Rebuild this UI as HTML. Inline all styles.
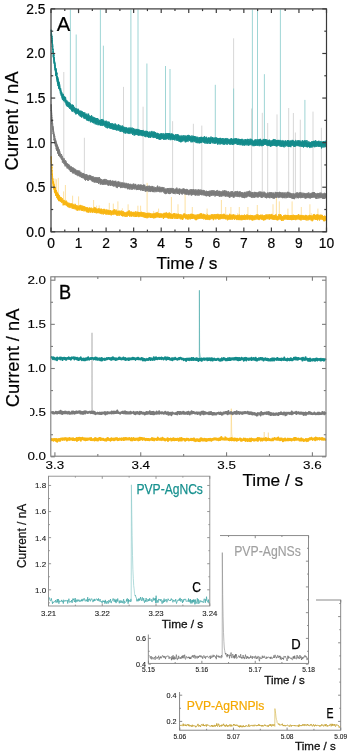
<!DOCTYPE html>
<html><head><meta charset="utf-8"><style>
html,body{margin:0;padding:0;background:#fff;width:350px;height:755px;overflow:hidden}
svg{display:block;font-family:"Liberation Sans",sans-serif;will-change:transform}
</style></head><body><svg width="350" height="755" viewBox="0 0 350 755"><g><line x1="63.80" y1="72.00" x2="63.80" y2="161.00" stroke="#d2d2d2" stroke-width="0.9"/><line x1="84.40" y1="137.80" x2="84.40" y2="176.20" stroke="#d2d2d2" stroke-width="0.9"/><line x1="123.50" y1="86.90" x2="123.50" y2="185.39" stroke="#d2d2d2" stroke-width="0.9"/><line x1="143.10" y1="106.70" x2="143.10" y2="188.06" stroke="#d2d2d2" stroke-width="0.9"/><line x1="172.60" y1="121.20" x2="172.60" y2="190.88" stroke="#d2d2d2" stroke-width="0.9"/><line x1="193.40" y1="123.80" x2="193.40" y2="192.25" stroke="#d2d2d2" stroke-width="0.9"/><line x1="201.80" y1="125.60" x2="201.80" y2="192.71" stroke="#d2d2d2" stroke-width="0.9"/><line x1="233.60" y1="38.30" x2="233.60" y2="193.99" stroke="#d2d2d2" stroke-width="0.9"/><line x1="251.60" y1="108.50" x2="251.60" y2="194.50" stroke="#d2d2d2" stroke-width="0.9"/><line x1="262.30" y1="112.80" x2="262.30" y2="194.74" stroke="#d2d2d2" stroke-width="0.9"/><line x1="267.70" y1="123.00" x2="267.70" y2="194.85" stroke="#d2d2d2" stroke-width="0.9"/><line x1="277.00" y1="114.40" x2="277.00" y2="195.02" stroke="#d2d2d2" stroke-width="0.9"/><line x1="288.70" y1="108.00" x2="288.70" y2="195.21" stroke="#d2d2d2" stroke-width="0.9"/><line x1="293.40" y1="113.00" x2="293.40" y2="195.27" stroke="#d2d2d2" stroke-width="0.9"/><line x1="295.40" y1="132.50" x2="295.40" y2="195.30" stroke="#d2d2d2" stroke-width="0.9"/><line x1="300.30" y1="119.70" x2="300.30" y2="195.36" stroke="#d2d2d2" stroke-width="0.9"/><line x1="313.00" y1="111.60" x2="313.00" y2="195.51" stroke="#d2d2d2" stroke-width="0.9"/><line x1="321.40" y1="127.80" x2="321.40" y2="195.59" stroke="#d2d2d2" stroke-width="0.9"/><line x1="70.40" y1="9.50" x2="70.40" y2="106.55" stroke="#93d0d0" stroke-width="0.9"/><line x1="76.20" y1="34.50" x2="76.20" y2="111.10" stroke="#93d0d0" stroke-width="0.9"/><line x1="100.40" y1="9.50" x2="100.40" y2="122.47" stroke="#93d0d0" stroke-width="0.9"/><line x1="103.40" y1="45.70" x2="103.40" y2="123.51" stroke="#93d0d0" stroke-width="0.9"/><line x1="130.90" y1="9.50" x2="130.90" y2="130.92" stroke="#93d0d0" stroke-width="0.9"/><line x1="138.00" y1="9.50" x2="138.00" y2="132.34" stroke="#93d0d0" stroke-width="0.9"/><line x1="146.90" y1="63.50" x2="146.90" y2="133.89" stroke="#93d0d0" stroke-width="0.9"/><line x1="165.50" y1="66.00" x2="165.50" y2="136.50" stroke="#93d0d0" stroke-width="0.9"/><line x1="170.00" y1="69.00" x2="170.00" y2="137.03" stroke="#93d0d0" stroke-width="0.9"/><line x1="215.30" y1="84.80" x2="215.30" y2="140.74" stroke="#93d0d0" stroke-width="0.9"/><line x1="233.60" y1="88.50" x2="233.60" y2="141.68" stroke="#93d0d0" stroke-width="0.9"/><line x1="252.40" y1="9.50" x2="252.40" y2="142.45" stroke="#93d0d0" stroke-width="0.9"/><line x1="257.50" y1="9.50" x2="257.50" y2="142.63" stroke="#93d0d0" stroke-width="0.9"/><line x1="264.40" y1="74.20" x2="264.40" y2="142.85" stroke="#93d0d0" stroke-width="0.9"/><line x1="280.40" y1="9.50" x2="280.40" y2="143.31" stroke="#93d0d0" stroke-width="0.9"/><line x1="304.90" y1="99.90" x2="304.90" y2="143.87" stroke="#93d0d0" stroke-width="0.9"/><line x1="55.00" y1="178.60" x2="55.00" y2="190.37" stroke="#fcd98a" stroke-width="0.8"/><line x1="56.40" y1="179.30" x2="56.40" y2="193.68" stroke="#fcd98a" stroke-width="0.8"/><line x1="58.30" y1="177.90" x2="58.30" y2="196.89" stroke="#fcd98a" stroke-width="0.8"/><line x1="63.60" y1="191.40" x2="63.60" y2="202.22" stroke="#fcd98a" stroke-width="0.8"/><line x1="65.40" y1="185.00" x2="65.40" y2="203.35" stroke="#fcd98a" stroke-width="0.8"/><line x1="72.60" y1="195.70" x2="72.60" y2="206.27" stroke="#fcd98a" stroke-width="0.8"/><line x1="78.60" y1="196.40" x2="78.60" y2="207.78" stroke="#fcd98a" stroke-width="0.8"/><line x1="93.60" y1="200.00" x2="93.60" y2="210.36" stroke="#fcd98a" stroke-width="0.8"/><line x1="109.30" y1="202.90" x2="109.30" y2="212.26" stroke="#fcd98a" stroke-width="0.8"/><line x1="113.30" y1="203.60" x2="113.30" y2="212.66" stroke="#fcd98a" stroke-width="0.8"/><line x1="117.90" y1="201.40" x2="117.90" y2="213.08" stroke="#fcd98a" stroke-width="0.8"/><line x1="128.10" y1="204.30" x2="128.10" y2="213.90" stroke="#fcd98a" stroke-width="0.8"/><line x1="137.90" y1="205.70" x2="137.90" y2="214.54" stroke="#fcd98a" stroke-width="0.8"/><line x1="140.60" y1="205.70" x2="140.60" y2="214.70" stroke="#fcd98a" stroke-width="0.8"/><line x1="147.10" y1="182.90" x2="147.10" y2="215.05" stroke="#fcd98a" stroke-width="0.8"/><line x1="158.60" y1="208.60" x2="158.60" y2="215.57" stroke="#fcd98a" stroke-width="0.8"/><line x1="171.40" y1="197.00" x2="171.40" y2="216.03" stroke="#fcd98a" stroke-width="0.8"/><line x1="178.00" y1="204.30" x2="178.00" y2="216.23" stroke="#fcd98a" stroke-width="0.8"/><line x1="185.10" y1="194.30" x2="185.10" y2="216.42" stroke="#fcd98a" stroke-width="0.8"/><line x1="192.30" y1="207.00" x2="192.30" y2="216.58" stroke="#fcd98a" stroke-width="0.8"/><line x1="207.10" y1="208.60" x2="207.10" y2="216.86" stroke="#fcd98a" stroke-width="0.8"/><line x1="221.40" y1="200.00" x2="221.40" y2="217.06" stroke="#fcd98a" stroke-width="0.8"/><line x1="225.70" y1="207.00" x2="225.70" y2="217.11" stroke="#fcd98a" stroke-width="0.8"/><line x1="230.90" y1="207.00" x2="230.90" y2="217.17" stroke="#fcd98a" stroke-width="0.8"/><line x1="239.30" y1="207.00" x2="239.30" y2="217.25" stroke="#fcd98a" stroke-width="0.8"/><line x1="247.90" y1="207.00" x2="247.90" y2="217.32" stroke="#fcd98a" stroke-width="0.8"/><line x1="257.30" y1="205.00" x2="257.30" y2="217.38" stroke="#fcd98a" stroke-width="0.8"/><line x1="273.00" y1="204.30" x2="273.00" y2="217.47" stroke="#fcd98a" stroke-width="0.8"/><line x1="276.40" y1="197.00" x2="276.40" y2="217.48" stroke="#fcd98a" stroke-width="0.8"/><line x1="279.30" y1="201.40" x2="279.30" y2="217.49" stroke="#fcd98a" stroke-width="0.8"/><line x1="287.90" y1="208.60" x2="287.90" y2="217.53" stroke="#fcd98a" stroke-width="0.8"/><line x1="292.10" y1="201.40" x2="292.10" y2="217.54" stroke="#fcd98a" stroke-width="0.8"/><line x1="301.30" y1="207.00" x2="301.30" y2="217.57" stroke="#fcd98a" stroke-width="0.8"/><line x1="309.90" y1="204.30" x2="309.90" y2="217.59" stroke="#fcd98a" stroke-width="0.8"/><line x1="317.90" y1="208.60" x2="317.90" y2="217.61" stroke="#fcd98a" stroke-width="0.8"/><line x1="94.07" y1="206.43" x2="94.07" y2="210.43" stroke="#fcd98a" stroke-width="0.7"/><line x1="219.40" y1="214.92" x2="219.40" y2="217.04" stroke="#fcd98a" stroke-width="0.7"/><line x1="99.20" y1="205.40" x2="99.20" y2="211.11" stroke="#fcd98a" stroke-width="0.7"/><line x1="78.66" y1="205.28" x2="78.66" y2="207.80" stroke="#fcd98a" stroke-width="0.7"/><line x1="311.31" y1="213.10" x2="311.31" y2="217.59" stroke="#fcd98a" stroke-width="0.7"/><line x1="157.78" y1="211.49" x2="157.78" y2="215.54" stroke="#fcd98a" stroke-width="0.7"/><line x1="235.65" y1="214.11" x2="235.65" y2="217.21" stroke="#fcd98a" stroke-width="0.7"/><line x1="96.56" y1="205.62" x2="96.56" y2="210.77" stroke="#fcd98a" stroke-width="0.7"/><line x1="237.65" y1="213.18" x2="237.65" y2="217.23" stroke="#fcd98a" stroke-width="0.7"/><line x1="276.44" y1="213.28" x2="276.44" y2="217.48" stroke="#fcd98a" stroke-width="0.7"/><line x1="319.94" y1="214.79" x2="319.94" y2="217.61" stroke="#fcd98a" stroke-width="0.7"/><line x1="206.74" y1="212.92" x2="206.74" y2="216.85" stroke="#fcd98a" stroke-width="0.7"/><line x1="153.62" y1="210.99" x2="153.62" y2="215.36" stroke="#fcd98a" stroke-width="0.7"/><line x1="122.35" y1="208.25" x2="122.35" y2="213.46" stroke="#fcd98a" stroke-width="0.7"/><polygon fill="#f8b612" stroke="#f8b612" stroke-width="0.9" stroke-linejoin="round" points="51.2,156.3 51.2,156.3 51.3,156.7 51.3,157.6 51.3,157.4 51.4,159.0 51.4,159.0 51.4,159.6 51.4,160.3 51.5,160.4 51.5,160.8 51.5,162.2 51.5,162.9 51.6,163.8 51.6,164.2 51.6,164.1 51.7,165.0 51.7,165.8 51.7,166.1 51.7,166.3 51.8,165.9 51.8,167.4 51.8,166.9 51.8,168.0 51.9,167.4 51.9,168.8 51.9,168.7 51.9,169.9 52.0,170.7 52.0,170.8 52.0,170.1 52.1,170.6 52.1,171.1 52.1,172.4 52.1,172.4 52.2,172.7 52.2,173.1 52.2,173.6 52.2,173.7 52.3,174.6 52.3,174.0 52.3,174.4 52.4,173.7 52.4,173.9 52.4,174.6 52.4,174.4 52.5,175.2 52.5,176.1 52.5,176.0 52.5,175.9 52.6,176.2 52.6,176.7 52.6,176.7 52.6,177.6 52.7,177.7 52.7,178.1 52.7,178.5 52.8,178.2 52.8,178.2 52.8,179.3 52.8,178.8 52.9,179.3 52.9,179.0 52.9,178.8 52.9,179.0 53.0,179.1 53.0,179.6 53.0,179.4 53.0,179.9 53.1,180.8 53.1,180.6 53.1,181.4 53.2,181.1 53.2,181.5 53.2,181.2 53.2,181.9 53.3,183.1 53.3,182.5 53.3,182.7 53.3,182.3 53.4,182.5 53.4,181.7 53.4,182.0 53.5,183.0 53.5,183.2 53.5,182.6 53.5,182.9 53.6,183.1 53.6,183.0 53.6,182.6 53.6,182.7 53.7,183.4 53.7,182.8 53.7,183.3 53.7,183.7 53.8,183.6 53.8,184.5 53.8,184.2 53.9,184.7 53.9,184.4 53.9,184.5 53.9,185.1 54.0,185.1 54.0,184.7 54.0,185.1 54.0,185.0 54.1,184.8 54.1,185.5 54.1,184.8 54.2,185.5 54.2,185.7 54.2,185.6 54.2,185.2 54.3,186.4 54.3,186.4 54.3,186.6 54.3,187.1 54.4,187.1 54.4,186.8 54.4,187.4 54.4,186.5 54.5,187.6 54.5,187.1 54.5,187.5 54.6,187.8 54.6,187.2 54.6,186.9 54.6,187.6 54.7,187.2 54.7,187.2 54.7,187.3 54.7,188.3 54.8,188.0 54.8,188.0 54.8,187.4 54.9,188.3 54.9,187.5 54.9,188.5 54.9,187.9 55.0,189.3 55.0,187.5 55.0,189.0 55.0,188.7 55.1,187.6 55.1,188.4 55.1,189.1 55.1,189.2 55.2,187.9 55.2,188.3 55.2,188.0 55.3,188.4 55.3,188.5 55.3,189.7 55.3,189.1 55.4,188.8 55.4,189.1 55.4,189.4 55.4,189.6 55.5,189.1 55.5,190.2 55.5,189.0 55.6,189.5 55.6,190.1 55.6,190.8 55.6,190.2 55.7,190.4 55.7,191.1 55.7,190.8 55.7,191.1 55.8,191.1 55.8,190.9 55.8,191.0 55.8,191.0 55.9,190.6 55.9,191.5 55.9,190.0 56.0,190.5 56.0,191.7 56.0,191.2 56.0,190.9 56.1,191.3 56.1,191.5 56.1,190.9 56.1,191.4 56.2,190.8 56.2,190.6 56.2,190.6 56.3,191.0 56.3,190.2 56.3,190.8 56.3,191.3 56.4,190.9 56.4,190.7 56.4,191.6 56.4,191.5 56.5,191.7 56.5,192.0 56.5,191.7 56.5,193.5 56.6,191.5 56.6,191.6 56.6,191.1 56.7,191.6 56.7,192.7 56.7,192.2 56.7,192.6 56.8,192.2 56.8,193.3 56.8,192.7 56.8,192.3 56.9,193.5 56.9,193.0 56.9,193.6 57.0,193.7 57.0,193.8 57.0,193.5 57.0,193.2 57.1,193.0 57.1,194.1 57.1,193.6 57.1,193.8 57.2,193.5 57.2,192.8 57.2,192.9 57.2,194.0 57.3,193.2 57.3,193.4 57.3,192.7 57.4,193.2 57.4,193.3 57.4,193.1 57.4,193.3 57.5,193.0 57.5,193.2 57.5,193.6 57.5,193.7 57.6,193.5 57.6,194.5 57.6,193.9 57.7,194.0 57.7,193.9 57.7,194.9 57.7,193.8 57.8,193.5 57.8,193.9 57.8,194.7 57.8,193.9 57.9,195.1 57.9,194.4 57.9,193.8 57.9,194.3 58.0,195.2 58.0,194.0 58.0,194.0 58.1,194.7 58.1,194.9 58.1,194.8 58.1,194.1 58.2,194.5 58.2,194.4 58.2,195.0 58.2,195.8 58.3,194.9 58.3,195.4 58.3,194.7 58.4,195.4 58.4,194.6 58.4,194.6 58.4,195.2 58.5,194.8 58.5,195.8 58.5,194.7 58.5,195.1 58.6,195.4 58.6,195.3 58.6,195.4 58.6,196.1 58.7,197.1 58.7,195.3 58.7,196.0 58.8,195.6 58.8,195.4 58.8,196.2 58.8,195.5 58.9,195.7 58.9,196.4 58.9,194.9 58.9,196.0 59.0,196.0 59.0,195.6 59.0,196.5 59.0,196.6 59.1,196.0 59.1,196.6 59.1,195.8 59.2,196.9 59.2,196.7 59.2,196.3 59.2,196.9 59.3,196.6 59.5,197.3 59.8,196.4 60.0,197.2 60.2,197.3 60.5,198.1 60.7,197.1 61.0,198.3 61.2,197.3 61.5,198.4 61.7,198.5 61.9,199.0 62.2,198.5 62.4,198.2 62.7,198.7 62.9,200.6 63.1,200.4 63.4,200.2 63.6,201.0 63.9,200.1 64.1,200.3 64.4,200.2 64.6,201.8 64.8,202.3 65.1,201.1 65.3,201.5 65.6,201.8 65.8,202.2 66.1,200.5 66.3,202.0 66.5,202.3 66.8,201.5 67.0,202.3 67.3,202.5 67.5,202.8 67.8,202.5 68.0,202.9 68.2,202.8 68.5,203.4 68.7,203.3 69.0,203.3 69.2,202.8 69.5,204.2 69.7,203.9 69.9,203.9 70.2,203.4 70.4,203.6 70.7,204.3 70.9,204.0 71.2,203.4 71.4,203.6 71.6,203.8 71.9,203.8 72.1,203.5 72.4,204.5 72.6,204.3 72.9,204.3 73.1,203.9 73.3,204.4 73.6,204.6 73.8,205.3 74.1,204.8 74.3,205.6 74.6,205.0 74.8,204.8 75.0,203.8 75.3,204.5 75.5,204.4 75.8,205.0 76.0,205.4 76.3,206.1 76.5,205.6 76.7,205.2 77.0,206.9 77.2,206.0 77.5,205.8 77.7,205.9 78.0,205.5 78.2,206.3 78.4,206.1 78.7,206.4 78.9,206.2 79.2,205.9 79.4,206.0 79.7,205.4 79.9,205.4 80.1,205.4 80.4,204.9 80.6,205.9 80.9,205.7 81.1,206.6 81.4,206.2 81.6,205.5 81.8,206.5 82.1,207.0 82.3,205.7 82.6,206.5 82.8,206.7 83.1,205.9 83.3,206.3 83.5,206.4 83.8,206.0 84.0,206.6 84.3,206.7 84.5,206.2 84.8,206.8 85.0,207.4 85.2,206.9 85.5,207.1 85.7,207.5 86.0,207.1 86.2,207.6 86.5,207.7 86.7,207.3 86.9,208.1 87.2,208.1 87.4,208.0 87.7,207.3 87.9,207.9 88.2,208.2 88.4,208.0 88.6,208.6 88.9,208.6 89.1,207.8 89.4,207.8 89.6,207.6 89.9,208.3 90.1,208.0 90.3,207.9 90.6,208.3 90.8,207.9 91.1,208.2 91.3,208.4 91.6,207.7 91.8,208.3 92.0,208.8 92.3,208.5 92.5,208.5 92.8,209.7 93.0,208.8 93.3,208.6 93.5,208.9 93.7,208.8 94.0,208.3 94.2,207.3 94.5,208.1 94.7,208.2 95.0,209.3 95.2,207.3 95.4,209.1 95.7,208.2 95.9,208.7 96.2,208.5 96.4,208.8 96.7,209.3 96.9,208.7 97.1,209.4 97.4,208.9 97.6,208.9 97.9,209.0 98.1,208.8 98.4,209.0 98.6,209.4 98.8,208.3 99.1,208.2 99.3,209.0 99.6,209.8 99.8,209.5 100.1,209.8 100.3,209.8 100.5,209.1 100.8,209.6 101.0,208.5 101.3,209.4 101.5,210.0 101.8,209.0 102.0,208.9 102.2,209.1 102.5,209.8 102.7,210.0 103.0,210.7 103.2,210.4 103.5,209.2 103.7,208.9 103.9,209.8 104.2,210.3 104.4,208.9 104.7,209.4 104.9,209.6 105.2,210.1 105.4,209.9 105.6,210.2 105.9,210.2 106.1,209.6 106.4,210.0 106.6,210.7 106.9,209.5 107.1,209.7 107.3,210.4 107.6,210.9 107.8,210.1 108.1,210.5 108.3,209.8 108.6,210.5 108.8,210.0 109.0,210.7 109.3,210.7 109.5,210.6 109.8,210.9 110.0,211.1 110.3,210.4 110.5,211.1 110.7,210.3 111.0,211.5 111.2,212.2 111.5,211.1 111.7,211.0 111.9,210.9 112.2,211.3 112.4,210.7 112.7,211.1 112.9,210.6 113.2,210.4 113.4,210.6 113.6,210.5 113.9,209.6 114.1,211.2 114.4,210.3 114.6,209.3 114.9,210.6 115.1,210.4 115.3,210.7 115.6,211.0 115.8,210.5 116.1,209.6 116.3,211.0 116.6,211.2 116.8,211.6 117.0,210.8 117.3,211.2 117.5,211.4 117.8,210.9 118.0,210.9 118.3,211.3 118.5,210.8 118.7,212.1 119.0,210.9 119.2,211.3 119.5,211.1 119.7,210.8 120.0,211.2 120.2,211.3 120.4,211.5 120.7,211.2 120.9,210.8 121.2,211.4 121.4,210.6 121.7,211.2 121.9,211.7 122.1,211.9 122.4,211.2 122.6,211.4 122.9,212.8 123.1,211.4 123.4,211.2 123.6,211.5 123.8,212.0 124.1,212.8 124.3,212.2 124.6,212.5 124.8,212.4 125.1,212.5 125.3,212.8 125.5,212.5 125.8,212.8 126.0,212.4 126.3,212.2 126.5,212.5 126.8,211.9 127.0,212.3 127.2,211.7 127.5,211.9 127.7,211.7 128.0,212.1 128.2,211.7 128.5,211.5 128.7,212.4 128.9,210.5 129.2,211.4 129.4,210.6 129.7,211.8 129.9,212.1 130.2,212.3 130.4,212.3 130.6,211.6 130.9,213.0 131.1,212.3 131.4,212.1 131.6,211.6 131.9,212.4 132.1,212.0 132.3,212.1 132.6,212.6 132.8,212.5 133.1,212.2 133.3,213.2 133.6,212.1 133.8,211.8 134.0,212.3 134.3,212.3 134.5,212.6 134.8,212.4 135.0,212.5 135.3,212.2 135.5,211.5 135.7,212.1 136.0,211.7 136.2,212.3 136.5,212.7 136.7,212.5 137.0,213.4 137.2,211.6 137.4,211.9 137.7,212.2 137.9,213.0 138.2,212.6 138.4,211.9 138.7,213.1 138.9,212.2 139.1,212.5 139.4,213.2 139.6,212.3 139.9,212.2 140.1,212.7 140.4,212.4 140.6,212.5 140.8,212.0 141.1,212.4 141.3,211.9 141.6,211.8 141.8,213.3 142.1,212.7 142.3,213.1 142.5,212.4 142.8,213.1 143.0,212.9 143.3,212.4 143.5,213.2 143.8,212.7 144.0,213.0 144.2,212.5 144.5,213.8 144.7,213.5 145.0,213.2 145.2,212.7 145.5,213.1 145.7,213.9 145.9,213.3 146.2,213.9 146.4,213.7 146.7,213.1 146.9,214.5 147.2,212.9 147.4,213.8 147.6,213.6 147.9,212.8 148.1,213.6 148.4,213.8 148.6,213.3 148.9,212.8 149.1,213.3 149.3,213.3 149.6,213.1 149.8,213.8 150.1,213.3 150.3,213.6 150.6,213.9 150.8,213.1 151.0,213.3 151.3,213.9 151.5,213.8 151.8,214.3 152.0,214.1 152.3,213.9 152.5,214.0 152.7,213.7 153.0,213.9 153.2,213.6 153.5,214.2 153.7,213.6 154.0,213.8 154.2,214.0 154.4,213.8 154.7,213.9 154.9,212.9 155.2,213.9 155.4,213.4 155.7,213.8 155.9,213.6 156.1,212.5 156.4,214.6 156.6,213.5 156.9,213.3 157.1,212.2 157.4,213.4 157.6,213.4 157.8,213.2 158.1,213.4 158.3,213.8 158.6,213.2 158.8,213.0 159.1,214.1 159.3,213.7 159.5,213.6 159.8,214.7 160.0,213.7 160.3,213.4 160.5,213.8 160.7,213.5 161.0,213.8 161.2,213.8 161.5,213.5 161.7,213.7 162.0,213.9 162.2,213.8 162.4,213.9 162.7,214.3 162.9,213.8 163.2,214.2 163.4,213.7 163.7,213.6 163.9,214.2 164.1,212.8 164.4,214.0 164.6,215.4 164.9,213.0 165.1,214.2 165.4,212.7 165.6,213.4 165.8,213.9 166.1,214.0 166.3,212.8 166.6,212.4 166.8,212.5 167.1,213.5 167.3,213.0 167.5,213.5 167.8,213.9 168.0,214.0 168.3,214.0 168.5,213.7 168.8,213.1 169.0,214.7 169.2,212.4 169.5,214.3 169.7,213.8 170.0,213.7 170.2,213.4 170.5,213.4 170.7,214.0 170.9,214.2 171.2,213.8 171.4,214.7 171.7,214.2 171.9,214.9 172.2,214.1 172.4,213.9 172.6,214.3 172.9,214.6 173.1,213.5 173.4,213.7 173.6,214.4 173.9,213.4 174.1,213.3 174.3,214.0 174.6,213.4 174.8,213.1 175.1,213.5 175.3,214.2 175.6,214.3 175.8,214.5 176.0,214.4 176.3,213.6 176.5,214.7 176.8,214.9 177.0,214.1 177.3,214.7 177.5,214.2 177.7,214.8 178.0,214.8 178.2,213.6 178.5,214.9 178.7,214.0 179.0,214.4 179.2,214.2 179.4,214.6 179.7,215.0 179.9,214.8 180.2,215.5 180.4,215.3 180.7,215.1 180.9,214.0 181.1,215.2 181.4,215.3 181.6,215.1 181.9,215.1 182.1,215.5 182.4,215.5 182.6,215.9 182.8,215.3 183.1,214.3 183.3,214.7 183.6,213.7 183.8,214.3 184.1,214.1 184.3,213.6 184.5,213.9 184.8,213.8 185.0,213.6 185.3,214.5 185.5,215.7 185.8,214.8 186.0,215.1 186.2,214.8 186.5,214.6 186.7,216.0 187.0,214.6 187.2,215.2 187.5,214.9 187.7,215.2 187.9,214.8 188.2,215.2 188.4,214.3 188.7,214.8 188.9,215.5 189.2,214.4 189.4,214.7 189.6,215.6 189.9,215.3 190.1,215.4 190.4,213.9 190.6,214.6 190.9,214.1 191.1,213.9 191.3,214.6 191.6,214.9 191.8,213.8 192.1,214.0 192.3,214.1 192.6,214.7 192.8,214.0 193.0,215.6 193.3,214.7 193.5,214.4 193.8,214.6 194.0,216.1 194.3,215.8 194.5,214.8 194.7,215.3 195.0,215.6 195.2,214.7 195.5,215.5 195.7,216.4 196.0,215.4 196.2,215.4 196.4,214.7 196.7,215.1 196.9,215.5 197.2,214.7 197.4,214.4 197.7,214.6 197.9,215.5 198.1,214.7 198.4,214.5 198.6,214.7 198.9,215.0 199.1,214.7 199.4,213.9 199.6,214.7 199.8,214.2 200.1,214.7 200.3,213.5 200.6,214.8 200.8,213.9 201.1,213.3 201.3,214.5 201.5,213.7 201.8,214.1 202.0,213.8 202.3,214.7 202.5,215.0 202.8,215.0 203.0,214.7 203.2,213.8 203.5,214.0 203.7,214.8 204.0,214.4 204.2,215.1 204.5,215.0 204.7,214.4 204.9,214.5 205.2,214.5 205.4,214.8 205.7,215.2 205.9,215.5 206.2,215.9 206.4,214.9 206.6,215.0 206.9,216.0 207.1,215.6 207.4,215.4 207.6,214.3 207.8,214.8 208.1,215.3 208.3,215.2 208.6,216.5 208.8,215.5 209.1,215.8 209.3,215.2 209.5,215.1 209.8,215.3 210.0,215.1 210.3,215.3 210.5,215.4 210.8,215.3 211.0,215.4 211.2,214.3 211.5,214.6 211.7,214.8 212.0,215.5 212.2,214.6 212.5,215.0 212.7,214.4 212.9,215.2 213.2,215.0 213.4,214.7 213.7,214.8 213.9,215.3 214.2,215.4 214.4,214.4 214.6,215.1 214.9,214.4 215.1,215.5 215.4,215.3 215.6,214.6 215.9,214.3 216.1,215.4 216.3,214.5 216.6,214.4 216.8,214.0 217.1,214.4 217.3,214.9 217.6,214.6 217.8,213.8 218.0,214.8 218.3,214.6 218.5,214.3 218.8,215.5 219.0,215.0 219.3,215.5 219.5,214.7 219.7,215.1 220.0,214.4 220.2,215.5 220.5,214.6 220.7,215.4 221.0,214.2 221.2,214.9 221.4,214.9 221.7,215.0 221.9,215.6 222.2,214.6 222.4,215.5 222.7,215.3 222.9,214.2 223.1,214.1 223.4,214.1 223.6,214.7 223.9,215.1 224.1,213.8 224.4,215.1 224.6,215.0 224.8,214.7 225.1,215.6 225.3,214.9 225.6,216.0 225.8,215.8 226.1,215.4 226.3,216.0 226.5,215.6 226.8,215.2 227.0,214.6 227.3,215.4 227.5,216.0 227.8,215.5 228.0,216.1 228.2,215.4 228.5,215.3 228.7,215.5 229.0,214.9 229.2,215.1 229.5,214.7 229.7,213.8 229.9,214.1 230.2,215.4 230.4,215.0 230.7,215.2 230.9,214.6 231.2,214.8 231.4,215.7 231.6,215.3 231.9,214.8 232.1,215.8 232.4,215.0 232.6,215.0 232.9,215.6 233.1,214.3 233.3,215.3 233.6,214.7 233.8,214.7 234.1,214.6 234.3,215.4 234.6,215.1 234.8,215.2 235.0,215.2 235.3,215.8 235.5,216.0 235.8,215.6 236.0,215.8 236.3,215.3 236.5,215.5 236.7,216.0 237.0,215.9 237.2,216.3 237.5,214.9 237.7,217.0 238.0,215.3 238.2,215.7 238.4,215.9 238.7,214.9 238.9,215.0 239.2,214.7 239.4,215.1 239.7,214.9 239.9,215.8 240.1,215.9 240.4,215.5 240.6,216.1 240.9,216.3 241.1,215.5 241.4,215.3 241.6,215.1 241.8,215.1 242.1,215.9 242.3,215.6 242.6,215.2 242.8,215.2 243.1,215.6 243.3,215.2 243.5,215.5 243.8,215.4 244.0,216.2 244.3,215.9 244.5,214.6 244.8,215.0 245.0,215.4 245.2,215.0 245.5,215.5 245.7,215.2 246.0,215.5 246.2,215.2 246.5,215.2 246.7,215.2 246.9,214.4 247.2,214.7 247.4,214.8 247.7,216.0 247.9,215.4 248.2,215.6 248.4,215.5 248.6,215.2 248.9,215.2 249.1,215.9 249.4,215.3 249.6,216.2 249.9,215.6 250.1,215.5 250.3,215.2 250.6,215.1 250.8,215.2 251.1,215.9 251.3,216.3 251.6,215.1 251.8,216.0 252.0,216.3 252.3,215.6 252.5,215.5 252.8,216.1 253.0,215.3 253.3,216.6 253.5,216.2 253.7,216.1 254.0,215.9 254.2,215.8 254.5,216.5 254.7,215.5 255.0,215.9 255.2,215.3 255.4,215.4 255.7,215.1 255.9,214.9 256.2,214.5 256.4,214.6 256.6,215.2 256.9,215.4 257.1,215.2 257.4,214.9 257.6,215.2 257.9,214.2 258.1,215.7 258.3,215.4 258.6,215.6 258.8,215.8 259.1,215.1 259.3,215.8 259.6,215.1 259.8,215.3 260.0,215.0 260.3,215.0 260.5,215.7 260.8,214.7 261.0,214.8 261.3,215.0 261.5,215.4 261.7,216.4 262.0,215.2 262.2,214.6 262.5,215.4 262.7,215.2 263.0,215.8 263.2,216.3 263.4,215.9 263.7,216.1 263.9,215.3 264.2,216.0 264.4,215.3 264.7,216.1 264.9,216.1 265.1,215.2 265.4,215.3 265.6,215.2 265.9,215.3 266.1,214.3 266.4,215.0 266.6,216.2 266.8,215.2 267.1,215.3 267.3,215.1 267.6,214.5 267.8,215.4 268.1,215.0 268.3,215.0 268.5,215.1 268.8,215.5 269.0,214.2 269.3,215.4 269.5,214.8 269.8,215.1 270.0,214.5 270.2,214.5 270.5,215.5 270.7,214.9 271.0,214.9 271.2,214.5 271.5,214.7 271.7,214.8 271.9,213.9 272.2,214.7 272.4,215.2 272.7,215.8 272.9,216.0 273.2,215.1 273.4,216.5 273.6,215.8 273.9,215.8 274.1,215.4 274.4,215.2 274.6,216.0 274.9,215.2 275.1,215.2 275.3,215.8 275.6,215.8 275.8,214.3 276.1,215.2 276.3,215.6 276.6,216.3 276.8,216.7 277.0,215.8 277.3,216.2 277.5,216.3 277.8,216.3 278.0,216.0 278.3,216.5 278.5,215.4 278.7,214.3 279.0,215.0 279.2,215.7 279.5,216.0 279.7,214.6 280.0,214.8 280.2,215.8 280.4,214.0 280.7,215.8 280.9,216.3 281.2,214.8 281.4,216.4 281.7,216.0 281.9,216.8 282.1,216.4 282.4,216.1 282.6,216.4 282.9,216.8 283.1,216.5 283.4,216.2 283.6,215.3 283.8,216.1 284.1,215.9 284.3,216.3 284.6,215.2 284.8,215.2 285.1,214.8 285.3,215.5 285.5,215.1 285.8,215.0 286.0,216.2 286.3,216.2 286.5,215.2 286.8,215.1 287.0,216.1 287.2,215.0 287.5,216.7 287.7,215.3 288.0,216.0 288.2,214.9 288.5,215.3 288.7,215.9 288.9,215.8 289.2,215.3 289.4,216.7 289.7,216.0 289.9,215.6 290.2,215.5 290.4,215.5 290.6,216.1 290.9,215.2 291.1,215.8 291.4,215.1 291.6,216.2 291.9,215.4 292.1,215.7 292.3,215.6 292.6,215.2 292.8,215.6 293.1,215.6 293.3,214.7 293.6,215.4 293.8,216.9 294.0,215.2 294.3,215.7 294.5,215.2 294.8,215.8 295.0,215.3 295.3,216.0 295.5,216.0 295.7,215.5 296.0,216.5 296.2,215.8 296.5,215.2 296.7,215.5 297.0,215.0 297.2,215.8 297.4,215.4 297.7,215.3 297.9,215.7 298.2,214.7 298.4,215.7 298.7,214.2 298.9,216.0 299.1,215.6 299.4,215.4 299.6,215.2 299.9,215.8 300.1,215.4 300.4,215.3 300.6,215.6 300.8,215.1 301.1,215.3 301.3,215.4 301.6,215.6 301.8,215.1 302.1,215.1 302.3,215.2 302.5,215.6 302.8,216.1 303.0,215.4 303.3,215.6 303.5,215.4 303.8,215.8 304.0,216.4 304.2,215.8 304.5,216.0 304.7,216.3 305.0,215.2 305.2,215.1 305.4,215.0 305.7,215.3 305.9,215.9 306.2,215.4 306.4,216.5 306.7,215.3 306.9,215.4 307.1,216.2 307.4,215.9 307.6,215.8 307.9,216.3 308.1,216.5 308.4,215.8 308.6,216.3 308.8,215.4 309.1,215.7 309.3,215.0 309.6,215.1 309.8,215.2 310.1,216.2 310.3,215.3 310.5,215.9 310.8,215.6 311.0,215.9 311.3,216.0 311.5,215.7 311.8,216.8 312.0,215.7 312.2,216.6 312.5,217.5 312.7,215.6 313.0,215.7 313.2,214.8 313.5,215.3 313.7,214.3 313.9,215.4 314.2,214.9 314.4,214.2 314.7,214.4 314.9,214.6 315.2,215.3 315.4,216.0 315.6,215.3 315.9,215.1 316.1,215.4 316.4,215.9 316.6,214.6 316.9,215.9 317.1,215.8 317.3,214.3 317.6,216.1 317.8,214.9 318.1,215.5 318.3,216.2 318.6,214.8 318.8,214.7 319.0,215.1 319.3,215.0 319.5,215.6 319.8,215.5 320.0,215.3 320.3,215.0 320.5,215.2 320.7,214.7 321.0,215.3 321.2,215.1 321.5,214.9 321.7,216.3 322.0,214.9 322.2,215.9 322.4,215.3 322.7,215.9 322.9,216.1 323.2,216.4 323.4,217.0 323.7,216.0 323.9,217.7 324.1,216.8 324.4,215.9 324.6,215.6 324.9,217.3 325.1,217.4 325.4,216.6 325.6,216.5 325.8,216.7 326.1,215.9 326.1,219.8 325.8,219.8 325.6,219.3 325.4,220.6 325.1,220.6 324.9,220.5 324.6,219.3 324.4,220.3 324.1,221.4 323.9,219.9 323.7,220.8 323.4,220.5 323.2,219.9 322.9,219.6 322.7,218.7 322.4,219.0 322.2,220.0 322.0,219.8 321.7,219.4 321.5,219.1 321.2,218.8 321.0,218.9 320.7,219.2 320.5,219.1 320.3,218.5 320.0,219.8 319.8,219.5 319.5,220.5 319.3,219.0 319.0,218.8 318.8,219.2 318.6,219.2 318.3,219.1 318.1,219.3 317.8,219.0 317.6,220.5 317.3,219.2 317.1,219.8 316.9,219.4 316.6,218.3 316.4,219.6 316.1,219.0 315.9,219.9 315.6,219.3 315.4,219.8 315.2,219.2 314.9,219.3 314.7,218.8 314.4,219.2 314.2,219.3 313.9,219.4 313.7,218.2 313.5,219.3 313.2,219.4 313.0,220.4 312.7,219.9 312.5,219.7 312.2,221.3 312.0,220.5 311.8,220.4 311.5,219.9 311.3,219.9 311.0,220.4 310.8,219.8 310.5,219.2 310.3,219.5 310.1,219.6 309.8,219.6 309.6,219.8 309.3,219.4 309.1,219.4 308.8,220.2 308.6,220.1 308.4,219.6 308.1,219.8 307.9,220.2 307.6,220.3 307.4,219.6 307.1,219.1 306.9,219.4 306.7,219.1 306.4,219.5 306.2,220.5 305.9,219.7 305.7,219.3 305.4,220.0 305.2,219.3 305.0,219.9 304.7,219.5 304.5,219.5 304.2,219.4 304.0,219.2 303.8,219.5 303.5,219.2 303.3,219.9 303.0,219.6 302.8,218.6 302.5,219.5 302.3,218.8 302.1,218.3 301.8,219.2 301.6,219.4 301.3,218.7 301.1,220.4 300.8,219.3 300.6,219.0 300.4,220.2 300.1,219.3 299.9,219.6 299.6,219.7 299.4,219.4 299.1,219.2 298.9,218.7 298.7,219.5 298.4,218.6 298.2,219.0 297.9,218.5 297.7,219.2 297.4,219.0 297.2,219.4 297.0,219.3 296.7,219.6 296.5,219.1 296.2,219.6 296.0,219.8 295.7,220.0 295.5,219.8 295.3,219.7 295.0,219.8 294.8,218.6 294.5,219.1 294.3,219.6 294.0,218.5 293.8,219.9 293.6,218.3 293.3,219.6 293.1,220.0 292.8,218.7 292.6,219.9 292.3,219.7 292.1,219.0 291.9,218.9 291.6,220.2 291.4,219.1 291.1,219.4 290.9,219.1 290.6,219.2 290.4,219.8 290.2,219.0 289.9,219.7 289.7,220.0 289.4,218.7 289.2,218.4 288.9,219.0 288.7,219.4 288.5,219.9 288.2,219.2 288.0,218.9 287.7,219.6 287.5,219.9 287.2,218.4 287.0,219.3 286.8,219.0 286.5,218.8 286.3,219.2 286.0,219.6 285.8,218.6 285.5,219.2 285.3,218.8 285.1,219.0 284.8,219.4 284.6,219.1 284.3,219.5 284.1,219.4 283.8,219.5 283.6,219.9 283.4,220.4 283.1,219.6 282.9,220.6 282.6,219.5 282.4,219.7 282.1,220.0 281.9,220.8 281.7,219.6 281.4,220.7 281.2,220.1 280.9,219.7 280.7,219.2 280.4,219.4 280.2,219.3 280.0,219.4 279.7,218.2 279.5,219.3 279.2,219.3 279.0,219.3 278.7,219.3 278.5,219.4 278.3,219.0 278.0,220.2 277.8,219.8 277.5,220.3 277.3,219.4 277.0,220.2 276.8,220.1 276.6,218.1 276.3,219.9 276.1,218.9 275.8,218.6 275.6,219.4 275.3,219.5 275.1,219.0 274.9,218.8 274.6,219.5 274.4,218.9 274.1,219.7 273.9,219.2 273.6,219.8 273.4,219.5 273.2,218.9 272.9,219.5 272.7,219.4 272.4,219.3 272.2,219.1 271.9,219.1 271.7,218.4 271.5,219.2 271.2,218.3 271.0,218.5 270.7,218.4 270.5,219.1 270.2,218.3 270.0,219.1 269.8,218.4 269.5,219.5 269.3,218.8 269.0,219.4 268.8,219.3 268.5,218.4 268.3,218.2 268.1,218.5 267.8,218.7 267.6,218.9 267.3,219.0 267.1,219.1 266.8,218.8 266.6,218.8 266.4,218.2 266.1,219.3 265.9,218.9 265.6,219.3 265.4,218.7 265.1,220.1 264.9,219.3 264.7,219.9 264.4,219.9 264.2,219.5 263.9,220.4 263.7,220.1 263.4,220.3 263.2,220.1 263.0,219.4 262.7,219.6 262.5,219.6 262.2,218.8 262.0,219.5 261.7,218.7 261.5,219.4 261.3,218.9 261.0,219.2 260.8,218.9 260.5,218.3 260.3,218.9 260.0,219.1 259.8,219.3 259.6,219.8 259.3,220.1 259.1,218.7 258.8,219.0 258.6,219.8 258.3,219.0 258.1,219.0 257.9,219.3 257.6,219.1 257.4,219.0 257.1,219.1 256.9,219.4 256.6,218.8 256.4,218.8 256.2,219.1 255.9,219.5 255.7,218.5 255.4,218.7 255.2,219.6 255.0,219.3 254.7,220.0 254.5,220.1 254.2,219.7 254.0,218.9 253.7,219.4 253.5,220.0 253.3,220.2 253.0,220.0 252.8,219.9 252.5,219.0 252.3,220.6 252.0,219.8 251.8,220.1 251.6,219.3 251.3,219.5 251.1,220.0 250.8,219.2 250.6,219.2 250.3,218.9 250.1,219.4 249.9,219.6 249.6,219.3 249.4,219.8 249.1,219.7 248.9,219.6 248.6,219.3 248.4,219.1 248.2,218.7 247.9,218.8 247.7,219.6 247.4,218.9 247.2,218.9 246.9,219.6 246.7,218.2 246.5,218.7 246.2,219.3 246.0,219.4 245.7,219.6 245.5,219.2 245.2,219.3 245.0,219.8 244.8,219.4 244.5,219.9 244.3,219.4 244.0,219.0 243.8,219.9 243.5,219.3 243.3,219.2 243.1,219.2 242.8,219.6 242.6,219.9 242.3,220.1 242.1,219.0 241.8,219.4 241.6,219.4 241.4,220.1 241.1,220.2 240.9,219.1 240.6,219.2 240.4,218.9 240.1,220.1 239.9,219.3 239.7,220.1 239.4,219.8 239.2,219.5 238.9,219.7 238.7,218.9 238.4,220.0 238.2,220.0 238.0,219.6 237.7,219.3 237.5,219.3 237.2,219.8 237.0,220.1 236.7,219.0 236.5,219.5 236.3,219.5 236.0,219.0 235.8,218.8 235.5,217.8 235.3,218.9 235.0,219.0 234.8,218.7 234.6,220.0 234.3,219.4 234.1,218.6 233.8,218.9 233.6,218.1 233.3,218.5 233.1,218.1 232.9,219.1 232.6,219.5 232.4,218.9 232.1,219.1 231.9,219.5 231.6,219.2 231.4,218.7 231.2,218.6 230.9,219.7 230.7,219.3 230.4,219.2 230.2,219.1 229.9,219.1 229.7,219.0 229.5,219.3 229.2,219.6 229.0,218.7 228.7,219.2 228.5,218.9 228.2,219.8 228.0,219.9 227.8,219.8 227.5,220.3 227.3,219.4 227.0,218.7 226.8,218.5 226.5,219.3 226.3,219.1 226.1,218.9 225.8,219.3 225.6,219.2 225.3,218.9 225.1,218.9 224.8,218.6 224.6,218.2 224.4,218.8 224.1,218.6 223.9,219.0 223.6,219.0 223.4,218.3 223.1,217.9 222.9,218.2 222.7,218.5 222.4,218.8 222.2,218.9 221.9,219.0 221.7,218.7 221.4,217.8 221.2,218.7 221.0,218.8 220.7,218.7 220.5,219.0 220.2,219.2 220.0,219.2 219.7,217.9 219.5,218.6 219.3,219.4 219.0,218.1 218.8,219.6 218.5,219.4 218.3,218.6 218.0,218.4 217.8,218.0 217.6,218.2 217.3,219.0 217.1,218.8 216.8,218.7 216.6,218.4 216.3,217.9 216.1,218.0 215.9,219.5 215.6,219.0 215.4,218.5 215.1,218.7 214.9,218.6 214.6,218.8 214.4,219.0 214.2,219.0 213.9,218.9 213.7,219.2 213.4,220.2 213.2,218.7 212.9,219.2 212.7,218.2 212.5,218.4 212.2,218.4 212.0,218.8 211.7,218.5 211.5,218.2 211.2,219.1 211.0,219.2 210.8,218.9 210.5,218.7 210.3,218.8 210.0,219.8 209.8,219.2 209.5,219.2 209.3,220.1 209.1,219.6 208.8,218.4 208.6,219.3 208.3,219.5 208.1,218.6 207.8,219.6 207.6,219.6 207.4,218.8 207.1,219.2 206.9,219.5 206.6,219.5 206.4,219.3 206.2,219.3 205.9,219.1 205.7,219.6 205.4,219.6 205.2,219.0 204.9,218.9 204.7,219.1 204.5,218.3 204.2,218.7 204.0,218.9 203.7,219.3 203.5,218.6 203.2,218.3 203.0,218.2 202.8,218.9 202.5,218.5 202.3,218.8 202.0,217.0 201.8,218.2 201.5,218.5 201.3,218.3 201.1,218.5 200.8,216.8 200.6,218.3 200.3,218.5 200.1,218.3 199.8,217.7 199.6,218.7 199.4,218.2 199.1,218.1 198.9,218.9 198.6,218.8 198.4,218.5 198.1,217.9 197.9,219.1 197.7,218.9 197.4,218.8 197.2,218.5 196.9,219.5 196.7,220.0 196.4,219.0 196.2,220.2 196.0,219.3 195.7,220.1 195.5,219.7 195.2,219.2 195.0,218.5 194.7,219.3 194.5,219.1 194.3,218.1 194.0,218.1 193.8,218.6 193.5,218.5 193.3,218.3 193.0,217.9 192.8,217.9 192.6,219.0 192.3,217.9 192.1,218.2 191.8,218.9 191.6,218.1 191.3,218.8 191.1,218.3 190.9,218.6 190.6,218.8 190.4,218.4 190.1,219.4 189.9,219.2 189.6,218.7 189.4,218.5 189.2,218.4 188.9,218.8 188.7,218.6 188.4,219.2 188.2,219.5 187.9,218.8 187.7,219.4 187.5,218.2 187.2,219.0 187.0,219.0 186.7,218.5 186.5,218.0 186.2,218.6 186.0,219.3 185.8,218.7 185.5,218.4 185.3,218.3 185.0,218.3 184.8,217.3 184.5,217.8 184.3,217.8 184.1,217.3 183.8,218.1 183.6,218.0 183.3,218.7 183.1,219.2 182.8,219.0 182.6,220.0 182.4,219.3 182.1,219.3 181.9,218.4 181.6,218.9 181.4,219.2 181.1,219.1 180.9,219.1 180.7,218.5 180.4,219.2 180.2,218.7 179.9,218.7 179.7,218.4 179.4,218.3 179.2,217.7 179.0,217.4 178.7,217.9 178.5,217.8 178.2,218.1 178.0,219.0 177.7,218.5 177.5,217.1 177.3,218.9 177.0,218.1 176.8,217.6 176.5,218.6 176.3,217.8 176.0,218.3 175.8,218.4 175.6,217.7 175.3,217.6 175.1,218.4 174.8,218.9 174.6,217.6 174.3,217.8 174.1,217.4 173.9,217.5 173.6,217.4 173.4,217.6 173.1,217.4 172.9,218.9 172.6,218.2 172.4,218.9 172.2,218.0 171.9,218.1 171.7,218.6 171.4,218.2 171.2,218.1 170.9,218.6 170.7,218.5 170.5,217.9 170.2,217.9 170.0,217.8 169.7,218.4 169.5,217.2 169.2,217.6 169.0,218.2 168.8,217.7 168.5,218.2 168.3,218.5 168.0,217.4 167.8,218.2 167.5,217.0 167.3,217.3 167.1,217.7 166.8,216.9 166.6,216.9 166.3,216.0 166.1,217.7 165.8,216.5 165.6,216.4 165.4,217.3 165.1,217.3 164.9,217.2 164.6,217.9 164.4,218.0 164.1,217.6 163.9,217.2 163.7,217.5 163.4,219.0 163.2,218.2 162.9,217.8 162.7,217.6 162.4,216.8 162.2,216.6 162.0,217.5 161.7,217.4 161.5,217.4 161.2,217.3 161.0,217.4 160.7,217.3 160.5,217.2 160.3,216.5 160.0,217.7 159.8,216.9 159.5,217.9 159.3,217.5 159.1,217.3 158.8,217.1 158.6,216.5 158.3,217.5 158.1,217.3 157.8,217.1 157.6,217.1 157.4,217.3 157.1,217.0 156.9,217.2 156.6,217.1 156.4,216.7 156.1,217.5 155.9,217.3 155.7,217.9 155.4,217.1 155.2,217.8 154.9,218.2 154.7,217.8 154.4,217.1 154.2,217.9 154.0,217.8 153.7,218.1 153.5,218.3 153.2,217.9 153.0,217.3 152.7,217.4 152.5,218.0 152.3,217.6 152.0,217.6 151.8,217.0 151.5,217.2 151.3,217.1 151.0,218.0 150.8,216.8 150.6,217.9 150.3,217.1 150.1,217.1 149.8,217.1 149.6,217.4 149.3,215.9 149.1,216.6 148.9,216.8 148.6,217.5 148.4,217.5 148.1,217.5 147.9,217.7 147.6,218.2 147.4,217.4 147.2,217.6 146.9,217.3 146.7,217.5 146.4,218.2 146.2,217.7 145.9,217.4 145.7,216.7 145.5,217.7 145.2,217.3 145.0,217.9 144.7,217.4 144.5,216.8 144.2,216.9 144.0,216.8 143.8,217.4 143.5,216.0 143.3,216.5 143.0,216.7 142.8,216.4 142.5,216.9 142.3,216.8 142.1,216.8 141.8,216.2 141.6,216.1 141.3,216.5 141.1,216.9 140.8,215.9 140.6,215.9 140.4,216.1 140.1,216.2 139.9,216.0 139.6,216.6 139.4,215.4 139.1,216.6 138.9,217.1 138.7,216.7 138.4,216.9 138.2,216.0 137.9,215.4 137.7,215.9 137.4,216.3 137.2,215.6 137.0,216.5 136.7,216.2 136.5,216.9 136.2,216.5 136.0,217.0 135.7,215.7 135.5,216.9 135.3,216.5 135.0,216.0 134.8,216.6 134.5,216.6 134.3,215.8 134.0,215.5 133.8,215.7 133.6,216.3 133.3,216.4 133.1,216.5 132.8,215.6 132.6,216.0 132.3,215.9 132.1,216.2 131.9,216.0 131.6,216.4 131.4,215.9 131.1,216.5 130.9,216.3 130.6,215.3 130.4,216.1 130.2,215.7 129.9,215.8 129.7,216.7 129.4,215.4 129.2,215.4 128.9,216.0 128.7,215.5 128.5,215.0 128.2,215.1 128.0,214.6 127.7,215.7 127.5,216.5 127.2,215.6 127.0,216.2 126.8,216.3 126.5,216.5 126.3,215.7 126.0,216.1 125.8,217.0 125.5,216.0 125.3,215.5 125.1,215.1 124.8,216.1 124.6,216.5 124.3,215.9 124.1,215.6 123.8,215.9 123.6,215.4 123.4,216.2 123.1,215.7 122.9,216.3 122.6,215.4 122.4,216.2 122.1,216.0 121.9,214.9 121.7,216.0 121.4,215.0 121.2,215.2 120.9,214.9 120.7,214.9 120.4,215.2 120.2,214.6 120.0,214.7 119.7,214.8 119.5,215.5 119.2,215.4 119.0,215.1 118.7,215.6 118.5,214.4 118.3,214.6 118.0,214.5 117.8,214.8 117.5,215.0 117.3,215.7 117.0,214.2 116.8,215.5 116.6,214.8 116.3,215.0 116.1,214.2 115.8,214.4 115.6,214.2 115.3,214.2 115.1,214.3 114.9,213.9 114.6,213.8 114.4,214.4 114.1,213.5 113.9,214.2 113.6,214.6 113.4,214.7 113.2,214.5 112.9,213.8 112.7,213.7 112.4,213.9 112.2,215.0 111.9,214.5 111.7,214.7 111.5,214.7 111.2,215.4 111.0,214.1 110.7,213.6 110.5,214.1 110.3,214.7 110.0,214.9 109.8,213.9 109.5,214.4 109.3,214.1 109.0,214.1 108.8,214.0 108.6,214.6 108.3,214.2 108.1,214.4 107.8,213.8 107.6,213.9 107.3,214.2 107.1,214.6 106.9,214.0 106.6,214.0 106.4,214.3 106.1,213.8 105.9,213.2 105.6,214.4 105.4,213.7 105.2,213.6 104.9,214.0 104.7,213.9 104.4,213.5 104.2,213.7 103.9,213.3 103.7,213.9 103.5,213.7 103.2,214.6 103.0,213.7 102.7,213.4 102.5,213.7 102.2,212.2 102.0,213.3 101.8,213.6 101.5,214.2 101.3,213.4 101.0,213.0 100.8,213.6 100.5,213.4 100.3,212.4 100.1,213.5 99.8,212.7 99.6,213.1 99.3,212.9 99.1,212.9 98.8,212.8 98.6,212.9 98.4,212.8 98.1,212.9 97.9,212.8 97.6,213.0 97.4,211.6 97.1,213.1 96.9,212.5 96.7,212.8 96.4,213.3 96.2,212.9 95.9,212.3 95.7,212.3 95.4,212.8 95.2,212.8 95.0,212.0 94.7,212.4 94.5,212.9 94.2,211.0 94.0,211.5 93.7,212.1 93.5,212.3 93.3,211.8 93.0,212.3 92.8,212.6 92.5,212.7 92.3,211.7 92.0,212.5 91.8,212.2 91.6,211.4 91.3,211.3 91.1,211.6 90.8,212.0 90.6,212.3 90.3,212.6 90.1,212.7 89.9,211.4 89.6,211.3 89.4,211.4 89.1,211.9 88.9,212.4 88.6,211.6 88.4,212.4 88.2,211.6 87.9,212.6 87.7,211.0 87.4,212.0 87.2,211.7 86.9,212.0 86.7,212.1 86.5,212.2 86.2,211.4 86.0,211.4 85.7,210.9 85.5,210.8 85.2,210.6 85.0,210.9 84.8,210.9 84.5,210.3 84.3,210.1 84.0,211.4 83.8,210.8 83.5,209.8 83.3,209.2 83.1,210.2 82.8,210.4 82.6,211.0 82.3,209.4 82.1,210.6 81.8,210.3 81.6,210.4 81.4,210.0 81.1,210.6 80.9,209.9 80.6,209.6 80.4,208.7 80.1,209.3 79.9,209.7 79.7,209.3 79.4,210.4 79.2,208.9 78.9,209.4 78.7,209.5 78.4,209.7 78.2,209.2 78.0,210.5 77.7,209.4 77.5,210.1 77.2,210.7 77.0,209.1 76.7,209.4 76.5,209.7 76.3,210.2 76.0,209.6 75.8,208.7 75.5,209.2 75.3,208.7 75.0,208.9 74.8,209.2 74.6,208.3 74.3,208.6 74.1,208.5 73.8,208.8 73.6,208.7 73.3,208.8 73.1,209.0 72.9,208.5 72.6,207.8 72.4,208.4 72.1,208.2 71.9,208.4 71.6,207.6 71.4,207.4 71.2,206.7 70.9,206.6 70.7,207.5 70.4,207.1 70.2,207.7 69.9,207.5 69.7,207.6 69.5,207.6 69.2,207.4 69.0,207.3 68.7,207.3 68.5,206.6 68.2,207.2 68.0,206.3 67.8,206.9 67.5,205.9 67.3,206.2 67.0,206.1 66.8,205.7 66.5,205.6 66.3,205.4 66.1,205.4 65.8,205.1 65.6,204.8 65.3,204.5 65.1,205.2 64.8,204.9 64.6,205.1 64.4,203.6 64.1,204.4 63.9,204.7 63.6,204.2 63.4,204.2 63.1,205.4 62.9,203.5 62.7,203.3 62.4,202.5 62.2,202.3 61.9,203.1 61.7,202.8 61.5,202.4 61.2,201.7 61.0,202.1 60.7,201.8 60.5,201.1 60.2,201.5 60.0,201.2 59.8,201.1 59.5,200.2 59.3,200.8 59.2,201.0 59.2,200.5 59.2,200.9 59.2,201.0 59.1,200.6 59.1,200.4 59.1,200.4 59.0,201.2 59.0,200.7 59.0,199.8 59.0,200.1 58.9,200.0 58.9,199.9 58.9,199.4 58.9,198.9 58.8,200.4 58.8,200.5 58.8,200.6 58.8,200.2 58.7,200.2 58.7,200.4 58.7,199.3 58.6,199.4 58.6,200.2 58.6,199.1 58.6,200.1 58.5,198.8 58.5,198.4 58.5,199.0 58.5,198.3 58.4,199.0 58.4,199.2 58.4,198.3 58.4,198.2 58.3,199.1 58.3,198.9 58.3,198.6 58.2,199.3 58.2,198.4 58.2,198.7 58.2,197.8 58.1,198.0 58.1,198.3 58.1,198.0 58.1,198.4 58.0,198.4 58.0,199.4 58.0,198.7 57.9,198.5 57.9,198.2 57.9,197.9 57.9,198.4 57.8,198.8 57.8,199.2 57.8,198.2 57.8,198.0 57.7,198.5 57.7,198.3 57.7,198.1 57.7,197.8 57.6,197.2 57.6,197.5 57.6,197.7 57.5,197.5 57.5,197.3 57.5,197.4 57.5,196.6 57.4,197.1 57.4,197.0 57.4,198.1 57.4,197.5 57.3,197.9 57.3,198.0 57.3,197.2 57.2,197.0 57.2,197.0 57.2,197.6 57.2,197.6 57.1,197.7 57.1,197.3 57.1,197.2 57.1,197.6 57.0,197.4 57.0,197.2 57.0,197.3 57.0,198.1 56.9,197.4 56.9,196.8 56.9,196.4 56.8,196.5 56.8,196.8 56.8,196.4 56.8,196.0 56.7,195.9 56.7,196.4 56.7,196.0 56.7,195.5 56.6,196.0 56.6,195.0 56.6,196.2 56.5,196.1 56.5,195.9 56.5,195.3 56.5,195.6 56.4,195.6 56.4,195.0 56.4,194.6 56.4,195.3 56.3,194.7 56.3,194.4 56.3,194.2 56.3,194.1 56.2,194.4 56.2,194.3 56.2,194.0 56.1,194.5 56.1,195.2 56.1,195.0 56.1,194.9 56.0,194.9 56.0,196.0 56.0,195.0 56.0,194.7 55.9,194.9 55.9,194.6 55.9,195.1 55.8,194.0 55.8,194.4 55.8,195.2 55.8,195.2 55.7,195.6 55.7,194.6 55.7,194.4 55.7,194.4 55.6,193.7 55.6,193.8 55.6,194.0 55.6,193.1 55.5,194.0 55.5,194.1 55.5,193.4 55.4,193.4 55.4,192.9 55.4,193.5 55.4,192.2 55.3,192.4 55.3,193.2 55.3,193.6 55.3,193.2 55.2,192.6 55.2,193.0 55.2,192.7 55.1,192.7 55.1,192.5 55.1,192.0 55.1,192.8 55.0,192.3 55.0,192.6 55.0,192.1 55.0,192.7 54.9,192.1 54.9,192.2 54.9,192.2 54.9,192.5 54.8,191.9 54.8,191.7 54.8,191.9 54.7,191.7 54.7,190.8 54.7,191.7 54.7,191.1 54.6,190.9 54.6,190.4 54.6,191.6 54.6,191.4 54.5,190.5 54.5,192.1 54.5,190.5 54.4,190.6 54.4,190.5 54.4,191.9 54.4,191.4 54.3,191.4 54.3,191.1 54.3,190.4 54.3,189.9 54.2,189.5 54.2,189.7 54.2,189.9 54.2,189.1 54.1,188.6 54.1,188.8 54.1,188.7 54.0,188.2 54.0,189.2 54.0,188.9 54.0,188.3 53.9,189.4 53.9,188.5 53.9,188.9 53.9,188.1 53.8,188.7 53.8,188.3 53.8,187.7 53.7,187.5 53.7,187.4 53.7,187.2 53.7,188.2 53.6,186.6 53.6,186.8 53.6,187.2 53.6,187.2 53.5,187.0 53.5,186.6 53.5,186.6 53.5,187.5 53.4,185.7 53.4,185.8 53.4,185.4 53.3,186.1 53.3,186.4 53.3,186.4 53.3,185.9 53.2,185.7 53.2,186.1 53.2,185.6 53.2,185.9 53.1,184.3 53.1,184.1 53.1,184.8 53.0,183.8 53.0,182.9 53.0,183.6 53.0,183.5 52.9,183.2 52.9,183.0 52.9,183.1 52.9,182.6 52.8,183.6 52.8,181.5 52.8,182.3 52.8,182.0 52.7,182.4 52.7,181.9 52.7,181.7 52.6,182.1 52.6,181.3 52.6,180.9 52.6,180.9 52.5,179.4 52.5,180.8 52.5,180.1 52.5,179.0 52.4,179.7 52.4,178.7 52.4,177.9 52.4,179.0 52.3,178.6 52.3,178.2 52.3,177.3 52.2,177.4 52.2,176.8 52.2,176.8 52.2,177.2 52.1,175.7 52.1,175.8 52.1,175.4 52.1,174.5 52.0,174.9 52.0,174.0 52.0,173.9 51.9,173.4 51.9,172.7 51.9,172.0 51.9,171.7 51.8,172.1 51.8,171.2 51.8,170.8 51.8,170.2 51.7,170.5 51.7,170.3 51.7,168.4 51.7,167.3 51.6,168.6 51.6,167.0 51.6,167.1 51.5,167.2 51.5,166.0 51.5,165.4 51.5,164.9 51.4,164.7 51.4,163.1 51.4,162.0 51.4,162.5 51.3,161.0 51.3,161.2 51.3,161.0 51.2,160.1 51.2,159.4"/><polygon fill="#7a7a7a" stroke="#7a7a7a" stroke-width="0.9" stroke-linejoin="round" points="51.2,104.6 51.2,104.3 51.3,106.1 51.3,106.3 51.3,106.5 51.4,107.1 51.4,108.1 51.4,108.7 51.4,108.7 51.5,109.0 51.5,109.8 51.5,110.3 51.5,111.6 51.6,110.7 51.6,111.8 51.6,111.6 51.7,112.3 51.7,114.2 51.7,113.6 51.7,114.2 51.8,114.6 51.8,115.5 51.8,115.2 51.8,115.1 51.9,116.4 51.9,117.2 51.9,117.3 51.9,117.5 52.0,117.4 52.0,117.4 52.0,118.0 52.1,117.7 52.1,118.5 52.1,118.6 52.1,119.0 52.2,119.7 52.2,119.5 52.2,120.6 52.2,120.7 52.3,120.9 52.3,120.9 52.3,121.9 52.4,121.5 52.4,122.6 52.4,121.9 52.4,122.2 52.5,122.6 52.5,122.3 52.5,123.4 52.5,123.2 52.6,123.7 52.6,124.3 52.6,123.3 52.6,124.4 52.7,124.9 52.7,125.2 52.7,125.1 52.8,124.9 52.8,125.7 52.8,126.1 52.8,126.7 52.9,127.0 52.9,126.1 52.9,127.1 52.9,127.0 53.0,126.8 53.0,127.8 53.0,128.4 53.0,127.0 53.1,128.7 53.1,128.0 53.1,129.3 53.2,128.9 53.2,129.1 53.2,129.7 53.2,129.1 53.3,130.5 53.3,128.9 53.3,129.3 53.3,129.3 53.4,130.3 53.4,130.2 53.4,130.7 53.5,131.0 53.5,131.2 53.5,131.2 53.5,131.2 53.6,131.0 53.6,130.7 53.6,130.7 53.6,131.6 53.7,131.2 53.7,131.3 53.7,131.4 53.7,131.8 53.8,132.4 53.8,132.6 53.8,132.5 53.9,133.7 53.9,132.7 53.9,133.6 53.9,134.6 54.0,134.4 54.0,135.0 54.0,134.9 54.0,135.3 54.1,134.9 54.1,134.9 54.1,135.2 54.2,135.6 54.2,134.3 54.2,134.8 54.2,134.3 54.3,134.9 54.3,134.7 54.3,135.2 54.3,135.7 54.4,136.2 54.4,136.4 54.4,135.5 54.4,135.9 54.5,136.6 54.5,136.3 54.5,136.4 54.6,135.7 54.6,136.9 54.6,136.5 54.6,136.2 54.7,136.1 54.7,136.5 54.7,137.4 54.7,137.0 54.8,136.7 54.8,137.4 54.8,138.2 54.9,138.6 54.9,138.7 54.9,138.1 54.9,138.5 55.0,138.5 55.0,138.6 55.0,138.7 55.0,138.3 55.1,138.5 55.1,138.8 55.1,139.5 55.1,139.1 55.2,139.3 55.2,140.2 55.2,140.7 55.3,140.0 55.3,140.4 55.3,141.2 55.3,140.5 55.4,141.0 55.4,139.9 55.4,140.7 55.4,140.9 55.5,141.4 55.5,141.1 55.5,139.8 55.6,139.7 55.6,139.7 55.6,140.7 55.6,140.7 55.7,141.1 55.7,141.0 55.7,140.7 55.7,140.7 55.8,140.5 55.8,141.5 55.8,140.9 55.8,142.0 55.9,142.2 55.9,142.6 55.9,141.7 56.0,142.4 56.0,141.7 56.0,142.9 56.0,142.6 56.1,142.7 56.1,142.5 56.1,142.8 56.1,142.6 56.2,143.1 56.2,144.1 56.2,143.3 56.3,144.2 56.3,144.5 56.3,143.6 56.3,143.3 56.4,144.4 56.4,143.4 56.4,144.0 56.4,144.2 56.5,144.1 56.5,143.8 56.5,143.4 56.5,144.4 56.6,143.8 56.6,144.6 56.6,143.4 56.7,143.7 56.7,143.9 56.7,144.2 56.7,144.4 56.8,144.4 56.8,145.6 56.8,144.5 56.8,145.1 56.9,145.2 56.9,144.9 56.9,145.7 57.0,144.7 57.0,146.2 57.0,145.1 57.0,145.7 57.1,145.9 57.1,145.5 57.1,145.5 57.1,146.0 57.2,146.7 57.2,146.2 57.2,145.7 57.2,145.4 57.3,145.1 57.3,146.0 57.3,145.9 57.4,146.2 57.4,146.4 57.4,146.8 57.4,146.0 57.5,146.0 57.5,146.1 57.5,146.6 57.5,146.7 57.6,146.8 57.6,146.3 57.6,147.3 57.7,147.8 57.7,147.4 57.7,146.1 57.7,147.5 57.8,147.4 57.8,148.1 57.8,147.9 57.8,148.4 57.9,148.2 57.9,148.5 57.9,148.5 57.9,148.1 58.0,148.6 58.0,148.5 58.0,148.7 58.1,148.2 58.1,148.3 58.1,147.3 58.1,147.9 58.2,148.2 58.2,148.3 58.2,147.6 58.2,147.7 58.3,148.4 58.3,148.5 58.3,148.8 58.4,148.4 58.4,148.7 58.4,149.3 58.4,148.6 58.5,148.4 58.5,149.5 58.5,148.8 58.5,149.5 58.6,148.9 58.6,148.8 58.6,150.4 58.6,149.8 58.7,149.4 58.7,150.1 58.7,150.1 58.8,150.3 58.8,150.6 58.8,150.0 58.8,150.4 58.9,150.8 58.9,150.7 58.9,150.4 58.9,149.9 59.0,149.4 59.0,150.8 59.0,149.6 59.0,150.1 59.1,150.5 59.1,150.6 59.1,150.3 59.2,150.2 59.2,150.7 59.2,151.6 59.2,151.9 59.3,150.9 59.5,151.7 59.8,151.1 60.0,152.2 60.2,153.1 60.5,153.3 60.7,154.8 61.0,154.8 61.2,155.1 61.5,154.0 61.7,155.3 61.9,156.4 62.2,156.2 62.4,156.1 62.7,157.1 62.9,158.3 63.1,158.2 63.4,158.7 63.6,158.8 63.9,159.8 64.1,158.3 64.4,159.3 64.6,160.7 64.8,160.7 65.1,160.7 65.3,160.6 65.6,160.2 65.8,161.2 66.1,161.4 66.3,161.4 66.5,162.8 66.8,163.0 67.0,163.0 67.3,163.6 67.5,163.4 67.8,163.8 68.0,163.8 68.2,165.5 68.5,164.1 68.7,164.9 69.0,165.8 69.2,166.0 69.5,164.8 69.7,165.6 69.9,166.0 70.2,166.1 70.4,166.4 70.7,166.8 70.9,167.1 71.2,167.9 71.4,166.4 71.6,167.8 71.9,167.6 72.1,168.0 72.4,167.9 72.6,169.1 72.9,167.2 73.1,168.6 73.3,168.0 73.6,168.2 73.8,169.2 74.1,168.5 74.3,169.3 74.6,169.6 74.8,168.7 75.0,170.1 75.3,170.0 75.5,169.4 75.8,169.7 76.0,169.5 76.3,170.1 76.5,170.7 76.7,170.5 77.0,170.4 77.2,170.4 77.5,170.5 77.7,170.3 78.0,170.8 78.2,171.2 78.4,170.8 78.7,170.8 78.9,170.5 79.2,171.5 79.4,171.3 79.7,170.7 79.9,172.1 80.1,172.3 80.4,171.9 80.6,171.9 80.9,172.2 81.1,172.1 81.4,173.3 81.6,173.4 81.8,173.4 82.1,173.0 82.3,173.1 82.6,173.3 82.8,174.0 83.1,173.1 83.3,173.5 83.5,173.4 83.8,173.2 84.0,174.1 84.3,174.5 84.5,173.9 84.8,175.0 85.0,174.9 85.2,174.8 85.5,175.3 85.7,174.3 86.0,175.4 86.2,174.6 86.5,175.2 86.7,174.3 86.9,175.4 87.2,175.1 87.4,175.0 87.7,175.1 87.9,175.6 88.2,176.3 88.4,176.1 88.6,175.6 88.9,175.4 89.1,175.3 89.4,175.6 89.6,174.9 89.9,175.3 90.1,176.0 90.3,175.6 90.6,175.7 90.8,175.5 91.1,176.4 91.3,176.3 91.6,176.7 91.8,176.1 92.0,176.2 92.3,176.8 92.5,176.4 92.8,176.9 93.0,176.6 93.3,176.5 93.5,177.0 93.7,177.7 94.0,177.7 94.2,177.1 94.5,177.3 94.7,177.5 95.0,177.7 95.2,177.5 95.4,177.3 95.7,177.9 95.9,177.1 96.2,177.3 96.4,177.4 96.7,177.9 96.9,177.5 97.1,177.8 97.4,177.8 97.6,177.5 97.9,177.9 98.1,177.6 98.4,178.3 98.6,178.3 98.8,177.5 99.1,177.8 99.3,177.0 99.6,178.6 99.8,178.5 100.1,178.5 100.3,179.0 100.5,179.0 100.8,179.0 101.0,179.2 101.3,179.3 101.5,179.0 101.8,180.4 102.0,180.2 102.2,179.6 102.5,180.9 102.7,180.7 103.0,180.3 103.2,180.1 103.5,179.6 103.7,179.7 103.9,179.2 104.2,179.6 104.4,180.1 104.7,179.4 104.9,178.9 105.2,180.6 105.4,180.7 105.6,180.6 105.9,179.2 106.1,180.2 106.4,179.6 106.6,180.0 106.9,180.5 107.1,181.2 107.3,180.2 107.6,180.2 107.8,180.1 108.1,180.8 108.3,180.4 108.6,180.7 108.8,181.0 109.0,180.8 109.3,180.9 109.5,180.6 109.8,180.8 110.0,181.3 110.3,180.0 110.5,180.0 110.7,180.8 111.0,181.0 111.2,181.3 111.5,181.0 111.7,181.5 111.9,181.2 112.2,180.8 112.4,181.7 112.7,180.7 112.9,180.7 113.2,181.3 113.4,180.9 113.6,181.7 113.9,181.1 114.1,182.2 114.4,180.9 114.6,181.8 114.9,181.1 115.1,182.3 115.3,181.5 115.6,182.3 115.8,180.7 116.1,181.8 116.3,183.0 116.6,182.3 116.8,182.2 117.0,182.6 117.3,183.4 117.5,181.7 117.8,182.1 118.0,181.7 118.3,182.3 118.5,181.6 118.7,181.4 119.0,181.5 119.2,182.7 119.5,182.4 119.7,182.8 120.0,181.8 120.2,182.3 120.4,182.7 120.7,183.2 120.9,183.3 121.2,182.7 121.4,182.5 121.7,183.0 121.9,182.7 122.1,183.4 122.4,183.9 122.6,183.0 122.9,182.3 123.1,184.1 123.4,183.1 123.6,183.2 123.8,183.1 124.1,183.1 124.3,183.2 124.6,183.3 124.8,182.7 125.1,183.2 125.3,183.4 125.5,183.4 125.8,183.7 126.0,183.9 126.3,182.9 126.5,183.4 126.8,183.4 127.0,183.9 127.2,183.8 127.5,184.7 127.7,184.0 128.0,184.0 128.2,183.3 128.5,185.0 128.7,184.1 128.9,184.0 129.2,184.0 129.4,184.5 129.7,184.1 129.9,184.7 130.2,183.8 130.4,184.1 130.6,184.0 130.9,184.7 131.1,184.5 131.4,184.7 131.6,184.5 131.9,184.4 132.1,184.5 132.3,185.0 132.6,184.6 132.8,184.6 133.1,183.8 133.3,184.2 133.6,184.1 133.8,183.6 134.0,185.0 134.3,185.1 134.5,184.8 134.8,184.7 135.0,185.3 135.3,184.0 135.5,185.3 135.7,183.9 136.0,185.0 136.2,185.4 136.5,185.7 136.7,185.6 137.0,185.6 137.2,185.0 137.4,185.1 137.7,184.8 137.9,185.2 138.2,185.1 138.4,184.6 138.7,185.5 138.9,184.7 139.1,184.9 139.4,184.9 139.6,184.9 139.9,185.3 140.1,185.0 140.4,184.7 140.6,185.0 140.8,184.9 141.1,184.5 141.3,185.7 141.6,186.2 141.8,185.0 142.1,186.6 142.3,186.9 142.5,185.3 142.8,186.1 143.0,185.9 143.3,186.1 143.5,184.6 143.8,186.2 144.0,185.6 144.2,186.0 144.5,186.3 144.7,184.7 145.0,186.1 145.2,186.3 145.5,186.7 145.7,187.1 145.9,187.1 146.2,186.3 146.4,187.0 146.7,186.5 146.9,187.0 147.2,186.5 147.4,186.3 147.6,186.5 147.9,185.7 148.1,186.4 148.4,186.1 148.6,187.3 148.9,187.5 149.1,186.1 149.3,185.7 149.6,187.1 149.8,186.9 150.1,186.7 150.3,188.1 150.6,186.8 150.8,186.1 151.0,186.3 151.3,186.6 151.5,187.2 151.8,186.7 152.0,185.9 152.3,186.3 152.5,187.6 152.7,186.1 153.0,187.0 153.2,187.8 153.5,187.3 153.7,187.0 154.0,186.6 154.2,187.2 154.4,187.5 154.7,187.5 154.9,187.8 155.2,187.3 155.4,187.9 155.7,187.3 155.9,187.6 156.1,187.2 156.4,188.3 156.6,187.9 156.9,187.5 157.1,186.4 157.4,186.8 157.6,185.6 157.8,186.6 158.1,187.0 158.3,186.8 158.6,187.2 158.8,187.3 159.1,188.1 159.3,187.4 159.5,186.8 159.8,186.5 160.0,187.5 160.3,188.0 160.5,188.0 160.7,187.3 161.0,187.0 161.2,187.2 161.5,187.3 161.7,187.2 162.0,187.5 162.2,187.3 162.4,187.9 162.7,187.2 162.9,187.3 163.2,188.0 163.4,188.0 163.7,187.4 163.9,187.2 164.1,187.4 164.4,188.4 164.6,188.7 164.9,189.0 165.1,189.3 165.4,189.5 165.6,188.5 165.8,190.1 166.1,190.0 166.3,189.1 166.6,188.9 166.8,189.0 167.1,188.1 167.3,188.5 167.5,188.1 167.8,188.6 168.0,188.6 168.3,189.6 168.5,188.3 168.8,188.9 169.0,188.4 169.2,189.5 169.5,189.3 169.7,188.3 170.0,188.5 170.2,189.0 170.5,188.3 170.7,188.8 170.9,188.5 171.2,187.9 171.4,188.2 171.7,188.6 171.9,188.5 172.2,188.4 172.4,188.5 172.6,188.3 172.9,189.2 173.1,188.2 173.4,189.2 173.6,188.8 173.9,189.2 174.1,189.4 174.3,189.3 174.6,189.5 174.8,189.5 175.1,189.3 175.3,188.7 175.6,189.0 175.8,189.0 176.0,189.0 176.3,188.7 176.5,188.6 176.8,187.6 177.0,188.2 177.3,188.6 177.5,189.4 177.7,189.5 178.0,189.0 178.2,188.7 178.5,189.3 178.7,189.7 179.0,189.5 179.2,188.9 179.4,188.8 179.7,188.7 179.9,188.4 180.2,189.4 180.4,189.2 180.7,190.1 180.9,190.2 181.1,189.9 181.4,189.3 181.6,189.8 181.9,189.6 182.1,188.8 182.4,188.9 182.6,189.1 182.8,189.9 183.1,188.9 183.3,188.4 183.6,189.0 183.8,189.3 184.1,188.6 184.3,190.1 184.5,189.1 184.8,190.0 185.0,189.8 185.3,189.3 185.5,189.8 185.8,189.7 186.0,189.7 186.2,190.1 186.5,189.8 186.7,188.9 187.0,189.7 187.2,189.2 187.5,189.6 187.7,189.9 187.9,189.9 188.2,190.4 188.4,190.1 188.7,189.9 188.9,190.7 189.2,190.3 189.4,189.9 189.6,189.9 189.9,189.8 190.1,190.1 190.4,189.5 190.6,190.7 190.9,190.3 191.1,189.1 191.3,189.7 191.6,190.3 191.8,190.0 192.1,189.3 192.3,190.8 192.6,189.7 192.8,190.4 193.0,190.4 193.3,190.9 193.5,189.4 193.8,190.7 194.0,189.3 194.3,190.7 194.5,190.6 194.7,190.3 195.0,189.9 195.2,191.2 195.5,190.7 195.7,189.5 196.0,189.3 196.2,190.1 196.4,189.9 196.7,190.5 196.9,190.4 197.2,190.4 197.4,189.8 197.7,190.5 197.9,189.9 198.1,189.9 198.4,189.3 198.6,190.8 198.9,190.3 199.1,190.0 199.4,190.1 199.6,190.1 199.8,190.6 200.1,189.4 200.3,190.6 200.6,190.8 200.8,190.6 201.1,190.8 201.3,191.3 201.5,189.8 201.8,190.0 202.0,191.0 202.3,191.3 202.5,190.8 202.8,190.3 203.0,189.9 203.2,190.8 203.5,190.7 203.7,190.2 204.0,190.6 204.2,190.3 204.5,191.1 204.7,190.8 204.9,191.3 205.2,191.5 205.4,191.2 205.7,191.6 205.9,191.4 206.2,191.6 206.4,190.7 206.6,191.3 206.9,192.1 207.1,191.4 207.4,191.1 207.6,191.4 207.8,192.3 208.1,191.1 208.3,191.2 208.6,192.0 208.8,191.5 209.1,191.0 209.3,190.7 209.5,191.7 209.8,191.3 210.0,192.2 210.3,191.0 210.5,190.8 210.8,190.8 211.0,190.6 211.2,191.5 211.5,190.5 211.7,191.7 212.0,191.2 212.2,191.9 212.5,190.8 212.7,191.3 212.9,190.0 213.2,190.8 213.4,190.6 213.7,191.6 213.9,191.1 214.2,191.4 214.4,190.7 214.6,190.6 214.9,191.3 215.1,191.9 215.4,191.1 215.6,191.9 215.9,190.9 216.1,190.8 216.3,190.9 216.6,190.8 216.8,190.5 217.1,190.5 217.3,190.2 217.6,190.3 217.8,191.7 218.0,191.5 218.3,191.5 218.5,191.4 218.8,190.8 219.0,191.9 219.3,191.2 219.5,192.5 219.7,190.9 220.0,191.9 220.2,192.2 220.5,191.5 220.7,192.5 221.0,192.1 221.2,192.2 221.4,191.4 221.7,192.3 221.9,192.1 222.2,191.7 222.4,192.3 222.7,191.6 222.9,190.4 223.1,191.5 223.4,191.9 223.6,190.8 223.9,191.4 224.1,191.0 224.4,191.4 224.6,190.2 224.8,190.8 225.1,191.5 225.3,191.2 225.6,190.6 225.8,192.2 226.1,192.1 226.3,191.5 226.5,190.8 226.8,192.0 227.0,191.5 227.3,192.0 227.5,192.4 227.8,191.7 228.0,192.0 228.2,192.3 228.5,192.0 228.7,191.3 229.0,192.6 229.2,192.7 229.5,192.4 229.7,193.0 229.9,192.5 230.2,192.4 230.4,192.8 230.7,191.8 230.9,191.5 231.2,192.0 231.4,191.5 231.6,192.4 231.9,191.6 232.1,191.3 232.4,192.1 232.6,191.4 232.9,193.2 233.1,192.6 233.3,193.1 233.6,193.0 233.8,192.9 234.1,192.3 234.3,193.1 234.6,192.4 234.8,192.0 235.0,191.3 235.3,192.5 235.5,191.7 235.8,191.7 236.0,191.2 236.3,192.5 236.5,191.7 236.7,192.2 237.0,191.9 237.2,191.4 237.5,192.1 237.7,191.2 238.0,191.4 238.2,191.9 238.4,192.1 238.7,192.2 238.9,191.8 239.2,191.7 239.4,191.7 239.7,191.6 239.9,191.5 240.1,192.1 240.4,191.6 240.6,192.1 240.9,192.8 241.1,192.4 241.4,192.1 241.6,193.1 241.8,192.8 242.1,193.2 242.3,192.6 242.6,192.5 242.8,192.2 243.1,193.1 243.3,193.2 243.5,193.1 243.8,192.8 244.0,192.6 244.3,192.3 244.5,192.8 244.8,192.1 245.0,191.8 245.2,192.6 245.5,192.7 245.7,192.8 246.0,192.5 246.2,192.1 246.5,192.2 246.7,192.2 246.9,191.6 247.2,192.2 247.4,191.8 247.7,192.7 247.9,191.5 248.2,191.2 248.4,191.2 248.6,191.8 248.9,191.5 249.1,192.7 249.4,192.1 249.6,190.7 249.9,192.1 250.1,192.3 250.3,191.5 250.6,192.0 250.8,192.4 251.1,192.2 251.3,192.4 251.6,192.8 251.8,192.4 252.0,192.5 252.3,192.0 252.5,192.7 252.8,192.2 253.0,193.4 253.3,193.5 253.5,193.3 253.7,192.4 254.0,192.4 254.2,192.2 254.5,192.5 254.7,192.0 255.0,191.8 255.2,192.6 255.4,192.1 255.7,192.9 255.9,192.6 256.2,192.2 256.4,192.4 256.6,192.4 256.9,193.2 257.1,192.8 257.4,192.7 257.6,193.3 257.9,192.4 258.1,192.3 258.3,192.3 258.6,193.0 258.8,191.9 259.1,191.6 259.3,192.3 259.6,192.4 259.8,192.6 260.0,191.6 260.3,192.3 260.5,191.9 260.8,192.4 261.0,191.7 261.3,192.6 261.5,193.5 261.7,193.1 262.0,191.8 262.2,193.4 262.5,193.0 262.7,192.5 263.0,192.7 263.2,192.7 263.4,193.2 263.7,192.4 263.9,191.6 264.2,191.8 264.4,193.1 264.7,192.9 264.9,192.8 265.1,192.4 265.4,193.0 265.6,193.5 265.9,193.1 266.1,193.6 266.4,193.9 266.6,193.8 266.8,193.5 267.1,193.6 267.3,192.6 267.6,192.7 267.8,193.4 268.1,193.6 268.3,193.0 268.5,193.4 268.8,192.8 269.0,192.3 269.3,193.0 269.5,192.7 269.8,192.5 270.0,192.7 270.2,193.0 270.5,192.7 270.7,193.1 271.0,192.1 271.2,193.2 271.5,192.8 271.7,193.2 271.9,192.5 272.2,193.7 272.4,193.4 272.7,194.3 272.9,192.6 273.2,192.6 273.4,194.0 273.6,194.0 273.9,192.8 274.1,193.7 274.4,193.9 274.6,194.1 274.9,193.5 275.1,192.4 275.3,191.9 275.6,193.8 275.8,192.8 276.1,193.0 276.3,192.3 276.6,192.6 276.8,192.5 277.0,192.0 277.3,192.3 277.5,192.1 277.8,192.5 278.0,193.0 278.3,192.9 278.5,192.5 278.7,193.6 279.0,193.1 279.2,192.5 279.5,191.8 279.7,193.1 280.0,193.3 280.2,192.4 280.4,193.6 280.7,192.4 280.9,192.6 281.2,192.6 281.4,192.9 281.7,192.8 281.9,193.3 282.1,192.6 282.4,192.8 282.6,192.9 282.9,193.0 283.1,192.4 283.4,192.9 283.6,193.6 283.8,193.4 284.1,192.8 284.3,193.3 284.6,192.7 284.8,192.8 285.1,192.6 285.3,192.4 285.5,193.2 285.8,193.5 286.0,193.4 286.3,193.2 286.5,193.1 286.8,192.6 287.0,193.6 287.2,194.0 287.5,191.8 287.7,193.1 288.0,192.8 288.2,192.7 288.5,192.2 288.7,191.9 288.9,192.9 289.2,192.8 289.4,192.7 289.7,193.1 289.9,193.0 290.2,194.2 290.4,192.8 290.6,193.3 290.9,193.2 291.1,193.7 291.4,194.3 291.6,193.6 291.9,193.4 292.1,193.4 292.3,194.2 292.6,193.7 292.8,194.4 293.1,193.9 293.3,194.1 293.6,194.0 293.8,193.3 294.0,194.7 294.3,193.8 294.5,194.1 294.8,194.0 295.0,194.7 295.3,193.7 295.5,193.7 295.7,192.9 296.0,193.3 296.2,193.2 296.5,193.5 296.7,192.5 297.0,193.3 297.2,194.6 297.4,192.9 297.7,192.4 297.9,193.0 298.2,193.0 298.4,193.7 298.7,193.3 298.9,193.6 299.1,192.6 299.4,192.8 299.6,192.9 299.9,192.5 300.1,193.1 300.4,192.9 300.6,193.3 300.8,192.4 301.1,192.3 301.3,193.8 301.6,193.4 301.8,193.3 302.1,194.4 302.3,193.4 302.5,193.2 302.8,192.7 303.0,193.0 303.3,193.2 303.5,192.9 303.8,193.6 304.0,193.4 304.2,193.4 304.5,193.0 304.7,193.0 305.0,194.0 305.2,193.6 305.4,193.4 305.7,193.6 305.9,193.4 306.2,193.4 306.4,193.3 306.7,193.8 306.9,193.4 307.1,193.1 307.4,193.0 307.6,193.5 307.9,192.9 308.1,193.4 308.4,193.3 308.6,192.8 308.8,192.4 309.1,193.0 309.3,193.4 309.6,193.8 309.8,194.1 310.1,193.5 310.3,193.5 310.5,193.8 310.8,193.5 311.0,194.2 311.3,192.9 311.5,192.8 311.8,193.1 312.0,193.5 312.2,192.8 312.5,192.5 312.7,193.0 313.0,193.1 313.2,192.3 313.5,193.0 313.7,192.3 313.9,193.4 314.2,192.1 314.4,192.7 314.7,192.7 314.9,192.8 315.2,193.5 315.4,193.8 315.6,193.2 315.9,194.5 316.1,194.0 316.4,193.9 316.6,193.6 316.9,193.9 317.1,194.3 317.3,193.2 317.6,193.3 317.8,193.3 318.1,193.0 318.3,193.8 318.6,193.3 318.8,194.4 319.0,193.2 319.3,193.4 319.5,193.6 319.8,193.1 320.0,192.6 320.3,193.4 320.5,193.7 320.7,193.3 321.0,193.6 321.2,192.7 321.5,193.7 321.7,194.6 322.0,194.1 322.2,194.3 322.4,193.6 322.7,193.7 322.9,194.4 323.2,193.8 323.4,194.3 323.7,193.5 323.9,194.0 324.1,193.9 324.4,192.8 324.6,193.7 324.9,194.1 325.1,193.9 325.4,193.8 325.6,193.9 325.8,193.4 326.1,193.1 326.1,197.5 325.8,196.9 325.6,197.9 325.4,198.2 325.1,197.5 324.9,198.5 324.6,197.8 324.4,198.7 324.1,197.5 323.9,198.9 323.7,198.0 323.4,198.2 323.2,198.6 322.9,198.3 322.7,198.8 322.4,198.1 322.2,198.3 322.0,197.8 321.7,197.5 321.5,197.2 321.2,197.8 321.0,197.1 320.7,198.1 320.5,197.9 320.3,197.7 320.0,198.1 319.8,197.6 319.5,197.7 319.3,197.5 319.0,198.3 318.8,197.6 318.6,197.7 318.3,198.3 318.1,197.4 317.8,197.2 317.6,197.5 317.3,197.8 317.1,198.9 316.9,198.4 316.6,198.3 316.4,198.7 316.1,197.0 315.9,198.4 315.6,198.4 315.4,197.8 315.2,197.7 314.9,197.3 314.7,197.5 314.4,196.9 314.2,197.2 313.9,197.3 313.7,197.1 313.5,197.1 313.2,197.3 313.0,198.0 312.7,197.2 312.5,197.3 312.2,197.2 312.0,197.5 311.8,197.2 311.5,197.3 311.3,198.0 311.0,196.9 310.8,198.2 310.5,198.4 310.3,197.4 310.1,197.2 309.8,198.3 309.6,198.2 309.3,197.2 309.1,198.1 308.8,197.2 308.6,197.9 308.4,198.0 308.1,197.7 307.9,197.5 307.6,197.9 307.4,197.5 307.1,198.1 306.9,198.1 306.7,197.8 306.4,197.9 306.2,198.2 305.9,197.7 305.7,198.2 305.4,197.7 305.2,198.7 305.0,198.4 304.7,197.1 304.5,197.6 304.2,197.3 304.0,196.6 303.8,196.8 303.5,197.1 303.3,197.9 303.0,197.6 302.8,197.4 302.5,197.1 302.3,197.5 302.1,198.0 301.8,197.2 301.6,197.5 301.3,197.9 301.1,198.1 300.8,198.1 300.6,198.0 300.4,197.7 300.1,197.5 299.9,196.9 299.6,197.5 299.4,196.4 299.1,197.4 298.9,196.7 298.7,197.5 298.4,197.3 298.2,198.4 297.9,197.0 297.7,198.0 297.4,197.1 297.2,197.8 297.0,197.2 296.7,197.0 296.5,197.0 296.2,197.3 296.0,198.3 295.7,197.7 295.5,197.5 295.3,197.1 295.0,197.4 294.8,198.3 294.5,198.4 294.3,199.1 294.0,199.1 293.8,198.1 293.6,198.6 293.3,197.9 293.1,198.5 292.8,199.0 292.6,198.5 292.3,198.3 292.1,198.4 291.9,197.8 291.6,198.0 291.4,198.3 291.1,197.8 290.9,197.4 290.6,198.0 290.4,197.2 290.2,197.6 289.9,197.3 289.7,197.3 289.4,197.6 289.2,197.9 288.9,197.2 288.7,196.3 288.5,196.7 288.2,197.2 288.0,197.0 287.7,197.9 287.5,196.4 287.2,197.2 287.0,196.9 286.8,197.2 286.5,197.7 286.3,197.3 286.0,198.3 285.8,197.4 285.5,196.3 285.3,197.1 285.1,197.6 284.8,197.4 284.6,197.4 284.3,198.2 284.1,197.6 283.8,198.0 283.6,197.6 283.4,197.6 283.1,197.7 282.9,197.4 282.6,198.2 282.4,197.1 282.1,197.0 281.9,197.6 281.7,197.0 281.4,196.9 281.2,197.3 280.9,197.1 280.7,196.2 280.4,197.3 280.2,196.5 280.0,197.3 279.7,197.1 279.5,197.4 279.2,197.4 279.0,197.4 278.7,197.7 278.5,197.4 278.3,197.5 278.0,197.5 277.8,197.0 277.5,196.7 277.3,196.6 277.0,197.5 276.8,196.4 276.6,197.8 276.3,197.3 276.1,197.6 275.8,196.9 275.6,197.5 275.3,197.2 275.1,197.2 274.9,198.1 274.6,198.1 274.4,198.3 274.1,198.6 273.9,197.6 273.6,198.4 273.4,198.1 273.2,197.9 272.9,198.4 272.7,197.0 272.4,197.5 272.2,197.7 271.9,198.0 271.7,197.0 271.5,197.9 271.2,197.1 271.0,197.7 270.7,196.8 270.5,196.7 270.2,197.3 270.0,197.6 269.8,198.3 269.5,196.6 269.3,197.0 269.0,197.9 268.8,196.9 268.5,197.2 268.3,197.5 268.1,197.5 267.8,197.4 267.6,197.3 267.3,197.6 267.1,197.9 266.8,198.1 266.6,198.3 266.4,197.2 266.1,197.4 265.9,196.1 265.6,197.7 265.4,197.3 265.1,198.0 264.9,196.5 264.7,196.7 264.4,195.6 264.2,196.5 263.9,196.2 263.7,196.9 263.4,196.8 263.2,197.1 263.0,197.1 262.7,196.1 262.5,197.4 262.2,197.3 262.0,197.8 261.7,197.3 261.5,197.8 261.3,197.5 261.0,196.9 260.8,197.3 260.5,196.2 260.3,196.3 260.0,195.9 259.8,196.5 259.6,196.8 259.3,196.3 259.1,195.9 258.8,196.6 258.6,197.4 258.3,196.7 258.1,196.9 257.9,196.7 257.6,197.2 257.4,196.9 257.1,197.5 256.9,197.1 256.6,196.6 256.4,196.9 256.2,196.3 255.9,196.9 255.7,197.0 255.4,197.0 255.2,196.0 255.0,196.5 254.7,197.9 254.5,196.6 254.2,197.0 254.0,197.2 253.7,197.0 253.5,197.3 253.3,196.9 253.0,197.6 252.8,195.8 252.5,196.7 252.3,197.5 252.0,197.3 251.8,197.4 251.6,196.5 251.3,197.7 251.1,196.1 250.8,196.6 250.6,196.5 250.3,195.9 250.1,196.9 249.9,196.4 249.6,196.6 249.4,196.0 249.1,196.3 248.9,196.2 248.6,196.1 248.4,196.0 248.2,195.7 247.9,196.5 247.7,196.3 247.4,196.2 247.2,196.7 246.9,197.3 246.7,196.7 246.5,197.0 246.2,196.8 246.0,197.5 245.7,196.7 245.5,196.2 245.2,197.1 245.0,197.6 244.8,196.6 244.5,198.2 244.3,197.7 244.0,196.6 243.8,197.9 243.5,196.9 243.3,197.2 243.1,196.6 242.8,197.5 242.6,197.1 242.3,197.5 242.1,196.8 241.8,197.2 241.6,197.3 241.4,197.1 241.1,196.4 240.9,196.6 240.6,196.4 240.4,196.1 240.1,196.5 239.9,196.6 239.7,197.2 239.4,196.5 239.2,196.3 238.9,196.0 238.7,196.7 238.4,196.8 238.2,195.6 238.0,196.4 237.7,196.6 237.5,196.5 237.2,196.7 237.0,195.8 236.7,195.6 236.5,196.5 236.3,196.4 236.0,196.2 235.8,195.8 235.5,195.9 235.3,196.4 235.0,195.6 234.8,196.5 234.6,197.0 234.3,197.3 234.1,197.4 233.8,197.8 233.6,197.5 233.3,197.1 233.1,197.4 232.9,196.3 232.6,196.5 232.4,196.0 232.1,196.1 231.9,195.9 231.6,196.8 231.4,196.2 231.2,196.1 230.9,196.2 230.7,196.4 230.4,197.1 230.2,197.0 229.9,197.5 229.7,197.9 229.5,197.6 229.2,196.7 229.0,196.8 228.7,196.9 228.5,196.5 228.2,196.6 228.0,196.5 227.8,196.2 227.5,196.3 227.3,196.5 227.0,195.5 226.8,196.2 226.5,195.4 226.3,196.0 226.1,196.5 225.8,196.4 225.6,194.9 225.3,196.5 225.1,195.5 224.8,196.2 224.6,195.3 224.4,195.5 224.1,195.2 223.9,195.4 223.6,195.3 223.4,195.0 223.1,196.2 222.9,196.3 222.7,195.6 222.4,195.5 222.2,196.0 221.9,195.6 221.7,196.5 221.4,196.3 221.2,196.3 221.0,195.6 220.7,196.4 220.5,196.1 220.2,196.0 220.0,195.8 219.7,196.5 219.5,195.7 219.3,196.5 219.0,195.3 218.8,196.1 218.5,195.7 218.3,195.6 218.0,195.8 217.8,195.4 217.6,195.9 217.3,194.6 217.1,195.4 216.8,195.2 216.6,195.7 216.3,195.3 216.1,195.7 215.9,195.4 215.6,195.6 215.4,196.1 215.1,196.2 214.9,196.5 214.6,195.2 214.4,194.9 214.2,195.1 213.9,195.3 213.7,195.3 213.4,195.1 213.2,195.5 212.9,195.2 212.7,194.8 212.5,195.0 212.2,195.6 212.0,195.9 211.7,195.5 211.5,195.4 211.2,195.8 211.0,195.3 210.8,194.8 210.5,195.1 210.3,195.8 210.0,195.3 209.8,197.0 209.5,196.1 209.3,195.3 209.1,195.6 208.8,196.1 208.6,194.9 208.3,195.8 208.1,195.8 207.8,195.7 207.6,195.4 207.4,195.8 207.1,196.1 206.9,195.4 206.6,195.4 206.4,196.3 206.2,194.1 205.9,195.1 205.7,195.8 205.4,195.1 205.2,195.7 204.9,195.5 204.7,195.3 204.5,195.1 204.2,195.3 204.0,194.6 203.7,195.4 203.5,195.0 203.2,194.0 203.0,194.4 202.8,194.5 202.5,194.7 202.3,195.1 202.0,195.3 201.8,195.2 201.5,194.3 201.3,194.9 201.1,194.9 200.8,194.1 200.6,194.8 200.3,194.5 200.1,194.5 199.8,194.5 199.6,194.9 199.4,195.4 199.1,194.5 198.9,194.6 198.6,195.4 198.4,195.0 198.1,195.1 197.9,194.8 197.7,194.5 197.4,195.3 197.2,195.6 196.9,194.7 196.7,195.0 196.4,194.6 196.2,195.2 196.0,194.3 195.7,195.4 195.5,195.3 195.2,195.3 195.0,195.4 194.7,194.5 194.5,195.1 194.3,194.8 194.0,193.5 193.8,194.2 193.5,194.0 193.3,194.6 193.0,194.3 192.8,194.9 192.6,194.2 192.3,194.5 192.1,195.2 191.8,194.3 191.6,195.1 191.3,195.6 191.1,194.9 190.9,194.6 190.6,194.6 190.4,194.2 190.1,194.1 189.9,194.3 189.6,194.5 189.4,194.0 189.2,194.4 188.9,194.2 188.7,195.2 188.4,194.9 188.2,195.0 187.9,194.4 187.7,193.5 187.5,193.8 187.2,194.4 187.0,194.7 186.7,194.3 186.5,193.7 186.2,194.6 186.0,194.4 185.8,193.9 185.5,194.0 185.3,193.9 185.0,194.5 184.8,194.2 184.5,193.3 184.3,193.3 184.1,193.9 183.8,193.7 183.6,193.3 183.3,193.1 183.1,193.1 182.8,193.7 182.6,193.7 182.4,194.4 182.1,193.5 181.9,194.1 181.6,193.3 181.4,194.1 181.1,193.9 180.9,193.5 180.7,192.5 180.4,192.8 180.2,193.0 179.9,193.6 179.7,193.8 179.4,194.9 179.2,193.6 179.0,193.4 178.7,193.5 178.5,193.4 178.2,194.0 178.0,192.8 177.7,193.5 177.5,193.2 177.3,193.8 177.0,192.8 176.8,192.7 176.5,192.8 176.3,193.4 176.0,193.6 175.8,193.0 175.6,192.3 175.3,192.6 175.1,194.2 174.8,193.9 174.6,193.7 174.3,193.3 174.1,193.3 173.9,192.9 173.6,193.1 173.4,193.8 173.1,192.9 172.9,193.3 172.6,192.7 172.4,193.0 172.2,193.1 171.9,192.3 171.7,192.6 171.4,192.6 171.2,192.5 170.9,192.2 170.7,193.7 170.5,192.6 170.2,193.6 170.0,193.1 169.7,193.6 169.5,194.1 169.2,192.7 169.0,192.8 168.8,193.7 168.5,193.3 168.3,193.5 168.0,193.6 167.8,192.8 167.5,192.3 167.3,192.0 167.1,192.6 166.8,192.9 166.6,193.6 166.3,191.9 166.1,193.5 165.8,194.1 165.6,193.6 165.4,193.7 165.1,193.5 164.9,192.6 164.6,193.3 164.4,193.5 164.1,192.6 163.9,191.5 163.7,191.8 163.4,192.4 163.2,191.9 162.9,191.4 162.7,191.4 162.4,191.4 162.2,191.3 162.0,191.4 161.7,191.9 161.5,191.6 161.2,192.3 161.0,191.7 160.7,192.0 160.5,191.5 160.3,191.4 160.0,191.7 159.8,192.3 159.5,192.0 159.3,191.6 159.1,191.7 158.8,190.7 158.6,191.2 158.3,191.7 158.1,191.1 157.8,190.7 157.6,191.6 157.4,191.5 157.1,191.2 156.9,191.0 156.6,191.4 156.4,192.1 156.1,191.7 155.9,191.6 155.7,191.2 155.4,191.3 155.2,191.3 154.9,192.3 154.7,191.3 154.4,191.2 154.2,190.8 154.0,191.0 153.7,191.7 153.5,191.2 153.2,192.2 153.0,190.8 152.7,192.0 152.5,191.0 152.3,191.0 152.0,191.1 151.8,191.2 151.5,191.2 151.3,190.9 151.0,190.9 150.8,191.8 150.6,191.8 150.3,191.0 150.1,191.7 149.8,191.3 149.6,191.5 149.3,191.2 149.1,191.2 148.9,190.5 148.6,191.1 148.4,191.6 148.1,191.4 147.9,191.3 147.6,190.8 147.4,190.4 147.2,191.2 146.9,190.7 146.7,190.9 146.4,190.8 146.2,190.4 145.9,191.7 145.7,190.4 145.5,190.7 145.2,191.5 145.0,190.9 144.7,189.5 144.5,189.3 144.2,190.2 144.0,191.0 143.8,190.8 143.5,189.5 143.3,189.5 143.0,191.0 142.8,190.6 142.5,190.0 142.3,190.6 142.1,189.5 141.8,190.0 141.6,189.7 141.3,189.9 141.1,188.5 140.8,190.6 140.6,189.4 140.4,189.5 140.1,189.6 139.9,189.1 139.6,190.0 139.4,189.5 139.1,189.4 138.9,188.8 138.7,189.1 138.4,189.9 138.2,189.5 137.9,189.3 137.7,189.0 137.4,190.0 137.2,189.4 137.0,188.8 136.7,189.8 136.5,190.0 136.2,190.0 136.0,189.3 135.7,189.0 135.5,188.5 135.3,188.3 135.0,188.4 134.8,189.4 134.5,188.8 134.3,188.8 134.0,188.8 133.8,188.6 133.6,189.2 133.3,188.6 133.1,189.0 132.8,188.3 132.6,188.2 132.3,189.7 132.1,189.0 131.9,188.2 131.6,188.5 131.4,188.9 131.1,189.8 130.9,189.1 130.6,189.0 130.4,188.6 130.2,187.6 129.9,188.4 129.7,188.1 129.4,189.5 129.2,189.1 128.9,188.6 128.7,188.3 128.5,188.4 128.2,189.1 128.0,189.1 127.7,189.2 127.5,187.7 127.2,188.4 127.0,188.2 126.8,186.9 126.5,187.8 126.3,187.7 126.0,188.1 125.8,187.9 125.5,187.9 125.3,187.8 125.1,188.1 124.8,187.3 124.6,187.7 124.3,187.9 124.1,187.5 123.8,186.9 123.6,187.1 123.4,186.9 123.1,187.9 122.9,187.7 122.6,187.7 122.4,187.2 122.1,186.5 121.9,187.0 121.7,187.4 121.4,187.1 121.2,187.8 120.9,187.3 120.7,188.1 120.4,187.1 120.2,186.7 120.0,187.0 119.7,186.9 119.5,186.6 119.2,186.6 119.0,186.2 118.7,186.4 118.5,186.8 118.3,186.1 118.0,186.2 117.8,186.7 117.5,186.4 117.3,188.1 117.0,186.1 116.8,186.9 116.6,186.3 116.3,187.6 116.1,186.4 115.8,185.8 115.6,186.4 115.3,185.0 115.1,185.5 114.9,186.1 114.6,186.0 114.4,185.8 114.1,185.4 113.9,186.7 113.6,184.9 113.4,185.1 113.2,185.6 112.9,186.1 112.7,185.2 112.4,185.8 112.2,185.7 111.9,185.1 111.7,185.2 111.5,184.2 111.2,185.0 111.0,185.5 110.7,184.4 110.5,185.7 110.3,185.9 110.0,184.9 109.8,184.7 109.5,184.5 109.3,185.0 109.0,184.9 108.8,185.6 108.6,185.8 108.3,185.1 108.1,185.3 107.8,185.2 107.6,185.1 107.3,185.0 107.1,184.8 106.9,184.1 106.6,184.3 106.4,183.8 106.1,183.9 105.9,184.2 105.6,184.5 105.4,184.3 105.2,184.6 104.9,183.4 104.7,183.9 104.4,184.4 104.2,183.2 103.9,184.7 103.7,184.3 103.5,183.9 103.2,184.4 103.0,183.7 102.7,184.5 102.5,184.8 102.2,183.8 102.0,183.7 101.8,184.0 101.5,184.2 101.3,183.6 101.0,184.3 100.8,184.0 100.5,183.3 100.3,184.6 100.1,182.8 99.8,183.0 99.6,182.8 99.3,182.8 99.1,182.9 98.8,182.8 98.6,184.0 98.4,181.5 98.1,182.0 97.9,182.8 97.6,181.9 97.4,182.8 97.1,181.8 96.9,182.5 96.7,181.1 96.4,182.5 96.2,181.5 95.9,181.8 95.7,182.3 95.4,182.1 95.2,182.2 95.0,182.6 94.7,182.3 94.5,181.5 94.2,182.4 94.0,181.5 93.7,182.1 93.5,181.6 93.3,180.9 93.0,181.3 92.8,181.3 92.5,181.7 92.3,181.7 92.0,181.2 91.8,181.1 91.6,180.7 91.3,180.5 91.1,180.4 90.8,180.0 90.6,179.7 90.3,180.1 90.1,179.7 89.9,179.6 89.6,179.5 89.4,179.5 89.1,180.1 88.9,179.4 88.6,179.7 88.4,180.7 88.2,179.8 87.9,180.5 87.7,180.4 87.4,180.3 87.2,180.1 86.9,179.8 86.7,178.3 86.5,178.9 86.2,180.0 86.0,179.0 85.7,178.9 85.5,180.6 85.2,179.5 85.0,179.0 84.8,179.1 84.5,179.5 84.3,178.9 84.0,178.8 83.8,177.8 83.5,178.1 83.3,178.0 83.1,178.1 82.8,177.4 82.6,178.1 82.3,177.9 82.1,177.2 81.8,176.3 81.6,177.9 81.4,177.6 81.1,176.8 80.9,176.8 80.6,176.5 80.4,176.2 80.1,177.1 79.9,175.8 79.7,176.1 79.4,176.1 79.2,176.2 78.9,175.7 78.7,175.1 78.4,175.0 78.2,175.7 78.0,176.2 77.7,174.4 77.5,175.2 77.2,175.2 77.0,174.1 76.7,174.4 76.5,175.2 76.3,174.8 76.0,173.4 75.8,173.9 75.5,173.9 75.3,174.7 75.0,173.0 74.8,173.1 74.6,173.2 74.3,173.2 74.1,172.4 73.8,173.5 73.6,172.7 73.3,173.1 73.1,171.9 72.9,172.8 72.6,173.3 72.4,172.1 72.1,171.7 71.9,172.2 71.6,171.4 71.4,171.8 71.2,171.5 70.9,171.8 70.7,171.0 70.4,171.7 70.2,170.8 69.9,169.9 69.7,169.9 69.5,170.0 69.2,170.1 69.0,169.4 68.7,169.2 68.5,168.6 68.2,168.3 68.0,168.7 67.8,168.5 67.5,167.2 67.3,167.4 67.0,168.3 66.8,166.4 66.5,166.8 66.3,166.7 66.1,165.4 65.8,165.5 65.6,164.7 65.3,164.9 65.1,166.4 64.8,164.3 64.6,164.0 64.4,164.5 64.1,163.5 63.9,164.0 63.6,162.4 63.4,162.7 63.1,162.3 62.9,161.5 62.7,161.8 62.4,162.6 62.2,160.4 61.9,160.0 61.7,159.7 61.5,159.2 61.2,159.2 61.0,158.0 60.7,157.9 60.5,157.7 60.2,157.3 60.0,156.2 59.8,156.8 59.5,156.0 59.3,155.8 59.2,155.1 59.2,155.2 59.2,154.4 59.2,154.3 59.1,153.7 59.1,155.0 59.1,155.1 59.0,154.9 59.0,155.3 59.0,154.5 59.0,155.5 58.9,154.9 58.9,155.7 58.9,154.4 58.9,155.7 58.8,153.9 58.8,155.4 58.8,155.0 58.8,154.8 58.7,154.4 58.7,154.9 58.7,154.9 58.6,154.5 58.6,154.2 58.6,154.3 58.6,153.1 58.5,154.2 58.5,154.0 58.5,153.7 58.5,154.2 58.4,152.8 58.4,152.6 58.4,153.5 58.4,152.3 58.3,152.9 58.3,152.9 58.3,151.8 58.2,153.1 58.2,152.7 58.2,152.7 58.2,152.1 58.1,152.2 58.1,152.3 58.1,151.7 58.1,152.8 58.0,153.6 58.0,152.4 58.0,152.4 57.9,152.9 57.9,153.5 57.9,153.2 57.9,153.0 57.8,152.5 57.8,153.1 57.8,152.0 57.8,151.7 57.7,151.4 57.7,151.9 57.7,152.4 57.7,151.5 57.6,151.1 57.6,151.2 57.6,151.0 57.5,152.1 57.5,150.3 57.5,151.0 57.5,150.0 57.4,150.9 57.4,150.1 57.4,149.9 57.4,149.3 57.3,150.2 57.3,149.1 57.3,150.4 57.2,150.5 57.2,150.3 57.2,150.5 57.2,149.9 57.1,149.4 57.1,150.9 57.1,150.6 57.1,149.9 57.0,150.3 57.0,150.7 57.0,150.0 57.0,150.2 56.9,150.0 56.9,149.1 56.9,149.7 56.8,149.5 56.8,148.8 56.8,149.2 56.8,148.9 56.7,148.8 56.7,148.1 56.7,147.7 56.7,147.8 56.6,148.2 56.6,148.8 56.6,148.0 56.5,148.4 56.5,148.2 56.5,148.3 56.5,148.7 56.4,148.2 56.4,148.5 56.4,148.3 56.4,148.2 56.3,149.4 56.3,148.7 56.3,148.4 56.3,149.1 56.2,149.0 56.2,147.6 56.2,148.0 56.1,147.4 56.1,147.2 56.1,147.1 56.1,147.0 56.0,147.0 56.0,146.9 56.0,145.9 56.0,146.2 55.9,146.6 55.9,147.1 55.9,146.8 55.8,146.3 55.8,145.5 55.8,145.7 55.8,145.5 55.7,145.0 55.7,144.8 55.7,144.9 55.7,145.1 55.6,144.4 55.6,145.2 55.6,145.0 55.6,144.4 55.5,144.8 55.5,144.6 55.5,145.8 55.4,144.9 55.4,145.5 55.4,145.2 55.4,145.0 55.3,145.3 55.3,145.3 55.3,145.2 55.3,144.9 55.2,145.0 55.2,144.2 55.2,143.5 55.1,143.2 55.1,144.1 55.1,143.9 55.1,143.0 55.0,142.9 55.0,142.5 55.0,143.0 55.0,143.1 54.9,143.3 54.9,142.5 54.9,143.2 54.9,142.6 54.8,141.8 54.8,142.2 54.8,141.9 54.7,142.0 54.7,141.3 54.7,140.7 54.7,141.3 54.6,141.3 54.6,140.9 54.6,139.6 54.6,141.2 54.5,141.2 54.5,141.0 54.5,141.2 54.4,140.3 54.4,140.0 54.4,140.2 54.4,140.2 54.3,140.8 54.3,140.0 54.3,139.1 54.3,139.6 54.2,140.0 54.2,138.8 54.2,139.6 54.2,139.7 54.1,139.3 54.1,140.2 54.1,139.1 54.0,139.3 54.0,138.5 54.0,138.4 54.0,138.6 53.9,138.8 53.9,138.2 53.9,138.2 53.9,137.0 53.8,137.4 53.8,136.9 53.8,136.0 53.7,136.0 53.7,136.6 53.7,135.1 53.7,135.4 53.6,135.6 53.6,135.7 53.6,135.2 53.6,135.0 53.5,135.5 53.5,134.5 53.5,134.5 53.5,134.6 53.4,135.0 53.4,134.7 53.4,134.5 53.3,134.3 53.3,133.4 53.3,133.7 53.3,133.0 53.2,133.9 53.2,133.0 53.2,133.6 53.2,133.3 53.1,132.4 53.1,133.2 53.1,131.6 53.0,131.9 53.0,132.0 53.0,132.1 53.0,131.5 52.9,130.9 52.9,131.6 52.9,130.5 52.9,130.0 52.8,129.4 52.8,130.4 52.8,129.7 52.8,130.2 52.7,129.7 52.7,129.2 52.7,129.4 52.6,128.8 52.6,129.1 52.6,127.4 52.6,128.3 52.5,128.7 52.5,127.9 52.5,126.9 52.5,127.9 52.4,127.3 52.4,127.1 52.4,126.7 52.4,126.2 52.3,126.1 52.3,125.9 52.3,125.0 52.2,124.7 52.2,123.9 52.2,124.1 52.2,123.3 52.1,123.5 52.1,123.9 52.1,122.8 52.1,122.5 52.0,122.3 52.0,121.3 52.0,121.4 51.9,121.5 51.9,120.8 51.9,121.2 51.9,121.8 51.8,121.0 51.8,119.1 51.8,119.5 51.8,119.0 51.7,118.7 51.7,118.6 51.7,117.8 51.7,116.5 51.6,116.5 51.6,115.7 51.6,115.5 51.5,115.6 51.5,114.3 51.5,113.6 51.5,113.5 51.4,113.5 51.4,112.3 51.4,111.6 51.4,110.7 51.3,110.8 51.3,111.1 51.3,109.9 51.2,110.8 51.2,109.6"/><polygon fill="#128b8b" stroke="#128b8b" stroke-width="0.9" stroke-linejoin="round" points="51.2,29.7 51.2,30.2 51.3,30.7 51.3,30.4 51.3,30.4 51.4,30.9 51.4,31.3 51.4,30.8 51.4,31.5 51.5,31.3 51.5,32.4 51.5,32.9 51.5,32.8 51.6,34.0 51.6,33.9 51.6,34.3 51.7,35.0 51.7,35.2 51.7,34.8 51.7,35.1 51.8,34.9 51.8,36.1 51.8,36.0 51.8,36.7 51.9,36.2 51.9,35.9 51.9,37.3 51.9,37.3 52.0,36.3 52.0,38.0 52.0,37.5 52.1,38.9 52.1,38.8 52.1,38.5 52.1,39.1 52.2,39.2 52.2,38.3 52.2,40.4 52.2,40.5 52.3,41.3 52.3,39.8 52.3,41.7 52.4,41.6 52.4,41.4 52.4,43.3 52.4,43.2 52.5,42.5 52.5,42.9 52.5,43.6 52.5,44.2 52.6,43.9 52.6,43.9 52.6,45.2 52.6,44.2 52.7,45.3 52.7,45.1 52.7,44.9 52.8,45.0 52.8,45.2 52.8,45.9 52.8,47.1 52.9,46.7 52.9,46.6 52.9,48.1 52.9,48.1 53.0,48.0 53.0,49.2 53.0,48.8 53.0,50.0 53.1,49.4 53.1,49.1 53.1,49.5 53.2,49.9 53.2,50.0 53.2,49.9 53.2,50.3 53.3,50.1 53.3,50.7 53.3,52.1 53.3,51.4 53.4,51.2 53.4,51.5 53.4,51.7 53.5,52.3 53.5,52.2 53.5,53.3 53.5,52.4 53.6,53.0 53.6,54.1 53.6,53.5 53.6,54.5 53.7,53.9 53.7,54.7 53.7,55.6 53.7,54.3 53.8,55.2 53.8,54.7 53.8,55.3 53.9,55.4 53.9,56.1 53.9,55.5 53.9,55.3 54.0,56.8 54.0,56.9 54.0,57.7 54.0,57.2 54.1,57.5 54.1,57.1 54.1,56.8 54.2,57.7 54.2,57.3 54.2,58.7 54.2,58.8 54.3,58.3 54.3,59.0 54.3,58.8 54.3,58.7 54.4,60.5 54.4,59.4 54.4,60.5 54.4,60.0 54.5,60.8 54.5,61.4 54.5,60.4 54.6,60.8 54.6,61.0 54.6,61.5 54.6,61.7 54.7,61.5 54.7,61.6 54.7,61.5 54.7,61.7 54.8,62.8 54.8,62.4 54.8,62.1 54.9,62.5 54.9,62.8 54.9,62.8 54.9,63.9 55.0,64.1 55.0,63.2 55.0,63.4 55.0,63.6 55.1,64.4 55.1,63.8 55.1,64.2 55.1,64.0 55.2,64.2 55.2,64.4 55.2,66.6 55.3,65.9 55.3,65.8 55.3,65.6 55.3,65.0 55.4,65.6 55.4,66.6 55.4,66.5 55.4,67.2 55.5,67.0 55.5,67.3 55.5,67.4 55.6,68.0 55.6,68.2 55.6,69.1 55.6,68.4 55.7,68.6 55.7,68.5 55.7,68.8 55.7,69.0 55.8,69.2 55.8,68.3 55.8,68.9 55.8,69.0 55.9,68.9 55.9,68.7 55.9,69.1 56.0,69.6 56.0,69.9 56.0,70.4 56.0,68.8 56.1,69.1 56.1,69.1 56.1,70.5 56.1,70.5 56.2,69.8 56.2,69.7 56.2,70.5 56.3,70.8 56.3,71.0 56.3,70.1 56.3,71.1 56.4,71.0 56.4,72.2 56.4,72.8 56.4,72.3 56.5,72.6 56.5,71.0 56.5,72.9 56.5,72.1 56.6,72.8 56.6,73.5 56.6,72.1 56.7,74.1 56.7,72.9 56.7,73.6 56.7,73.0 56.8,73.8 56.8,73.4 56.8,73.8 56.8,72.7 56.9,74.6 56.9,74.8 56.9,74.3 57.0,74.3 57.0,74.0 57.0,74.4 57.0,75.1 57.1,75.1 57.1,75.5 57.1,76.2 57.1,76.0 57.2,76.1 57.2,76.1 57.2,76.0 57.2,76.8 57.3,75.9 57.3,76.1 57.3,77.0 57.4,76.4 57.4,76.8 57.4,76.5 57.4,76.7 57.5,79.1 57.5,76.7 57.5,78.3 57.5,77.5 57.6,77.3 57.6,77.0 57.6,78.1 57.7,77.9 57.7,78.3 57.7,79.0 57.7,77.5 57.8,77.2 57.8,78.3 57.8,79.0 57.8,78.5 57.9,79.3 57.9,79.3 57.9,79.1 57.9,78.6 58.0,79.1 58.0,80.0 58.0,80.0 58.1,79.7 58.1,80.0 58.1,79.9 58.1,80.3 58.2,80.1 58.2,80.8 58.2,80.4 58.2,80.4 58.3,79.4 58.3,79.2 58.3,80.5 58.4,80.7 58.4,82.1 58.4,81.2 58.4,81.2 58.5,82.2 58.5,80.8 58.5,82.1 58.5,81.8 58.6,80.9 58.6,81.3 58.6,82.2 58.6,82.1 58.7,82.1 58.7,81.5 58.7,82.0 58.8,82.0 58.8,82.0 58.8,82.6 58.8,82.8 58.9,82.1 58.9,82.1 58.9,81.9 58.9,82.4 59.0,83.2 59.0,83.4 59.0,83.0 59.0,82.5 59.1,82.6 59.1,82.2 59.1,83.8 59.2,83.1 59.2,83.3 59.2,84.6 59.2,83.5 59.3,83.9 59.5,85.0 59.8,84.6 60.0,85.7 60.2,89.0 60.5,88.5 60.7,88.1 61.0,89.6 61.2,90.5 61.5,91.5 61.7,92.0 61.9,92.1 62.2,93.4 62.4,94.5 62.7,93.9 62.9,93.8 63.1,94.1 63.4,94.0 63.6,96.0 63.9,95.8 64.1,95.9 64.4,96.4 64.6,97.3 64.8,96.8 65.1,96.8 65.3,98.7 65.6,97.3 65.8,98.5 66.1,100.0 66.3,100.6 66.5,100.2 66.8,100.6 67.0,100.8 67.3,100.8 67.5,101.2 67.8,102.1 68.0,101.9 68.2,102.9 68.5,102.3 68.7,102.1 69.0,102.4 69.2,103.8 69.5,102.5 69.7,103.8 69.9,103.0 70.2,104.0 70.4,104.0 70.7,104.0 70.9,104.0 71.2,104.4 71.4,105.1 71.6,105.9 71.9,105.9 72.1,105.1 72.4,105.9 72.6,104.5 72.9,105.8 73.1,107.1 73.3,105.0 73.6,106.0 73.8,106.9 74.1,107.5 74.3,107.3 74.6,106.9 74.8,108.3 75.0,108.6 75.3,108.0 75.5,108.5 75.8,108.2 76.0,108.7 76.3,109.6 76.5,108.5 76.7,109.7 77.0,109.4 77.2,109.3 77.5,108.8 77.7,109.5 78.0,109.3 78.2,109.4 78.4,108.8 78.7,109.9 78.9,109.9 79.2,110.9 79.4,110.8 79.7,111.1 79.9,111.0 80.1,110.9 80.4,110.8 80.6,111.7 80.9,110.8 81.1,110.7 81.4,111.4 81.6,112.0 81.8,111.5 82.1,111.0 82.3,112.6 82.6,112.0 82.8,111.9 83.1,112.3 83.3,112.9 83.5,112.3 83.8,113.3 84.0,112.8 84.3,113.4 84.5,113.8 84.8,112.3 85.0,114.3 85.2,114.0 85.5,113.9 85.7,113.8 86.0,113.9 86.2,114.9 86.5,114.4 86.7,114.6 86.9,113.5 87.2,115.8 87.4,115.0 87.7,115.0 87.9,114.6 88.2,114.8 88.4,115.5 88.6,113.6 88.9,116.2 89.1,115.6 89.4,115.5 89.6,115.9 89.9,117.0 90.1,116.4 90.3,117.0 90.6,115.9 90.8,116.2 91.1,117.1 91.3,115.9 91.6,115.2 91.8,116.3 92.0,116.5 92.3,116.7 92.5,117.0 92.8,117.2 93.0,116.7 93.3,117.4 93.5,117.2 93.7,117.6 94.0,117.2 94.2,118.0 94.5,117.7 94.7,118.8 95.0,117.8 95.2,119.0 95.4,118.0 95.7,118.8 95.9,118.2 96.2,118.4 96.4,119.1 96.7,118.1 96.9,119.2 97.1,119.8 97.4,119.1 97.6,118.1 97.9,119.2 98.1,119.1 98.4,119.2 98.6,119.2 98.8,120.2 99.1,120.7 99.3,120.1 99.6,120.7 99.8,119.9 100.1,121.5 100.3,119.8 100.5,119.8 100.8,120.1 101.0,120.6 101.3,120.5 101.5,119.0 101.8,120.1 102.0,120.3 102.2,121.3 102.5,119.8 102.7,119.3 103.0,119.3 103.2,120.0 103.5,120.8 103.7,120.8 103.9,120.9 104.2,120.7 104.4,121.0 104.7,121.3 104.9,122.7 105.2,121.7 105.4,121.0 105.6,121.6 105.9,121.7 106.1,120.6 106.4,121.7 106.6,121.8 106.9,121.9 107.1,121.4 107.3,121.8 107.6,122.0 107.8,122.6 108.1,122.4 108.3,121.6 108.6,123.0 108.8,123.7 109.0,122.8 109.3,121.8 109.5,123.6 109.8,123.8 110.0,123.3 110.3,123.0 110.5,123.7 110.7,123.6 111.0,123.3 111.2,123.3 111.5,123.6 111.7,124.2 111.9,123.8 112.2,123.1 112.4,123.4 112.7,124.2 112.9,124.5 113.2,124.1 113.4,124.6 113.6,123.8 113.9,124.6 114.1,124.9 114.4,124.7 114.6,124.5 114.9,124.9 115.1,123.3 115.3,125.1 115.6,124.2 115.8,124.6 116.1,124.9 116.3,124.7 116.6,125.2 116.8,125.0 117.0,124.9 117.3,125.5 117.5,125.2 117.8,124.9 118.0,124.9 118.3,124.5 118.5,125.6 118.7,124.4 119.0,124.9 119.2,126.1 119.5,125.5 119.7,125.9 120.0,126.5 120.2,125.4 120.4,126.4 120.7,126.6 120.9,126.2 121.2,126.5 121.4,125.8 121.7,126.4 121.9,126.3 122.1,126.5 122.4,125.5 122.6,125.9 122.9,126.4 123.1,126.2 123.4,127.1 123.6,127.8 123.8,127.3 124.1,127.2 124.3,127.7 124.6,126.9 124.8,127.5 125.1,127.3 125.3,127.4 125.5,128.7 125.8,127.5 126.0,127.8 126.3,127.6 126.5,127.5 126.8,127.5 127.0,127.9 127.2,128.1 127.5,127.9 127.7,128.4 128.0,128.2 128.2,128.2 128.5,128.2 128.7,129.3 128.9,127.6 129.2,128.2 129.4,128.6 129.7,128.4 129.9,127.6 130.2,127.6 130.4,128.1 130.6,128.5 130.9,128.3 131.1,127.9 131.4,128.0 131.6,128.3 131.9,128.2 132.1,127.6 132.3,127.8 132.6,128.7 132.8,129.9 133.1,129.1 133.3,128.1 133.6,128.7 133.8,129.4 134.0,128.8 134.3,129.4 134.5,129.2 134.8,129.1 135.0,128.8 135.3,129.5 135.5,129.8 135.7,129.7 136.0,129.9 136.2,129.3 136.5,130.1 136.7,128.9 137.0,129.5 137.2,129.2 137.4,129.2 137.7,129.3 137.9,129.8 138.2,129.8 138.4,130.3 138.7,129.4 138.9,130.1 139.1,129.7 139.4,130.7 139.6,131.2 139.9,129.9 140.1,131.0 140.4,130.0 140.6,131.3 140.8,130.8 141.1,131.0 141.3,130.0 141.6,131.3 141.8,130.6 142.1,130.5 142.3,131.1 142.5,130.3 142.8,130.6 143.0,130.5 143.3,130.3 143.5,131.2 143.8,131.7 144.0,130.8 144.2,132.0 144.5,131.6 144.7,131.2 145.0,131.8 145.2,132.4 145.5,131.0 145.7,131.1 145.9,130.8 146.2,132.2 146.4,131.6 146.7,130.9 146.9,131.1 147.2,131.5 147.4,131.0 147.6,131.6 147.9,131.5 148.1,132.3 148.4,132.0 148.6,132.2 148.9,131.9 149.1,132.2 149.3,132.6 149.6,131.6 149.8,132.7 150.1,133.1 150.3,132.7 150.6,132.1 150.8,131.8 151.0,131.2 151.3,131.2 151.5,131.4 151.8,131.2 152.0,131.6 152.3,131.4 152.5,131.7 152.7,132.6 153.0,132.2 153.2,132.5 153.5,131.6 153.7,132.8 154.0,132.1 154.2,133.0 154.4,131.6 154.7,132.1 154.9,133.0 155.2,133.5 155.4,132.1 155.7,132.8 155.9,132.6 156.1,133.6 156.4,134.1 156.6,133.4 156.9,133.8 157.1,133.1 157.4,132.9 157.6,133.7 157.8,133.3 158.1,133.9 158.3,133.5 158.6,134.4 158.8,133.7 159.1,133.9 159.3,134.4 159.5,134.0 159.8,134.6 160.0,133.7 160.3,133.6 160.5,134.3 160.7,134.1 161.0,133.5 161.2,133.3 161.5,133.5 161.7,133.9 162.0,133.8 162.2,133.4 162.4,133.6 162.7,134.2 162.9,134.3 163.2,134.5 163.4,133.5 163.7,133.4 163.9,134.3 164.1,134.0 164.4,134.5 164.6,134.5 164.9,133.7 165.1,134.0 165.4,133.4 165.6,133.3 165.8,134.4 166.1,135.1 166.3,133.3 166.6,133.4 166.8,133.8 167.1,134.5 167.3,133.2 167.5,133.9 167.8,134.5 168.0,133.0 168.3,133.4 168.5,134.1 168.8,134.1 169.0,133.3 169.2,134.1 169.5,134.1 169.7,133.2 170.0,134.0 170.2,134.2 170.5,134.2 170.7,134.5 170.9,133.8 171.2,133.4 171.4,133.6 171.7,133.7 171.9,134.2 172.2,134.7 172.4,134.1 172.6,133.7 172.9,133.9 173.1,134.8 173.4,134.6 173.6,134.9 173.9,134.7 174.1,135.0 174.3,134.9 174.6,135.6 174.8,135.2 175.1,135.6 175.3,135.1 175.6,135.0 175.8,134.1 176.0,134.9 176.3,134.5 176.5,135.5 176.8,134.9 177.0,135.0 177.3,134.7 177.5,135.5 177.7,134.2 178.0,135.6 178.2,135.1 178.5,134.8 178.7,135.1 179.0,135.4 179.2,135.8 179.4,136.4 179.7,135.8 179.9,135.7 180.2,136.5 180.4,136.6 180.7,135.7 180.9,136.0 181.1,136.2 181.4,136.0 181.6,136.3 181.9,135.4 182.1,135.5 182.4,137.2 182.6,136.4 182.8,136.6 183.1,136.0 183.3,135.3 183.6,136.2 183.8,136.4 184.1,135.6 184.3,135.9 184.5,136.2 184.8,136.2 185.0,135.5 185.3,136.7 185.5,136.8 185.8,135.7 186.0,137.3 186.2,135.9 186.5,135.9 186.7,136.0 187.0,136.4 187.2,136.1 187.5,135.2 187.7,136.0 187.9,136.2 188.2,135.6 188.4,134.9 188.7,135.3 188.9,135.4 189.2,136.0 189.4,135.4 189.6,135.9 189.9,137.1 190.1,136.0 190.4,135.9 190.6,136.6 190.9,137.0 191.1,137.1 191.3,136.6 191.6,135.9 191.8,135.5 192.1,136.1 192.3,136.4 192.6,136.1 192.8,135.8 193.0,136.1 193.3,136.0 193.5,136.0 193.8,137.2 194.0,136.9 194.3,136.0 194.5,137.2 194.7,136.7 195.0,136.1 195.2,136.3 195.5,138.2 195.7,137.0 196.0,136.6 196.2,137.1 196.4,137.6 196.7,137.3 196.9,137.2 197.2,136.8 197.4,137.2 197.7,136.9 197.9,137.5 198.1,137.9 198.4,137.8 198.6,137.5 198.9,138.4 199.1,138.0 199.4,138.1 199.6,137.1 199.8,137.3 200.1,137.1 200.3,138.0 200.6,137.2 200.8,137.3 201.1,137.4 201.3,138.1 201.5,136.9 201.8,136.9 202.0,137.6 202.3,137.3 202.5,138.1 202.8,137.8 203.0,137.3 203.2,137.2 203.5,137.1 203.7,138.0 204.0,137.6 204.2,137.7 204.5,136.1 204.7,136.9 204.9,137.5 205.2,138.0 205.4,138.2 205.7,137.8 205.9,136.9 206.2,137.9 206.4,137.5 206.6,136.8 206.9,137.6 207.1,137.9 207.4,138.3 207.6,138.4 207.8,138.0 208.1,138.0 208.3,138.0 208.6,137.9 208.8,137.3 209.1,138.2 209.3,137.8 209.5,138.1 209.8,137.9 210.0,137.6 210.3,137.8 210.5,137.8 210.8,137.6 211.0,136.5 211.2,137.4 211.5,138.7 211.7,137.7 212.0,138.5 212.2,137.6 212.5,137.0 212.7,137.6 212.9,137.6 213.2,137.6 213.4,138.5 213.7,138.9 213.9,137.9 214.2,139.4 214.4,139.0 214.6,137.6 214.9,138.9 215.1,138.6 215.4,138.4 215.6,137.5 215.9,138.5 216.1,137.7 216.3,139.1 216.6,137.7 216.8,137.5 217.1,138.8 217.3,138.0 217.6,139.4 217.8,138.3 218.0,139.0 218.3,138.3 218.5,138.6 218.8,138.9 219.0,138.3 219.3,138.9 219.5,138.2 219.7,139.2 220.0,139.0 220.2,137.8 220.5,139.7 220.7,138.7 221.0,138.0 221.2,138.5 221.4,138.7 221.7,139.0 221.9,139.1 222.2,139.4 222.4,138.1 222.7,138.9 222.9,138.7 223.1,138.2 223.4,138.8 223.6,138.6 223.9,139.4 224.1,139.0 224.4,139.2 224.6,138.8 224.8,138.8 225.1,139.1 225.3,138.2 225.6,138.5 225.8,138.6 226.1,138.4 226.3,138.1 226.5,138.7 226.8,138.8 227.0,139.6 227.3,138.9 227.5,138.8 227.8,138.2 228.0,138.8 228.2,139.5 228.5,140.0 228.7,139.2 229.0,139.7 229.2,140.0 229.5,140.1 229.7,139.4 229.9,138.9 230.2,139.1 230.4,139.6 230.7,138.6 230.9,139.0 231.2,138.6 231.4,138.7 231.6,138.1 231.9,139.6 232.1,138.8 232.4,139.1 232.6,139.4 232.9,139.2 233.1,138.9 233.3,138.9 233.6,138.8 233.8,139.3 234.1,138.8 234.3,139.6 234.6,138.8 234.8,139.2 235.0,138.4 235.3,138.0 235.5,138.7 235.8,139.1 236.0,139.0 236.3,138.9 236.5,138.2 236.7,138.6 237.0,139.0 237.2,138.8 237.5,139.4 237.7,139.3 238.0,139.3 238.2,138.8 238.4,140.2 238.7,138.8 238.9,139.8 239.2,139.4 239.4,139.2 239.7,139.1 239.9,140.0 240.1,139.2 240.4,140.2 240.6,139.2 240.9,139.6 241.1,139.8 241.4,140.0 241.6,139.0 241.8,138.8 242.1,140.7 242.3,139.2 242.6,139.4 242.8,139.3 243.1,140.2 243.3,139.8 243.5,140.1 243.8,140.3 244.0,139.9 244.3,139.5 244.5,140.4 244.8,140.3 245.0,140.0 245.2,139.0 245.5,139.5 245.7,140.1 246.0,139.4 246.2,140.2 246.5,141.0 246.7,139.6 246.9,139.7 247.2,139.9 247.4,140.6 247.7,138.8 247.9,139.8 248.2,140.7 248.4,140.2 248.6,139.2 248.9,140.3 249.1,139.4 249.4,140.4 249.6,140.3 249.9,139.4 250.1,138.7 250.3,139.5 250.6,139.3 250.8,139.3 251.1,139.2 251.3,139.2 251.6,139.1 251.8,140.2 252.0,140.6 252.3,139.8 252.5,139.8 252.8,141.2 253.0,141.2 253.3,140.8 253.5,141.0 253.7,140.9 254.0,140.5 254.2,140.5 254.5,140.2 254.7,140.4 255.0,139.5 255.2,140.9 255.4,139.5 255.7,140.2 255.9,140.4 256.2,140.2 256.4,140.3 256.6,139.6 256.9,139.8 257.1,140.3 257.4,140.4 257.6,139.5 257.9,140.4 258.1,139.7 258.3,140.3 258.6,140.3 258.8,139.5 259.1,141.0 259.3,139.7 259.6,140.8 259.8,139.2 260.0,140.4 260.3,138.8 260.5,139.6 260.8,139.5 261.0,140.5 261.3,139.9 261.5,140.4 261.7,140.6 262.0,140.1 262.2,140.2 262.5,140.8 262.7,140.3 263.0,140.6 263.2,139.2 263.4,141.1 263.7,140.4 263.9,138.9 264.2,139.1 264.4,139.3 264.7,139.9 264.9,139.7 265.1,139.8 265.4,140.1 265.6,139.0 265.9,139.8 266.1,139.9 266.4,140.4 266.6,140.2 266.8,139.3 267.1,140.0 267.3,141.8 267.6,140.6 267.8,141.1 268.1,140.4 268.3,140.1 268.5,140.2 268.8,140.2 269.0,140.9 269.3,140.4 269.5,139.7 269.8,141.1 270.0,141.1 270.2,140.5 270.5,140.9 270.7,141.5 271.0,141.3 271.2,140.6 271.5,141.6 271.7,142.1 271.9,140.8 272.2,140.0 272.4,140.9 272.7,141.1 272.9,139.8 273.2,139.3 273.4,139.2 273.6,139.5 273.9,139.2 274.1,139.7 274.4,139.7 274.6,139.4 274.9,140.5 275.1,141.1 275.3,139.5 275.6,140.6 275.8,140.7 276.1,140.5 276.3,140.9 276.6,140.1 276.8,141.1 277.0,140.4 277.3,139.9 277.5,140.7 277.8,140.4 278.0,141.0 278.3,140.3 278.5,139.9 278.7,141.1 279.0,140.3 279.2,140.5 279.5,141.3 279.7,140.3 280.0,140.5 280.2,140.5 280.4,141.9 280.7,140.4 280.9,140.4 281.2,140.6 281.4,142.0 281.7,141.5 281.9,140.7 282.1,140.5 282.4,142.2 282.6,140.6 282.9,140.9 283.1,140.8 283.4,142.4 283.6,140.8 283.8,140.6 284.1,141.5 284.3,141.5 284.6,141.6 284.8,141.2 285.1,140.6 285.3,140.9 285.5,142.1 285.8,140.4 286.0,141.6 286.3,142.1 286.5,141.6 286.8,141.1 287.0,141.3 287.2,141.3 287.5,140.1 287.7,141.3 288.0,140.6 288.2,140.1 288.5,141.8 288.7,140.9 288.9,141.4 289.2,140.6 289.4,141.9 289.7,141.7 289.9,141.2 290.2,140.7 290.4,140.8 290.6,141.2 290.9,140.7 291.1,140.4 291.4,141.1 291.6,140.9 291.9,141.0 292.1,141.0 292.3,139.9 292.6,140.6 292.8,140.3 293.1,140.2 293.3,140.8 293.6,140.8 293.8,141.1 294.0,140.8 294.3,141.5 294.5,141.1 294.8,141.4 295.0,141.8 295.3,142.1 295.5,140.9 295.7,140.1 296.0,140.2 296.2,141.7 296.5,141.8 296.7,141.3 297.0,141.7 297.2,140.6 297.4,140.4 297.7,141.2 297.9,140.9 298.2,140.8 298.4,141.0 298.7,140.7 298.9,140.0 299.1,141.5 299.4,141.0 299.6,140.7 299.9,140.9 300.1,141.7 300.4,140.9 300.6,140.7 300.8,141.4 301.1,141.7 301.3,141.7 301.6,141.6 301.8,141.4 302.1,141.1 302.3,140.2 302.5,141.0 302.8,140.9 303.0,142.1 303.3,141.1 303.5,141.3 303.8,141.4 304.0,140.5 304.2,140.5 304.5,141.8 304.7,141.7 305.0,140.3 305.2,141.4 305.4,141.8 305.7,140.7 305.9,141.3 306.2,141.4 306.4,141.2 306.7,141.1 306.9,140.1 307.1,140.8 307.4,141.3 307.6,141.4 307.9,142.4 308.1,143.0 308.4,142.6 308.6,142.0 308.8,141.3 309.1,141.8 309.3,142.7 309.6,142.2 309.8,142.2 310.1,142.9 310.3,142.0 310.5,142.0 310.8,142.9 311.0,142.4 311.3,142.6 311.5,142.2 311.8,141.3 312.0,142.5 312.2,141.6 312.5,142.1 312.7,141.7 313.0,141.7 313.2,141.0 313.5,141.8 313.7,140.8 313.9,141.7 314.2,141.3 314.4,142.2 314.7,141.1 314.9,141.2 315.2,141.4 315.4,140.3 315.6,141.1 315.9,141.3 316.1,141.0 316.4,141.1 316.6,141.2 316.9,141.4 317.1,141.4 317.3,141.5 317.6,141.6 317.8,141.1 318.1,141.4 318.3,141.0 318.6,141.0 318.8,141.0 319.0,140.8 319.3,141.4 319.5,142.0 319.8,141.7 320.0,141.8 320.3,141.4 320.5,141.4 320.7,141.7 321.0,142.3 321.2,141.4 321.5,143.2 321.7,142.8 322.0,142.2 322.2,141.6 322.4,142.3 322.7,141.8 322.9,142.7 323.2,141.5 323.4,141.8 323.7,141.0 323.9,141.8 324.1,141.5 324.4,141.7 324.6,142.5 324.9,141.4 325.1,140.9 325.4,140.8 325.6,141.6 325.8,141.5 326.1,141.6 326.1,146.3 325.8,146.3 325.6,147.1 325.4,146.3 325.1,146.8 324.9,147.2 324.6,147.2 324.4,146.4 324.1,146.2 323.9,145.4 323.7,146.0 323.4,147.4 323.2,147.2 322.9,146.6 322.7,146.3 322.4,147.3 322.2,146.9 322.0,146.8 321.7,147.1 321.5,148.4 321.2,147.1 321.0,146.9 320.7,146.2 320.5,146.3 320.3,146.5 320.0,147.0 319.8,146.2 319.5,146.5 319.3,146.7 319.0,146.4 318.8,146.6 318.6,146.5 318.3,146.9 318.1,146.0 317.8,146.1 317.6,145.8 317.3,144.8 317.1,146.3 316.9,147.0 316.6,146.6 316.4,145.8 316.1,145.8 315.9,146.3 315.6,145.2 315.4,146.7 315.2,147.1 314.9,146.5 314.7,146.4 314.4,147.2 314.2,146.5 313.9,146.6 313.7,146.4 313.5,146.0 313.2,146.3 313.0,146.4 312.7,146.6 312.5,147.2 312.2,146.5 312.0,146.9 311.8,147.5 311.5,146.7 311.3,146.2 311.0,147.2 310.8,146.9 310.5,147.3 310.3,147.3 310.1,147.8 309.8,147.7 309.6,147.7 309.3,147.5 309.1,146.9 308.8,146.3 308.6,146.0 308.4,147.0 308.1,146.3 307.9,147.0 307.6,146.3 307.4,147.3 307.1,147.3 306.9,146.3 306.7,147.1 306.4,145.8 306.2,146.5 305.9,146.6 305.7,145.6 305.4,145.9 305.2,146.7 305.0,146.3 304.7,145.9 304.5,146.3 304.2,146.7 304.0,145.3 303.8,146.5 303.5,147.5 303.3,146.5 303.0,147.0 302.8,145.4 302.5,146.3 302.3,146.7 302.1,145.7 301.8,146.3 301.6,146.7 301.3,145.9 301.1,145.8 300.8,145.1 300.6,146.1 300.4,146.4 300.1,146.4 299.9,146.6 299.6,146.1 299.4,145.3 299.1,146.3 298.9,145.7 298.7,146.0 298.4,145.2 298.2,146.1 297.9,145.5 297.7,146.1 297.4,145.5 297.2,145.1 297.0,145.8 296.7,145.2 296.5,145.1 296.2,145.8 296.0,145.7 295.7,146.4 295.5,145.7 295.3,146.0 295.0,146.1 294.8,146.9 294.5,145.7 294.3,145.8 294.0,146.8 293.8,145.6 293.6,146.3 293.3,145.7 293.1,145.3 292.8,145.8 292.6,145.3 292.3,144.9 292.1,145.5 291.9,145.7 291.6,144.9 291.4,145.4 291.1,146.1 290.9,147.2 290.6,146.3 290.4,146.0 290.2,146.4 289.9,145.7 289.7,146.6 289.4,146.1 289.2,146.2 288.9,146.9 288.7,146.2 288.5,146.1 288.2,146.6 288.0,146.9 287.7,146.1 287.5,145.7 287.2,146.0 287.0,145.6 286.8,146.2 286.5,146.0 286.3,145.4 286.0,145.5 285.8,145.5 285.5,146.4 285.3,146.5 285.1,146.4 284.8,146.1 284.6,146.1 284.3,146.6 284.1,147.4 283.8,146.4 283.6,146.1 283.4,146.8 283.1,146.1 282.9,145.8 282.6,146.2 282.4,145.6 282.1,146.6 281.9,145.8 281.7,146.7 281.4,146.4 281.2,146.1 280.9,145.7 280.7,145.2 280.4,146.4 280.2,146.8 280.0,146.4 279.7,145.7 279.5,145.9 279.2,145.7 279.0,145.3 278.7,145.0 278.5,144.9 278.3,145.6 278.0,145.1 277.8,145.8 277.5,145.0 277.3,144.9 277.0,146.5 276.8,146.4 276.6,144.6 276.3,146.2 276.1,145.5 275.8,145.3 275.6,145.9 275.3,146.1 275.1,146.0 274.9,144.5 274.6,145.9 274.4,145.2 274.1,144.4 273.9,144.3 273.6,145.4 273.4,144.4 273.2,145.5 272.9,144.9 272.7,145.8 272.4,145.4 272.2,145.2 271.9,146.1 271.7,145.3 271.5,145.6 271.2,145.1 271.0,146.5 270.7,145.6 270.5,146.5 270.2,145.8 270.0,146.3 269.8,145.8 269.5,145.2 269.3,145.2 269.0,146.0 268.8,145.7 268.5,145.7 268.3,144.9 268.1,145.5 267.8,145.7 267.6,145.9 267.3,145.6 267.1,145.5 266.8,145.5 266.6,145.1 266.4,145.2 266.1,144.5 265.9,144.4 265.6,144.7 265.4,144.0 265.1,144.5 264.9,144.5 264.7,145.0 264.4,144.2 264.2,144.4 263.9,144.5 263.7,145.4 263.4,145.7 263.2,145.2 263.0,145.4 262.7,145.8 262.5,145.7 262.2,146.1 262.0,145.6 261.7,145.9 261.5,145.9 261.3,145.1 261.0,144.9 260.8,145.4 260.5,144.3 260.3,145.6 260.0,145.4 259.8,145.5 259.6,145.6 259.3,146.2 259.1,145.5 258.8,144.8 258.6,145.1 258.3,144.2 258.1,145.9 257.9,145.4 257.6,145.5 257.4,145.6 257.1,145.0 256.9,144.9 256.6,144.2 256.4,145.4 256.2,145.4 255.9,144.8 255.7,145.7 255.4,145.0 255.2,145.2 255.0,145.7 254.7,144.4 254.5,145.6 254.2,146.1 254.0,146.1 253.7,145.6 253.5,145.5 253.3,145.7 253.0,146.2 252.8,145.8 252.5,144.9 252.3,145.1 252.0,145.3 251.8,145.4 251.6,144.2 251.3,144.0 251.1,144.4 250.8,143.8 250.6,144.6 250.3,145.1 250.1,145.0 249.9,144.6 249.6,145.1 249.4,144.4 249.1,145.3 248.9,145.2 248.6,144.6 248.4,145.6 248.2,145.1 247.9,145.2 247.7,144.5 247.4,144.6 247.2,145.2 246.9,144.5 246.7,144.6 246.5,144.6 246.2,144.7 246.0,145.4 245.7,143.8 245.5,144.6 245.2,144.8 245.0,144.1 244.8,144.4 244.5,145.6 244.3,144.4 244.0,143.7 243.8,145.3 243.5,143.1 243.3,144.8 243.1,145.3 242.8,144.7 242.6,144.4 242.3,145.4 242.1,145.5 241.8,143.7 241.6,144.4 241.4,144.5 241.1,143.6 240.9,144.2 240.6,144.8 240.4,144.9 240.1,145.2 239.9,143.7 239.7,144.3 239.4,144.1 239.2,144.5 238.9,144.9 238.7,144.5 238.4,144.6 238.2,144.2 238.0,144.1 237.7,143.8 237.5,145.0 237.2,144.4 237.0,142.8 236.7,143.3 236.5,144.2 236.3,144.1 236.0,143.4 235.8,143.4 235.5,143.8 235.3,143.7 235.0,143.9 234.8,143.9 234.6,143.7 234.3,143.6 234.1,144.2 233.8,143.7 233.6,144.5 233.3,144.5 233.1,144.3 232.9,144.2 232.6,144.4 232.4,145.0 232.1,143.1 231.9,144.3 231.6,143.3 231.4,143.4 231.2,144.3 230.9,143.5 230.7,143.9 230.4,143.5 230.2,144.8 229.9,144.2 229.7,143.9 229.5,144.3 229.2,144.0 229.0,143.7 228.7,144.1 228.5,143.5 228.2,143.1 228.0,143.1 227.8,143.3 227.5,144.6 227.3,144.5 227.0,144.2 226.8,142.7 226.5,142.2 226.3,144.5 226.1,143.4 225.8,144.1 225.6,144.1 225.3,143.6 225.1,143.4 224.8,142.8 224.6,144.0 224.4,143.8 224.1,145.0 223.9,144.1 223.6,143.4 223.4,144.2 223.1,144.2 222.9,144.4 222.7,143.3 222.4,143.9 222.2,143.5 221.9,144.1 221.7,143.7 221.4,143.7 221.2,143.7 221.0,144.0 220.7,143.7 220.5,143.4 220.2,144.5 220.0,144.2 219.7,144.2 219.5,143.4 219.3,143.0 219.0,142.9 218.8,143.5 218.5,143.6 218.3,143.5 218.0,142.7 217.8,144.8 217.6,143.0 217.3,143.4 217.1,142.7 216.8,143.3 216.6,142.7 216.3,143.1 216.1,142.4 215.9,142.9 215.6,143.4 215.4,143.4 215.1,143.3 214.9,142.8 214.6,143.7 214.4,142.7 214.2,142.9 213.9,143.3 213.7,143.4 213.4,142.8 213.2,142.4 212.9,141.8 212.7,143.0 212.5,143.1 212.2,143.3 212.0,142.6 211.7,141.9 211.5,142.0 211.2,141.4 211.0,143.1 210.8,142.9 210.5,143.8 210.3,143.2 210.0,143.7 209.8,142.7 209.5,143.5 209.3,142.6 209.1,141.9 208.8,142.3 208.6,143.4 208.3,142.5 208.1,142.7 207.8,142.7 207.6,141.8 207.4,143.2 207.1,144.0 206.9,142.9 206.6,143.1 206.4,142.7 206.2,142.9 205.9,142.8 205.7,142.3 205.4,142.1 205.2,143.6 204.9,143.0 204.7,143.1 204.5,143.0 204.2,143.0 204.0,141.7 203.7,142.5 203.5,141.9 203.2,142.3 203.0,142.4 202.8,142.1 202.5,141.3 202.3,141.6 202.0,141.9 201.8,142.8 201.5,142.8 201.3,142.6 201.1,142.9 200.8,141.8 200.6,143.1 200.3,142.3 200.1,142.4 199.8,142.3 199.6,143.4 199.4,141.8 199.1,143.0 198.9,142.3 198.6,142.1 198.4,142.5 198.1,143.3 197.9,142.8 197.7,142.9 197.4,142.1 197.2,142.2 196.9,142.8 196.7,142.6 196.4,143.1 196.2,142.6 196.0,141.8 195.7,142.4 195.5,142.0 195.2,141.5 195.0,141.2 194.7,140.7 194.5,141.8 194.3,141.9 194.0,141.7 193.8,141.5 193.5,141.1 193.3,141.0 193.0,141.5 192.8,142.3 192.6,141.8 192.3,141.1 192.1,141.9 191.8,141.4 191.6,141.2 191.3,140.1 191.1,142.4 190.9,141.8 190.6,140.8 190.4,141.2 190.1,141.0 189.9,140.2 189.6,140.9 189.4,140.4 189.2,140.7 188.9,140.6 188.7,140.5 188.4,140.8 188.2,141.7 187.9,141.5 187.7,141.2 187.5,141.3 187.2,141.0 187.0,141.1 186.7,141.6 186.5,142.1 186.2,141.1 186.0,141.3 185.8,141.4 185.5,141.2 185.3,142.4 185.0,140.6 184.8,140.9 184.5,140.6 184.3,140.4 184.1,141.4 183.8,141.0 183.6,140.8 183.3,140.6 183.1,140.3 182.8,141.0 182.6,141.4 182.4,140.4 182.1,141.3 181.9,140.7 181.6,140.9 181.4,141.7 181.1,140.7 180.9,142.4 180.7,140.9 180.4,141.4 180.2,141.6 179.9,141.6 179.7,141.1 179.4,140.2 179.2,141.8 179.0,141.2 178.7,141.0 178.5,140.9 178.2,140.1 178.0,140.4 177.7,140.1 177.5,140.4 177.3,139.3 177.0,140.9 176.8,140.0 176.5,140.0 176.3,139.9 176.0,139.5 175.8,139.1 175.6,138.8 175.3,139.6 175.1,140.4 174.8,140.3 174.6,139.7 174.3,139.8 174.1,139.8 173.9,139.1 173.6,139.3 173.4,140.0 173.1,139.3 172.9,139.2 172.6,139.8 172.4,139.7 172.2,139.7 171.9,139.8 171.7,138.5 171.4,139.0 171.2,139.4 170.9,139.4 170.7,140.2 170.5,139.5 170.2,139.1 170.0,139.4 169.7,139.6 169.5,138.4 169.2,138.3 169.0,138.6 168.8,139.1 168.5,139.7 168.3,139.1 168.0,138.2 167.8,138.6 167.5,139.1 167.3,138.7 167.1,139.1 166.8,139.0 166.6,138.9 166.3,139.1 166.1,139.5 165.8,139.3 165.6,138.2 165.4,139.4 165.1,138.1 164.9,139.2 164.6,139.6 164.4,138.5 164.1,138.6 163.9,139.5 163.7,138.7 163.4,139.6 163.2,138.0 162.9,139.0 162.7,138.7 162.4,138.6 162.2,138.3 162.0,138.7 161.7,138.7 161.5,138.7 161.2,139.1 161.0,138.2 160.7,139.8 160.5,139.6 160.3,139.0 160.0,138.4 159.8,137.7 159.5,139.2 159.3,139.9 159.1,138.2 158.8,138.3 158.6,139.2 158.3,138.8 158.1,138.9 157.8,137.9 157.6,137.9 157.4,137.9 157.1,139.0 156.9,137.7 156.6,138.8 156.4,138.2 156.1,137.5 155.9,137.8 155.7,137.9 155.4,137.5 155.2,136.7 154.9,137.8 154.7,137.6 154.4,137.5 154.2,136.9 154.0,137.0 153.7,137.4 153.5,137.7 153.2,137.9 153.0,136.1 152.7,137.4 152.5,136.8 152.3,136.5 152.0,135.8 151.8,136.5 151.5,137.1 151.3,137.0 151.0,136.6 150.8,137.4 150.6,136.9 150.3,137.9 150.1,137.7 149.8,136.5 149.6,137.0 149.3,137.2 149.1,137.5 148.9,137.1 148.6,137.1 148.4,137.7 148.1,136.8 147.9,136.9 147.6,136.0 147.4,137.0 147.2,136.5 146.9,136.5 146.7,135.7 146.4,136.1 146.2,135.8 145.9,137.2 145.7,136.6 145.5,136.6 145.2,136.3 145.0,136.9 144.7,136.4 144.5,136.3 144.2,135.8 144.0,135.6 143.8,136.1 143.5,135.5 143.3,135.1 143.0,136.0 142.8,136.2 142.5,135.0 142.3,135.4 142.1,135.8 141.8,135.7 141.6,135.8 141.3,135.1 141.1,134.9 140.8,134.5 140.6,135.2 140.4,134.7 140.1,135.6 139.9,135.5 139.6,135.1 139.4,135.3 139.1,135.1 138.9,135.3 138.7,135.4 138.4,135.5 138.2,134.7 137.9,135.3 137.7,133.5 137.4,135.0 137.2,134.4 137.0,133.4 136.7,134.5 136.5,134.9 136.2,134.3 136.0,134.0 135.7,135.1 135.5,135.1 135.3,134.8 135.0,134.3 134.8,134.5 134.5,134.6 134.3,135.5 134.0,135.7 133.8,133.8 133.6,133.9 133.3,134.1 133.1,133.2 132.8,134.0 132.6,135.0 132.3,133.7 132.1,132.8 131.9,132.7 131.6,133.3 131.4,133.5 131.1,132.8 130.9,133.1 130.6,132.7 130.4,132.9 130.2,133.7 129.9,133.5 129.7,133.8 129.4,133.7 129.2,133.1 128.9,133.3 128.7,133.0 128.5,133.6 128.2,133.4 128.0,133.0 127.7,133.2 127.5,133.0 127.2,132.9 127.0,133.2 126.8,132.1 126.5,132.1 126.3,132.5 126.0,131.9 125.8,133.4 125.5,132.7 125.3,132.5 125.1,133.6 124.8,132.6 124.6,132.1 124.3,131.4 124.1,132.7 123.8,133.1 123.6,132.4 123.4,131.8 123.1,131.9 122.9,130.1 122.6,130.9 122.4,131.7 122.1,131.8 121.9,131.8 121.7,131.3 121.4,130.8 121.2,131.2 120.9,131.1 120.7,131.5 120.4,131.1 120.2,131.8 120.0,131.6 119.7,130.6 119.5,130.7 119.2,130.4 119.0,130.5 118.7,130.3 118.5,130.5 118.3,130.2 118.0,130.2 117.8,130.3 117.5,129.7 117.3,130.1 117.0,130.0 116.8,130.5 116.6,130.3 116.3,130.2 116.1,129.5 115.8,130.1 115.6,129.3 115.3,128.7 115.1,130.0 114.9,129.4 114.6,128.6 114.4,129.5 114.1,128.9 113.9,129.2 113.6,128.8 113.4,129.6 113.2,129.8 112.9,129.4 112.7,129.2 112.4,128.7 112.2,129.2 111.9,128.2 111.7,128.2 111.5,128.5 111.2,128.6 111.0,129.0 110.7,127.8 110.5,128.5 110.3,127.9 110.0,127.6 109.8,128.1 109.5,128.4 109.3,127.1 109.0,128.0 108.8,127.9 108.6,127.4 108.3,127.3 108.1,126.1 107.8,127.3 107.6,126.8 107.3,128.4 107.1,127.9 106.9,127.5 106.6,127.8 106.4,126.5 106.1,126.4 105.9,126.5 105.6,127.4 105.4,126.6 105.2,126.2 104.9,126.6 104.7,126.3 104.4,126.3 104.2,125.3 103.9,125.3 103.7,125.2 103.5,125.4 103.2,125.2 103.0,125.4 102.7,125.6 102.5,124.6 102.2,125.7 102.0,124.6 101.8,123.9 101.5,125.4 101.3,125.0 101.0,125.5 100.8,125.8 100.5,125.1 100.3,125.3 100.1,125.0 99.8,124.9 99.6,125.0 99.3,124.8 99.1,124.2 98.8,124.4 98.6,124.4 98.4,123.7 98.1,125.3 97.9,123.9 97.6,124.4 97.4,123.9 97.1,123.3 96.9,123.5 96.7,123.1 96.4,124.6 96.2,124.0 95.9,124.0 95.7,123.3 95.4,124.1 95.2,124.3 95.0,123.5 94.7,123.1 94.5,122.6 94.2,122.2 94.0,123.6 93.7,122.0 93.5,122.5 93.3,122.0 93.0,122.4 92.8,122.6 92.5,122.6 92.3,122.7 92.0,121.4 91.8,121.6 91.6,122.0 91.3,122.0 91.1,121.2 90.8,121.4 90.6,122.2 90.3,122.3 90.1,121.4 89.9,120.5 89.6,120.8 89.4,120.4 89.1,119.6 88.9,121.1 88.6,121.0 88.4,120.9 88.2,120.0 87.9,120.9 87.7,119.1 87.4,120.1 87.2,120.0 86.9,119.3 86.7,120.4 86.5,118.7 86.2,119.4 86.0,118.1 85.7,118.7 85.5,118.6 85.2,118.6 85.0,119.0 84.8,118.8 84.5,118.6 84.3,118.5 84.0,118.5 83.8,118.1 83.5,118.2 83.3,117.6 83.1,117.3 82.8,116.7 82.6,116.5 82.3,116.4 82.1,116.2 81.8,116.7 81.6,117.6 81.4,116.3 81.1,116.9 80.9,116.3 80.6,116.4 80.4,116.1 80.1,116.4 79.9,115.8 79.7,115.8 79.4,114.9 79.2,114.6 78.9,115.2 78.7,115.1 78.4,114.1 78.2,113.2 78.0,113.8 77.7,113.3 77.5,113.0 77.2,113.7 77.0,114.0 76.7,113.7 76.5,113.9 76.3,113.8 76.0,113.6 75.8,114.4 75.5,113.5 75.3,113.5 75.0,112.7 74.8,112.3 74.6,112.0 74.3,112.4 74.1,111.6 73.8,111.5 73.6,110.9 73.3,110.8 73.1,110.4 72.9,110.7 72.6,111.5 72.4,109.8 72.1,111.6 71.9,110.6 71.6,110.9 71.4,110.1 71.2,110.1 70.9,109.6 70.7,109.1 70.4,109.1 70.2,108.9 69.9,107.7 69.7,108.8 69.5,107.7 69.2,107.4 69.0,107.5 68.7,107.5 68.5,107.3 68.2,106.9 68.0,107.0 67.8,105.8 67.5,106.6 67.3,106.1 67.0,105.6 66.8,105.5 66.5,106.2 66.3,105.3 66.1,105.1 65.8,103.7 65.6,103.4 65.3,103.0 65.1,102.6 64.8,101.6 64.6,101.2 64.4,101.3 64.1,100.6 63.9,101.1 63.6,100.6 63.4,101.1 63.1,98.8 62.9,99.8 62.7,98.5 62.4,99.5 62.2,98.6 61.9,98.4 61.7,97.1 61.5,96.1 61.2,96.0 61.0,95.5 60.7,94.3 60.5,94.1 60.2,92.8 60.0,91.2 59.8,90.7 59.5,90.1 59.3,88.6 59.2,88.9 59.2,88.4 59.2,88.7 59.2,89.0 59.1,87.9 59.1,87.0 59.1,88.1 59.0,88.4 59.0,87.5 59.0,87.9 59.0,88.3 58.9,87.0 58.9,87.2 58.9,86.6 58.9,87.3 58.8,87.0 58.8,86.2 58.8,86.4 58.8,86.9 58.7,87.9 58.7,86.9 58.7,87.4 58.6,88.3 58.6,86.9 58.6,87.5 58.6,87.5 58.5,87.3 58.5,87.0 58.5,86.7 58.5,86.5 58.4,86.7 58.4,86.8 58.4,85.8 58.4,85.1 58.3,85.8 58.3,85.6 58.3,85.1 58.2,85.0 58.2,86.0 58.2,85.1 58.2,85.8 58.1,85.1 58.1,85.3 58.1,84.1 58.1,84.6 58.0,84.7 58.0,83.6 58.0,83.2 57.9,84.3 57.9,84.5 57.9,84.0 57.9,83.4 57.8,83.6 57.8,83.7 57.8,82.8 57.8,83.8 57.7,82.9 57.7,83.4 57.7,84.1 57.7,83.1 57.6,82.6 57.6,82.4 57.6,82.5 57.5,82.7 57.5,83.1 57.5,82.4 57.5,83.9 57.4,82.6 57.4,82.2 57.4,82.3 57.4,80.9 57.3,81.5 57.3,81.4 57.3,81.1 57.2,81.6 57.2,80.9 57.2,80.7 57.2,81.1 57.1,81.1 57.1,80.3 57.1,79.6 57.1,80.0 57.0,80.6 57.0,79.5 57.0,79.2 57.0,78.9 56.9,79.6 56.9,79.3 56.9,79.2 56.8,79.2 56.8,78.2 56.8,78.3 56.8,79.0 56.7,79.2 56.7,77.9 56.7,77.9 56.7,77.9 56.6,77.4 56.6,78.6 56.6,78.3 56.5,76.8 56.5,78.1 56.5,78.1 56.5,77.0 56.4,76.5 56.4,77.7 56.4,75.7 56.4,76.1 56.3,75.5 56.3,74.9 56.3,75.6 56.3,74.5 56.2,75.8 56.2,74.9 56.2,76.0 56.1,74.9 56.1,74.5 56.1,74.2 56.1,75.0 56.0,75.7 56.0,74.8 56.0,75.2 56.0,74.2 55.9,74.7 55.9,73.9 55.9,73.9 55.8,74.7 55.8,75.2 55.8,73.6 55.8,74.0 55.7,73.2 55.7,73.6 55.7,73.5 55.7,73.9 55.6,74.1 55.6,73.4 55.6,72.8 55.6,72.3 55.5,71.7 55.5,72.9 55.5,72.5 55.4,72.2 55.4,71.9 55.4,70.8 55.4,71.4 55.3,70.2 55.3,69.4 55.3,71.0 55.3,70.9 55.2,69.8 55.2,69.4 55.2,69.9 55.1,69.0 55.1,69.2 55.1,69.3 55.1,69.0 55.0,68.5 55.0,69.3 55.0,68.5 55.0,68.6 54.9,68.7 54.9,69.1 54.9,68.9 54.9,68.4 54.8,67.1 54.8,68.0 54.8,67.9 54.7,67.4 54.7,67.9 54.7,67.3 54.7,66.2 54.6,66.4 54.6,66.4 54.6,66.8 54.6,66.5 54.5,66.2 54.5,65.7 54.5,66.1 54.4,66.0 54.4,64.8 54.4,63.7 54.4,64.2 54.3,64.0 54.3,64.0 54.3,62.7 54.3,63.8 54.2,63.6 54.2,63.6 54.2,63.0 54.2,63.2 54.1,62.4 54.1,62.3 54.1,62.9 54.0,62.2 54.0,61.4 54.0,62.5 54.0,60.7 53.9,61.0 53.9,61.0 53.9,61.2 53.9,61.6 53.8,60.3 53.8,59.6 53.8,60.5 53.7,59.5 53.7,58.9 53.7,58.7 53.7,59.5 53.6,58.1 53.6,58.3 53.6,58.8 53.6,58.3 53.5,57.6 53.5,58.0 53.5,58.0 53.5,58.1 53.4,57.5 53.4,56.2 53.4,56.2 53.3,57.3 53.3,56.4 53.3,55.6 53.3,56.6 53.2,55.5 53.2,56.2 53.2,54.7 53.2,54.8 53.1,55.1 53.1,54.7 53.1,54.4 53.0,53.6 53.0,53.7 53.0,53.0 53.0,52.9 52.9,52.7 52.9,52.4 52.9,51.6 52.9,52.7 52.8,51.3 52.8,51.3 52.8,50.7 52.8,50.3 52.7,50.2 52.7,49.8 52.7,49.3 52.6,49.8 52.6,49.2 52.6,48.9 52.6,48.6 52.5,48.6 52.5,48.4 52.5,47.3 52.5,47.4 52.4,47.3 52.4,47.4 52.4,46.5 52.4,46.4 52.3,46.5 52.3,46.1 52.3,46.8 52.2,45.2 52.2,45.2 52.2,45.0 52.2,44.2 52.1,43.2 52.1,43.5 52.1,43.2 52.1,42.8 52.0,42.1 52.0,42.4 52.0,42.4 51.9,41.9 51.9,42.3 51.9,41.5 51.9,42.2 51.8,42.3 51.8,40.2 51.8,41.0 51.8,40.6 51.7,40.6 51.7,40.0 51.7,40.9 51.7,39.3 51.6,39.3 51.6,38.9 51.6,38.6 51.5,37.8 51.5,38.0 51.5,37.9 51.5,36.7 51.4,37.2 51.4,37.0 51.4,36.6 51.4,35.6 51.3,35.5 51.3,36.0 51.3,34.7 51.2,35.2 51.2,34.5"/></g><g stroke="#3a3a3a" stroke-width="1.2"><rect x="51.0" y="8.9" width="275.5" height="222.9" fill="none"/><line x1="51.00" y1="231.80" x2="51.00" y2="227.60"/><line x1="51.00" y1="8.90" x2="51.00" y2="13.10"/><line x1="64.78" y1="231.80" x2="64.78" y2="229.60"/><line x1="64.78" y1="8.90" x2="64.78" y2="11.10"/><line x1="78.55" y1="231.80" x2="78.55" y2="227.60"/><line x1="78.55" y1="8.90" x2="78.55" y2="13.10"/><line x1="92.33" y1="231.80" x2="92.33" y2="229.60"/><line x1="92.33" y1="8.90" x2="92.33" y2="11.10"/><line x1="106.10" y1="231.80" x2="106.10" y2="227.60"/><line x1="106.10" y1="8.90" x2="106.10" y2="13.10"/><line x1="119.88" y1="231.80" x2="119.88" y2="229.60"/><line x1="119.88" y1="8.90" x2="119.88" y2="11.10"/><line x1="133.65" y1="231.80" x2="133.65" y2="227.60"/><line x1="133.65" y1="8.90" x2="133.65" y2="13.10"/><line x1="147.43" y1="231.80" x2="147.43" y2="229.60"/><line x1="147.43" y1="8.90" x2="147.43" y2="11.10"/><line x1="161.20" y1="231.80" x2="161.20" y2="227.60"/><line x1="161.20" y1="8.90" x2="161.20" y2="13.10"/><line x1="174.97" y1="231.80" x2="174.97" y2="229.60"/><line x1="174.97" y1="8.90" x2="174.97" y2="11.10"/><line x1="188.75" y1="231.80" x2="188.75" y2="227.60"/><line x1="188.75" y1="8.90" x2="188.75" y2="13.10"/><line x1="202.53" y1="231.80" x2="202.53" y2="229.60"/><line x1="202.53" y1="8.90" x2="202.53" y2="11.10"/><line x1="216.30" y1="231.80" x2="216.30" y2="227.60"/><line x1="216.30" y1="8.90" x2="216.30" y2="13.10"/><line x1="230.07" y1="231.80" x2="230.07" y2="229.60"/><line x1="230.07" y1="8.90" x2="230.07" y2="11.10"/><line x1="243.85" y1="231.80" x2="243.85" y2="227.60"/><line x1="243.85" y1="8.90" x2="243.85" y2="13.10"/><line x1="257.62" y1="231.80" x2="257.62" y2="229.60"/><line x1="257.62" y1="8.90" x2="257.62" y2="11.10"/><line x1="271.40" y1="231.80" x2="271.40" y2="227.60"/><line x1="271.40" y1="8.90" x2="271.40" y2="13.10"/><line x1="285.18" y1="231.80" x2="285.18" y2="229.60"/><line x1="285.18" y1="8.90" x2="285.18" y2="11.10"/><line x1="298.95" y1="231.80" x2="298.95" y2="227.60"/><line x1="298.95" y1="8.90" x2="298.95" y2="13.10"/><line x1="312.73" y1="231.80" x2="312.73" y2="229.60"/><line x1="312.73" y1="8.90" x2="312.73" y2="11.10"/><line x1="326.50" y1="231.80" x2="326.50" y2="227.60"/><line x1="326.50" y1="8.90" x2="326.50" y2="13.10"/><line x1="51.00" y1="231.80" x2="55.20" y2="231.80"/><line x1="326.50" y1="231.80" x2="322.30" y2="231.80"/><line x1="51.00" y1="209.51" x2="53.20" y2="209.51"/><line x1="326.50" y1="209.51" x2="324.30" y2="209.51"/><line x1="51.00" y1="187.22" x2="55.20" y2="187.22"/><line x1="326.50" y1="187.22" x2="322.30" y2="187.22"/><line x1="51.00" y1="164.93" x2="53.20" y2="164.93"/><line x1="326.50" y1="164.93" x2="324.30" y2="164.93"/><line x1="51.00" y1="142.64" x2="55.20" y2="142.64"/><line x1="326.50" y1="142.64" x2="322.30" y2="142.64"/><line x1="51.00" y1="120.35" x2="53.20" y2="120.35"/><line x1="326.50" y1="120.35" x2="324.30" y2="120.35"/><line x1="51.00" y1="98.06" x2="55.20" y2="98.06"/><line x1="326.50" y1="98.06" x2="322.30" y2="98.06"/><line x1="51.00" y1="75.77" x2="53.20" y2="75.77"/><line x1="326.50" y1="75.77" x2="324.30" y2="75.77"/><line x1="51.00" y1="53.48" x2="55.20" y2="53.48"/><line x1="326.50" y1="53.48" x2="322.30" y2="53.48"/><line x1="51.00" y1="31.19" x2="53.20" y2="31.19"/><line x1="326.50" y1="31.19" x2="324.30" y2="31.19"/><line x1="51.00" y1="8.90" x2="55.20" y2="8.90"/><line x1="326.50" y1="8.90" x2="322.30" y2="8.90"/></g><g font-family="Liberation Sans, sans-serif" fill="#000" stroke="#000" stroke-width="0.2"><text x="51.00" y="247.60" font-size="13.8" text-anchor="middle">0</text><text x="78.55" y="247.60" font-size="13.8" text-anchor="middle">1</text><text x="106.10" y="247.60" font-size="13.8" text-anchor="middle">2</text><text x="133.65" y="247.60" font-size="13.8" text-anchor="middle">3</text><text x="161.20" y="247.60" font-size="13.8" text-anchor="middle">4</text><text x="188.75" y="247.60" font-size="13.8" text-anchor="middle">5</text><text x="216.30" y="247.60" font-size="13.8" text-anchor="middle">6</text><text x="243.85" y="247.60" font-size="13.8" text-anchor="middle">7</text><text x="271.40" y="247.60" font-size="13.8" text-anchor="middle">8</text><text x="298.95" y="247.60" font-size="13.8" text-anchor="middle">9</text><text x="326.50" y="247.60" font-size="13.8" text-anchor="middle">10</text><text x="45.40" y="236.70" font-size="13.8" text-anchor="end">0.0</text><text x="45.40" y="192.12" font-size="13.8" text-anchor="end">0.5</text><text x="45.40" y="147.54" font-size="13.8" text-anchor="end">1.0</text><text x="45.40" y="102.96" font-size="13.8" text-anchor="end">1.5</text><text x="45.40" y="58.38" font-size="13.8" text-anchor="end">2.0</text><text x="45.40" y="13.80" font-size="13.8" text-anchor="end">2.5</text><text x="187.00" y="269.40" font-size="17.3" text-anchor="middle">Time / s</text><text transform="translate(18.0,121) rotate(-90)" font-size="18.4" text-anchor="middle">Current / nA</text><text x="56.80" y="31.10" font-size="20.2">A</text></g><g><polyline fill="none" stroke="#b8b8b8" stroke-width="0.75" points="91.9,413.0 92.0,332.8 92.2,408 92.8,412.5"/><polyline fill="none" stroke="#5eb3b3" stroke-width="0.75" points="199.3,359.0 199.4,290.3 199.6,352 200.4,358.5"/><polyline fill="none" stroke="#fbdc94" stroke-width="0.8" points="231.0,439.3 231.3,408.7 231.7,433 232.5,438.8"/><line x1="224.90" y1="436.00" x2="224.90" y2="439.50" stroke="#f9d27a" stroke-width="0.8"/><line x1="264.20" y1="432.00" x2="264.20" y2="439.50" stroke="#f9d27a" stroke-width="0.8"/><line x1="268.30" y1="432.50" x2="268.30" y2="439.50" stroke="#f9d27a" stroke-width="0.8"/><polyline fill="none" stroke="#f8b612" stroke-width="2.0" stroke-linejoin="round" points="51.5,439.8 51.7,438.9 51.9,440.3 52.2,439.7 52.4,439.2 52.6,439.5 52.8,440.0 53.0,439.8 53.3,440.2 53.5,440.7 53.7,439.8 53.9,438.9 54.1,440.1 54.4,440.0 54.6,440.0 54.8,439.7 55.0,439.0 55.2,439.8 55.5,440.1 55.7,439.9 55.9,440.8 56.1,441.0 56.3,438.9 56.6,441.2 56.8,439.3 57.0,439.7 57.2,441.7 57.4,441.0 57.7,440.5 57.9,439.3 58.1,439.9 58.3,440.2 58.5,439.4 58.8,440.1 59.0,439.0 59.2,440.7 59.4,439.8 59.6,439.4 59.9,440.8 60.1,440.4 60.3,440.7 60.5,438.8 60.7,439.3 61.0,439.6 61.2,438.6 61.4,439.5 61.6,439.4 61.8,439.2 62.1,439.3 62.3,438.4 62.5,439.7 62.7,440.0 62.9,438.5 63.2,438.6 63.4,439.2 63.6,438.6 63.8,438.7 64.0,438.9 64.3,438.3 64.5,438.2 64.7,439.8 64.9,438.5 65.1,439.6 65.4,438.4 65.6,439.3 65.8,438.7 66.0,438.1 66.2,439.3 66.5,439.0 66.7,438.8 66.9,440.6 67.1,440.3 67.3,438.5 67.6,439.2 67.8,439.1 68.0,438.8 68.2,439.5 68.4,439.6 68.7,439.8 68.9,438.3 69.1,439.4 69.3,439.9 69.5,437.9 69.8,438.9 70.0,438.7 70.2,439.7 70.4,438.4 70.6,439.1 70.9,439.2 71.1,438.8 71.3,439.2 71.5,438.4 71.7,438.4 72.0,438.5 72.2,439.6 72.4,440.0 72.6,439.1 72.8,439.1 73.1,438.3 73.3,438.4 73.5,439.3 73.7,439.9 73.9,439.0 74.2,438.9 74.4,439.0 74.6,439.7 74.8,440.1 75.0,439.4 75.3,439.1 75.5,439.3 75.7,438.8 75.9,439.2 76.1,439.9 76.4,439.4 76.6,438.1 76.8,440.3 77.0,440.9 77.2,438.2 77.5,438.8 77.7,439.4 77.9,439.8 78.1,437.9 78.3,440.0 78.6,439.7 78.8,439.4 79.0,438.9 79.2,437.8 79.4,439.0 79.7,438.3 79.9,439.1 80.1,438.6 80.3,438.1 80.5,440.2 80.8,440.6 81.0,438.1 81.2,439.0 81.4,438.2 81.6,439.2 81.9,438.2 82.1,439.1 82.3,438.5 82.5,439.3 82.7,437.7 83.0,439.1 83.2,438.9 83.4,439.0 83.6,438.9 83.8,439.8 84.1,439.7 84.3,438.6 84.5,439.0 84.7,438.5 84.9,438.7 85.2,440.2 85.4,438.5 85.6,439.8 85.8,440.2 86.0,439.5 86.3,439.8 86.5,438.5 86.7,438.9 86.9,438.7 87.1,440.0 87.4,439.0 87.6,438.6 87.8,439.0 88.0,439.7 88.2,438.4 88.5,439.6 88.7,439.2 88.9,438.9 89.1,439.3 89.3,438.7 89.6,438.5 89.8,438.3 90.0,439.5 90.2,438.4 90.4,439.0 90.7,438.9 90.9,440.1 91.1,438.0 91.3,439.4 91.5,439.7 91.8,439.9 92.0,439.6 92.2,440.1 92.4,439.5 92.6,439.2 92.9,439.6 93.1,439.6 93.3,439.5 93.5,439.6 93.7,440.0 94.0,440.2 94.2,438.7 94.4,438.7 94.6,440.5 94.8,439.1 95.1,438.0 95.3,439.1 95.5,439.5 95.7,439.9 95.9,439.5 96.2,439.8 96.4,439.6 96.6,440.2 96.8,438.6 97.0,439.4 97.3,439.7 97.5,439.5 97.7,440.4 97.9,439.0 98.1,440.5 98.4,440.1 98.6,438.9 98.8,439.4 99.0,439.3 99.2,438.0 99.5,439.3 99.7,438.8 99.9,438.7 100.1,437.9 100.3,439.3 100.6,440.0 100.8,440.0 101.0,440.0 101.2,439.5 101.4,439.8 101.7,438.5 101.9,439.1 102.1,439.3 102.3,439.4 102.5,439.1 102.8,439.3 103.0,440.0 103.2,438.7 103.4,439.9 103.6,439.6 103.9,439.9 104.1,439.8 104.3,439.9 104.5,439.5 104.7,440.4 105.0,440.3 105.2,439.9 105.4,439.1 105.6,439.4 105.8,439.8 106.1,440.8 106.3,440.1 106.5,439.8 106.7,440.3 106.9,438.8 107.2,440.0 107.4,438.0 107.6,439.3 107.8,439.8 108.0,438.8 108.3,438.4 108.5,438.9 108.7,439.9 108.9,439.8 109.1,439.7 109.4,439.3 109.6,440.1 109.8,439.8 110.0,439.2 110.2,439.6 110.5,440.7 110.7,439.2 110.9,438.7 111.1,438.6 111.3,438.2 111.6,438.6 111.8,440.1 112.0,439.7 112.2,439.5 112.4,439.6 112.7,438.8 112.9,438.9 113.1,439.2 113.3,440.0 113.5,438.9 113.8,438.5 114.0,438.9 114.2,440.3 114.4,439.4 114.6,438.6 114.9,439.6 115.1,439.8 115.3,438.8 115.5,438.8 115.7,438.5 116.0,438.1 116.2,438.8 116.4,439.6 116.6,439.6 116.8,439.1 117.1,438.2 117.3,439.3 117.5,439.9 117.7,440.1 117.9,439.1 118.2,438.9 118.4,439.9 118.6,439.3 118.8,440.1 119.0,439.7 119.3,439.8 119.5,439.1 119.7,438.4 119.9,439.5 120.1,439.1 120.4,439.5 120.6,439.0 120.8,439.6 121.0,438.8 121.2,439.3 121.5,439.8 121.7,440.0 121.9,438.3 122.1,439.3 122.3,439.3 122.6,439.2 122.8,439.0 123.0,439.1 123.2,438.8 123.4,439.4 123.7,440.0 123.9,438.1 124.1,440.1 124.3,438.4 124.5,438.9 124.8,438.5 125.0,439.5 125.2,438.9 125.4,439.4 125.6,437.9 125.9,439.1 126.1,439.4 126.3,438.9 126.5,438.1 126.7,438.6 127.0,439.6 127.2,439.2 127.4,439.5 127.6,438.4 127.8,439.0 128.1,438.6 128.3,438.9 128.5,438.4 128.7,438.4 128.9,439.6 129.2,438.1 129.4,439.2 129.6,438.6 129.8,438.4 130.0,439.1 130.3,438.9 130.5,439.7 130.7,440.2 130.9,439.4 131.1,438.6 131.4,438.7 131.6,438.1 131.8,439.0 132.0,438.7 132.2,440.4 132.5,438.7 132.7,438.7 132.9,438.5 133.1,439.0 133.3,438.7 133.6,438.0 133.8,439.8 134.0,439.4 134.2,440.1 134.4,439.6 134.7,439.1 134.9,439.7 135.1,439.1 135.3,440.0 135.5,439.4 135.8,439.6 136.0,438.4 136.2,439.1 136.4,439.4 136.6,439.1 136.9,439.1 137.1,439.8 137.3,439.8 137.5,438.4 137.7,439.2 138.0,439.5 138.2,440.4 138.4,439.5 138.6,439.0 138.8,439.3 139.1,440.0 139.3,437.8 139.5,439.9 139.7,439.9 139.9,439.1 140.2,439.6 140.4,438.5 140.6,438.3 140.8,437.9 141.0,438.6 141.3,439.1 141.5,438.9 141.7,438.0 141.9,438.9 142.1,439.4 142.4,439.4 142.6,439.9 142.8,438.3 143.0,439.2 143.2,439.0 143.5,439.1 143.7,438.7 143.9,439.1 144.1,438.3 144.3,438.8 144.6,439.7 144.8,438.7 145.0,439.0 145.2,439.5 145.4,439.8 145.7,440.2 145.9,439.1 146.1,439.5 146.3,438.9 146.5,439.8 146.8,439.5 147.0,439.8 147.2,439.0 147.4,440.0 147.6,438.9 147.9,438.9 148.1,439.3 148.3,439.0 148.5,439.9 148.7,439.8 149.0,439.4 149.2,440.3 149.4,440.1 149.6,439.5 149.8,439.3 150.1,439.0 150.3,439.8 150.5,439.6 150.7,439.7 150.9,439.6 151.2,439.6 151.4,439.0 151.6,439.7 151.8,439.4 152.0,438.0 152.3,439.1 152.5,440.1 152.7,439.6 152.9,439.1 153.1,438.9 153.4,439.6 153.6,439.2 153.8,438.4 154.0,438.4 154.2,440.4 154.5,438.9 154.7,439.1 154.9,439.1 155.1,439.2 155.3,439.5 155.6,439.1 155.8,438.8 156.0,438.9 156.2,438.9 156.4,439.9 156.7,439.9 156.9,439.3 157.1,440.0 157.3,438.6 157.5,438.6 157.8,437.6 158.0,439.5 158.2,439.4 158.4,438.4 158.6,439.6 158.9,439.0 159.1,439.3 159.3,439.8 159.5,439.6 159.7,439.1 160.0,438.9 160.2,439.6 160.4,438.4 160.6,439.3 160.8,439.8 161.1,440.1 161.3,438.4 161.5,439.7 161.7,439.2 161.9,439.2 162.2,439.7 162.4,439.4 162.6,437.7 162.8,439.8 163.0,438.8 163.3,439.8 163.5,439.1 163.7,439.1 163.9,439.5 164.1,439.7 164.4,438.9 164.6,440.2 164.8,439.1 165.0,439.7 165.2,440.6 165.5,439.3 165.7,439.7 165.9,439.8 166.1,439.9 166.3,439.9 166.6,439.5 166.8,439.4 167.0,439.5 167.2,439.1 167.4,438.2 167.7,439.7 167.9,439.5 168.1,441.0 168.3,439.2 168.5,438.7 168.8,439.0 169.0,439.1 169.2,439.8 169.4,439.2 169.6,439.7 169.9,439.1 170.1,439.0 170.3,439.4 170.5,439.4 170.7,438.6 171.0,439.7 171.2,439.2 171.4,440.5 171.6,439.3 171.8,439.6 172.1,438.8 172.3,439.7 172.5,439.0 172.7,439.5 172.9,440.1 173.2,438.8 173.4,438.3 173.6,439.3 173.8,439.6 174.0,439.8 174.3,440.3 174.5,439.4 174.7,439.4 174.9,438.8 175.1,439.6 175.4,440.0 175.6,439.3 175.8,439.8 176.0,439.0 176.2,439.0 176.5,439.9 176.7,439.9 176.9,439.4 177.1,438.9 177.3,439.6 177.6,438.8 177.8,439.9 178.0,439.3 178.2,438.9 178.4,439.4 178.7,440.8 178.9,439.8 179.1,439.8 179.3,438.7 179.5,439.7 179.8,438.3 180.0,438.9 180.2,439.4 180.4,440.5 180.6,438.7 180.9,439.5 181.1,439.1 181.3,438.1 181.5,439.5 181.7,440.6 182.0,439.6 182.2,438.7 182.4,439.2 182.6,439.6 182.8,438.8 183.1,439.5 183.3,439.0 183.5,439.5 183.7,439.3 183.9,439.6 184.2,439.9 184.4,439.1 184.6,440.4 184.8,438.9 185.0,439.8 185.3,440.7 185.5,440.3 185.7,439.3 185.9,439.7 186.1,438.9 186.4,439.6 186.6,438.7 186.8,439.9 187.0,439.5 187.2,438.9 187.5,439.8 187.7,438.9 187.9,439.4 188.1,438.9 188.3,439.0 188.6,439.9 188.8,440.4 189.0,440.4 189.2,440.0 189.4,439.5 189.7,439.9 189.9,439.4 190.1,439.4 190.3,439.3 190.5,439.9 190.8,439.6 191.0,438.7 191.2,439.6 191.4,440.1 191.6,439.7 191.9,439.0 192.1,439.3 192.3,439.3 192.5,439.9 192.7,439.9 193.0,439.3 193.2,440.2 193.4,438.7 193.6,438.6 193.8,440.2 194.1,438.6 194.3,440.6 194.5,439.9 194.7,439.8 194.9,440.5 195.2,441.1 195.4,440.0 195.6,440.3 195.8,439.4 196.0,439.4 196.3,439.2 196.5,440.8 196.7,439.8 196.9,440.8 197.1,439.3 197.4,439.4 197.6,440.0 197.8,440.5 198.0,439.4 198.2,439.7 198.5,439.6 198.7,441.0 198.9,440.2 199.1,440.2 199.3,439.4 199.6,439.7 199.8,439.3 200.0,441.2 200.2,439.7 200.4,438.5 200.7,438.9 200.9,438.3 201.1,438.8 201.3,438.5 201.5,440.1 201.8,439.3 202.0,438.6 202.2,440.6 202.4,439.0 202.6,440.3 202.9,439.3 203.1,439.6 203.3,439.8 203.5,440.4 203.7,439.5 204.0,440.3 204.2,438.8 204.4,440.6 204.6,439.6 204.8,439.5 205.1,439.3 205.3,439.7 205.5,440.0 205.7,439.8 205.9,439.0 206.2,441.0 206.4,439.5 206.6,439.3 206.8,439.3 207.0,440.2 207.3,439.2 207.5,439.5 207.7,440.6 207.9,440.1 208.1,439.6 208.4,439.0 208.6,439.5 208.8,439.9 209.0,439.0 209.2,439.1 209.5,440.0 209.7,439.4 209.9,440.4 210.1,438.7 210.3,439.3 210.6,439.0 210.8,439.7 211.0,439.1 211.2,440.1 211.4,440.7 211.7,439.4 211.9,439.7 212.1,439.1 212.3,440.1 212.5,439.0 212.8,439.4 213.0,439.7 213.2,438.8 213.4,439.8 213.6,439.2 213.9,439.4 214.1,438.9 214.3,438.4 214.5,439.4 214.7,438.9 215.0,439.0 215.2,438.6 215.4,439.1 215.6,438.5 215.8,438.9 216.1,439.7 216.3,438.6 216.5,439.1 216.7,438.8 216.9,439.3 217.2,439.0 217.4,439.7 217.6,438.8 217.8,438.9 218.0,440.0 218.3,439.2 218.5,440.2 218.7,439.1 218.9,438.5 219.1,439.0 219.4,439.2 219.6,439.0 219.8,438.3 220.0,438.1 220.2,440.1 220.5,438.6 220.7,439.2 220.9,439.5 221.1,439.4 221.3,436.9 221.6,437.9 221.8,438.1 222.0,439.3 222.2,438.7 222.4,438.3 222.7,439.5 222.9,439.5 223.1,439.1 223.3,438.4 223.5,439.4 223.8,438.7 224.0,439.2 224.2,439.5 224.4,439.4 224.6,439.2 224.9,439.3 225.1,439.7 225.3,439.4 225.5,437.6 225.7,438.5 226.0,439.0 226.2,439.6 226.4,438.7 226.6,438.6 226.8,439.4 227.1,438.6 227.3,439.6 227.5,438.8 227.7,439.3 227.9,439.5 228.2,439.7 228.4,440.0 228.6,439.2 228.8,438.7 229.0,439.1 229.3,440.3 229.5,439.8 229.7,438.6 229.9,438.6 230.1,439.3 230.4,438.5 230.6,438.5 230.8,440.1 231.0,440.0 231.2,439.9 231.5,440.3 231.7,438.1 231.9,439.5 232.1,439.0 232.3,439.9 232.6,438.7 232.8,439.6 233.0,439.8 233.2,439.9 233.4,440.3 233.7,440.3 233.9,439.5 234.1,438.5 234.3,439.7 234.5,440.4 234.8,440.3 235.0,438.4 235.2,439.0 235.4,439.9 235.6,439.9 235.9,439.5 236.1,439.5 236.3,438.9 236.5,439.9 236.7,440.7 237.0,439.7 237.2,438.7 237.4,439.2 237.6,440.0 237.8,440.1 238.1,439.4 238.3,439.3 238.5,439.8 238.7,439.9 238.9,439.7 239.2,439.6 239.4,439.5 239.6,439.1 239.8,438.4 240.0,438.8 240.3,439.3 240.5,440.0 240.7,438.8 240.9,440.7 241.1,439.6 241.4,439.1 241.6,440.1 241.8,440.5 242.0,440.6 242.2,440.2 242.5,440.0 242.7,439.5 242.9,439.8 243.1,439.9 243.3,439.4 243.6,439.9 243.8,438.5 244.0,439.3 244.2,439.4 244.4,439.7 244.7,440.0 244.9,440.0 245.1,440.0 245.3,438.8 245.5,440.9 245.8,439.2 246.0,440.3 246.2,439.9 246.4,439.8 246.6,439.7 246.9,439.8 247.1,438.9 247.3,439.6 247.5,441.1 247.7,440.3 248.0,439.6 248.2,439.7 248.4,439.5 248.6,439.8 248.8,440.7 249.1,440.3 249.3,439.7 249.5,438.8 249.7,441.0 249.9,440.5 250.2,439.8 250.4,440.1 250.6,439.5 250.8,439.3 251.0,441.2 251.3,438.4 251.5,439.6 251.7,440.0 251.9,440.0 252.1,439.7 252.4,439.7 252.6,440.0 252.8,439.1 253.0,439.1 253.2,440.2 253.5,439.4 253.7,440.3 253.9,440.6 254.1,440.7 254.3,440.6 254.6,439.3 254.8,439.8 255.0,439.7 255.2,440.3 255.4,439.4 255.7,440.2 255.9,439.6 256.1,440.2 256.3,439.5 256.5,439.5 256.8,438.7 257.0,439.1 257.2,440.4 257.4,440.4 257.6,438.0 257.9,440.8 258.1,440.3 258.3,438.9 258.5,439.8 258.7,439.9 259.0,437.9 259.2,439.3 259.4,439.5 259.6,439.3 259.8,438.4 260.1,439.2 260.3,439.6 260.5,439.6 260.7,438.7 260.9,440.7 261.2,438.5 261.4,438.8 261.6,439.5 261.8,438.8 262.0,438.7 262.3,438.7 262.5,439.0 262.7,440.5 262.9,438.9 263.1,438.8 263.4,438.5 263.6,439.4 263.8,439.7 264.0,438.8 264.2,439.0 264.5,439.5 264.7,438.8 264.9,438.7 265.1,439.8 265.3,440.1 265.6,439.1 265.8,438.0 266.0,439.5 266.2,438.3 266.4,440.5 266.7,439.5 266.9,439.8 267.1,439.6 267.3,440.0 267.5,439.8 267.8,439.6 268.0,439.6 268.2,438.4 268.4,439.8 268.6,439.4 268.9,439.7 269.1,440.1 269.3,439.0 269.5,439.0 269.7,440.0 270.0,439.2 270.2,439.4 270.4,439.4 270.6,440.2 270.8,439.6 271.1,439.8 271.3,440.4 271.5,439.9 271.7,439.9 271.9,439.5 272.2,439.2 272.4,438.6 272.6,439.2 272.8,440.0 273.0,440.4 273.3,439.0 273.5,439.4 273.7,439.8 273.9,439.5 274.1,439.1 274.4,437.9 274.6,439.0 274.8,438.8 275.0,439.0 275.2,439.0 275.5,438.8 275.7,439.4 275.9,438.8 276.1,438.5 276.3,439.5 276.6,439.1 276.8,439.3 277.0,439.8 277.2,438.2 277.4,438.9 277.7,438.3 277.9,439.2 278.1,438.2 278.3,437.5 278.5,439.8 278.8,438.5 279.0,438.7 279.2,439.3 279.4,439.6 279.6,439.2 279.9,438.9 280.1,440.3 280.3,439.1 280.5,438.6 280.7,439.3 281.0,438.9 281.2,439.5 281.4,438.8 281.6,439.7 281.8,438.6 282.1,439.8 282.3,440.1 282.5,439.8 282.7,439.8 282.9,441.2 283.2,439.9 283.4,439.4 283.6,439.9 283.8,440.7 284.0,439.5 284.3,438.7 284.5,439.5 284.7,438.9 284.9,439.3 285.1,438.5 285.4,440.4 285.6,439.5 285.8,440.0 286.0,439.7 286.2,440.1 286.5,439.6 286.7,439.5 286.9,439.2 287.1,439.4 287.3,440.3 287.6,440.2 287.8,439.3 288.0,438.6 288.2,440.2 288.4,439.3 288.7,439.3 288.9,439.5 289.1,440.1 289.3,439.7 289.5,439.4 289.8,438.7 290.0,439.6 290.2,440.1 290.4,439.4 290.6,439.7 290.9,439.2 291.1,439.0 291.3,439.1 291.5,439.1 291.7,440.6 292.0,439.3 292.2,439.2 292.4,439.2 292.6,439.2 292.8,439.3 293.1,439.7 293.3,439.7 293.5,439.5 293.7,438.3 293.9,440.0 294.2,439.6 294.4,440.3 294.6,437.9 294.8,439.9 295.0,438.1 295.3,439.4 295.5,439.1 295.7,439.8 295.9,438.0 296.1,439.7 296.4,438.4 296.6,439.2 296.8,439.2 297.0,439.8 297.2,439.0 297.5,439.4 297.7,438.9 297.9,439.1 298.1,438.8 298.3,439.5 298.6,438.8 298.8,438.6 299.0,439.8 299.2,439.8 299.4,440.5 299.7,439.6 299.9,440.1 300.1,439.3 300.3,440.3 300.5,440.6 300.8,440.6 301.0,438.6 301.2,439.0 301.4,438.5 301.6,440.3 301.9,440.4 302.1,439.5 302.3,439.3 302.5,439.3 302.7,439.2 303.0,439.5 303.2,439.4 303.4,440.4 303.6,441.0 303.8,439.7 304.1,440.3 304.3,440.8 304.5,440.7 304.7,439.8 304.9,440.1 305.2,440.5 305.4,440.4 305.6,440.4 305.8,439.1 306.0,439.5 306.3,440.0 306.5,439.4 306.7,440.7 306.9,441.1 307.1,439.1 307.4,439.4 307.6,439.7 307.8,439.7 308.0,440.1 308.2,440.7 308.5,439.1 308.7,439.4 308.9,439.8 309.1,438.8 309.3,439.5 309.6,438.3 309.8,439.4 310.0,439.1 310.2,439.4 310.4,438.6 310.7,438.7 310.9,438.7 311.1,438.1 311.3,437.7 311.5,438.2 311.8,439.2 312.0,438.8 312.2,439.0 312.4,439.0 312.6,439.9 312.9,438.6 313.1,438.7 313.3,439.3 313.5,438.9 313.7,439.0 314.0,439.2 314.2,438.3 314.4,438.2 314.6,438.5 314.8,439.3 315.1,440.3 315.3,438.1 315.5,439.0 315.7,437.5 315.9,438.5 316.2,438.8 316.4,438.7 316.6,437.9 316.8,438.5 317.0,439.7 317.3,438.8 317.5,438.3 317.7,439.0 317.9,438.4 318.1,438.6 318.4,438.8 318.6,438.9 318.8,438.7 319.0,439.2 319.2,437.9 319.5,438.2 319.7,439.5 319.9,438.7 320.1,438.9 320.3,438.7 320.6,438.7 320.8,438.2 321.0,439.0 321.2,438.9 321.4,438.5 321.7,439.0 321.9,439.6 322.1,437.9 322.3,439.6 322.5,438.7 322.8,438.8 323.0,439.3 323.2,439.6 323.4,439.3 323.6,439.7 323.9,438.6 324.1,438.6 324.3,438.8 324.5,439.4 324.7,438.9 325.0,438.9 325.2,439.9 325.4,439.3"/><polyline fill="none" stroke="#7a7a7a" stroke-width="2.0" stroke-linejoin="round" points="51.5,412.6 51.7,412.5 51.9,412.1 52.2,412.8 52.4,412.8 52.6,413.3 52.8,412.6 53.0,412.0 53.3,412.3 53.5,412.7 53.7,412.5 53.9,413.1 54.1,413.6 54.4,413.0 54.6,413.0 54.8,413.1 55.0,412.5 55.2,412.6 55.5,413.1 55.7,413.0 55.9,411.7 56.1,412.5 56.3,412.5 56.6,412.8 56.8,413.5 57.0,413.5 57.2,412.1 57.4,413.4 57.7,412.2 57.9,413.1 58.1,412.8 58.3,412.6 58.5,412.0 58.8,413.0 59.0,412.8 59.2,411.4 59.4,413.2 59.6,412.4 59.9,412.9 60.1,412.0 60.3,412.5 60.5,412.4 60.7,410.7 61.0,413.4 61.2,412.9 61.4,412.4 61.6,413.7 61.8,413.5 62.1,413.3 62.3,411.8 62.5,413.9 62.7,412.9 62.9,413.6 63.2,412.0 63.4,412.4 63.6,412.0 63.8,412.2 64.0,412.1 64.3,412.1 64.5,413.3 64.7,412.6 64.9,412.4 65.1,411.5 65.4,412.8 65.6,412.0 65.8,413.2 66.0,412.3 66.2,413.0 66.5,412.5 66.7,412.2 66.9,411.9 67.1,413.3 67.3,413.0 67.6,412.3 67.8,413.1 68.0,413.6 68.2,413.0 68.4,413.4 68.7,412.7 68.9,411.7 69.1,412.1 69.3,412.6 69.5,413.0 69.8,413.3 70.0,413.9 70.2,412.7 70.4,412.7 70.6,413.2 70.9,412.9 71.1,412.5 71.3,412.7 71.5,413.5 71.7,412.5 72.0,411.6 72.2,413.6 72.4,412.7 72.6,413.5 72.8,412.4 73.1,411.4 73.3,412.2 73.5,411.7 73.7,412.8 73.9,412.7 74.2,412.4 74.4,413.7 74.6,412.0 74.8,412.0 75.0,412.8 75.3,413.1 75.5,412.8 75.7,412.3 75.9,413.3 76.1,411.4 76.4,411.8 76.6,412.3 76.8,411.4 77.0,412.4 77.2,412.2 77.5,412.3 77.7,412.6 77.9,412.9 78.1,412.7 78.3,412.6 78.6,411.6 78.8,412.5 79.0,412.1 79.2,412.3 79.4,411.2 79.7,412.0 79.9,412.5 80.1,413.4 80.3,411.9 80.5,411.5 80.8,412.6 81.0,413.6 81.2,412.9 81.4,412.3 81.6,412.7 81.9,412.1 82.1,412.8 82.3,412.5 82.5,413.8 82.7,412.1 83.0,412.8 83.2,412.7 83.4,412.4 83.6,412.5 83.8,413.7 84.1,411.5 84.3,412.4 84.5,412.8 84.7,411.7 84.9,411.5 85.2,411.2 85.4,413.4 85.6,412.5 85.8,411.9 86.0,411.8 86.3,411.9 86.5,412.3 86.7,411.6 86.9,412.5 87.1,412.6 87.4,413.0 87.6,412.4 87.8,412.7 88.0,412.4 88.2,412.9 88.5,412.6 88.7,412.1 88.9,412.0 89.1,412.0 89.3,412.4 89.6,411.8 89.8,412.3 90.0,411.9 90.2,412.5 90.4,412.4 90.7,412.5 90.9,413.1 91.1,412.5 91.3,411.5 91.5,413.0 91.8,412.7 92.0,412.8 92.2,412.7 92.4,412.3 92.6,411.8 92.9,413.0 93.1,413.2 93.3,411.7 93.5,412.4 93.7,411.6 94.0,411.8 94.2,413.5 94.4,412.8 94.6,413.8 94.8,412.1 95.1,413.1 95.3,413.5 95.5,413.6 95.7,414.1 95.9,413.2 96.2,413.2 96.4,413.3 96.6,413.5 96.8,413.2 97.0,413.1 97.3,412.9 97.5,413.5 97.7,412.8 97.9,412.7 98.1,413.8 98.4,413.1 98.6,413.1 98.8,413.4 99.0,412.9 99.2,412.7 99.5,413.8 99.7,413.9 99.9,412.6 100.1,413.1 100.3,413.6 100.6,413.9 100.8,413.6 101.0,413.5 101.2,413.0 101.4,413.4 101.7,413.9 101.9,412.6 102.1,413.7 102.3,413.3 102.5,412.8 102.8,413.5 103.0,413.4 103.2,412.8 103.4,413.1 103.6,412.7 103.9,413.1 104.1,412.5 104.3,412.3 104.5,413.7 104.7,412.3 105.0,412.3 105.2,412.6 105.4,414.4 105.6,412.3 105.8,412.9 106.1,412.7 106.3,413.5 106.5,412.5 106.7,413.7 106.9,412.8 107.2,413.7 107.4,413.1 107.6,412.8 107.8,412.1 108.0,412.5 108.3,412.8 108.5,412.7 108.7,413.2 108.9,412.8 109.1,413.2 109.4,412.6 109.6,412.5 109.8,413.3 110.0,412.8 110.2,413.1 110.5,412.8 110.7,412.2 110.9,412.7 111.1,412.9 111.3,412.6 111.6,413.5 111.8,411.4 112.0,412.8 112.2,412.8 112.4,413.3 112.7,412.5 112.9,412.9 113.1,412.3 113.3,411.8 113.5,412.0 113.8,413.4 114.0,411.8 114.2,412.9 114.4,411.8 114.6,413.1 114.9,413.0 115.1,412.7 115.3,412.3 115.5,412.6 115.7,413.0 116.0,412.5 116.2,411.5 116.4,413.1 116.6,412.7 116.8,412.5 117.1,412.3 117.3,410.5 117.5,412.6 117.7,412.4 117.9,413.0 118.2,412.8 118.4,412.3 118.6,413.1 118.8,412.7 119.0,413.0 119.3,412.8 119.5,413.2 119.7,413.3 119.9,413.1 120.1,413.7 120.4,413.4 120.6,413.1 120.8,412.4 121.0,412.5 121.2,412.8 121.5,412.6 121.7,412.2 121.9,412.0 122.1,412.9 122.3,412.7 122.6,412.8 122.8,411.7 123.0,411.6 123.2,412.8 123.4,413.2 123.7,413.3 123.9,413.0 124.1,413.3 124.3,411.9 124.5,413.2 124.8,413.0 125.0,411.3 125.2,413.4 125.4,413.4 125.6,412.5 125.9,411.9 126.1,413.5 126.3,412.7 126.5,412.0 126.7,412.2 127.0,413.1 127.2,412.4 127.4,413.6 127.6,412.2 127.8,413.1 128.1,413.3 128.3,412.7 128.5,413.0 128.7,412.4 128.9,413.6 129.2,412.9 129.4,412.5 129.6,412.9 129.8,413.5 130.0,412.6 130.3,411.8 130.5,412.1 130.7,413.4 130.9,412.6 131.1,412.2 131.4,412.8 131.6,412.9 131.8,413.1 132.0,412.5 132.2,412.8 132.5,412.7 132.7,412.7 132.9,412.7 133.1,412.6 133.3,412.7 133.6,411.9 133.8,412.2 134.0,413.5 134.2,412.6 134.4,412.3 134.7,413.2 134.9,414.1 135.1,414.2 135.3,412.7 135.5,413.0 135.8,412.2 136.0,413.4 136.2,413.6 136.4,412.7 136.6,412.2 136.9,412.6 137.1,413.2 137.3,412.1 137.5,413.5 137.7,413.0 138.0,412.6 138.2,413.0 138.4,412.5 138.6,413.6 138.8,413.0 139.1,413.6 139.3,414.1 139.5,413.1 139.7,413.3 139.9,411.8 140.2,413.7 140.4,413.5 140.6,413.5 140.8,412.9 141.0,413.0 141.3,411.9 141.5,413.3 141.7,412.9 141.9,413.4 142.1,413.5 142.4,413.5 142.6,412.7 142.8,413.8 143.0,413.7 143.2,413.2 143.5,412.7 143.7,413.1 143.9,412.6 144.1,413.6 144.3,413.3 144.6,414.6 144.8,414.1 145.0,413.0 145.2,413.2 145.4,413.2 145.7,412.9 145.9,414.0 146.1,413.2 146.3,412.0 146.5,413.1 146.8,411.9 147.0,413.3 147.2,413.7 147.4,413.0 147.6,412.3 147.9,413.1 148.1,413.7 148.3,413.2 148.5,412.2 148.7,412.5 149.0,413.2 149.2,413.2 149.4,413.4 149.6,412.8 149.8,411.3 150.1,413.1 150.3,414.1 150.5,413.8 150.7,412.2 150.9,412.7 151.2,412.7 151.4,414.0 151.6,413.2 151.8,411.9 152.0,412.5 152.3,413.9 152.5,413.4 152.7,412.9 152.9,412.0 153.1,411.9 153.4,414.3 153.6,412.5 153.8,412.1 154.0,412.5 154.2,414.2 154.5,413.7 154.7,413.3 154.9,412.5 155.1,413.3 155.3,413.6 155.6,412.7 155.8,412.5 156.0,412.9 156.2,413.1 156.4,412.5 156.7,411.6 156.9,413.8 157.1,413.2 157.3,412.3 157.5,412.9 157.8,413.2 158.0,413.4 158.2,412.5 158.4,412.4 158.6,412.5 158.9,412.9 159.1,411.3 159.3,413.8 159.5,412.6 159.7,412.9 160.0,412.4 160.2,412.4 160.4,413.0 160.6,412.8 160.8,413.0 161.1,412.4 161.3,413.5 161.5,412.5 161.7,413.1 161.9,412.3 162.2,413.3 162.4,413.3 162.6,413.3 162.8,412.5 163.0,412.9 163.3,413.1 163.5,413.7 163.7,412.9 163.9,413.4 164.1,413.1 164.4,412.5 164.6,412.2 164.8,412.2 165.0,413.5 165.2,411.7 165.5,412.8 165.7,412.3 165.9,413.2 166.1,413.0 166.3,413.9 166.6,413.5 166.8,412.8 167.0,413.7 167.2,413.1 167.4,413.8 167.7,413.0 167.9,412.2 168.1,413.8 168.3,413.1 168.5,414.8 168.8,413.5 169.0,412.7 169.2,413.2 169.4,414.4 169.6,413.4 169.9,413.1 170.1,413.4 170.3,413.6 170.5,413.2 170.7,412.9 171.0,412.6 171.2,414.1 171.4,415.2 171.6,413.7 171.8,414.3 172.1,413.9 172.3,413.6 172.5,412.6 172.7,413.3 172.9,413.5 173.2,413.2 173.4,413.2 173.6,413.5 173.8,413.5 174.0,413.3 174.3,413.2 174.5,413.5 174.7,413.7 174.9,413.7 175.1,413.6 175.4,414.0 175.6,413.5 175.8,414.0 176.0,414.0 176.2,412.7 176.5,413.2 176.7,413.3 176.9,413.3 177.1,412.7 177.3,414.4 177.6,412.0 177.8,412.7 178.0,413.3 178.2,412.0 178.4,412.9 178.7,413.2 178.9,412.6 179.1,413.4 179.3,412.0 179.5,412.4 179.8,414.1 180.0,413.2 180.2,413.2 180.4,412.0 180.6,412.7 180.9,413.3 181.1,412.3 181.3,412.5 181.5,413.8 181.7,412.4 182.0,413.0 182.2,412.8 182.4,412.2 182.6,412.9 182.8,413.1 183.1,411.8 183.3,413.7 183.5,412.4 183.7,412.4 183.9,413.1 184.2,413.5 184.4,413.8 184.6,412.3 184.8,413.2 185.0,413.8 185.3,412.8 185.5,412.8 185.7,413.1 185.9,413.7 186.1,413.6 186.4,413.3 186.6,413.0 186.8,412.4 187.0,412.6 187.2,412.1 187.5,413.9 187.7,413.4 187.9,413.1 188.1,412.9 188.3,413.2 188.6,411.8 188.8,413.8 189.0,413.4 189.2,412.5 189.4,413.0 189.7,414.4 189.9,413.6 190.1,413.9 190.3,413.0 190.5,412.4 190.8,412.7 191.0,413.5 191.2,413.0 191.4,412.6 191.6,411.3 191.9,413.3 192.1,413.4 192.3,412.8 192.5,412.9 192.7,412.8 193.0,412.1 193.2,413.0 193.4,412.1 193.6,412.8 193.8,413.1 194.1,413.0 194.3,412.4 194.5,412.5 194.7,413.4 194.9,412.5 195.2,412.6 195.4,413.5 195.6,412.9 195.8,413.5 196.0,413.1 196.3,413.2 196.5,412.8 196.7,412.4 196.9,412.2 197.1,413.4 197.4,413.3 197.6,412.6 197.8,414.1 198.0,413.1 198.2,412.9 198.5,413.2 198.7,412.5 198.9,412.6 199.1,412.6 199.3,412.9 199.6,413.6 199.8,413.4 200.0,412.5 200.2,413.6 200.4,414.8 200.7,412.6 200.9,414.0 201.1,412.3 201.3,412.8 201.5,413.2 201.8,411.7 202.0,412.9 202.2,413.2 202.4,413.7 202.6,413.1 202.9,413.2 203.1,411.6 203.3,412.8 203.5,412.7 203.7,414.3 204.0,413.6 204.2,412.3 204.4,413.5 204.6,412.0 204.8,413.1 205.1,412.2 205.3,413.7 205.5,413.2 205.7,413.8 205.9,413.5 206.2,413.1 206.4,412.7 206.6,413.0 206.8,413.3 207.0,413.6 207.3,413.6 207.5,413.2 207.7,413.7 207.9,412.8 208.1,413.5 208.4,412.5 208.6,413.6 208.8,413.3 209.0,414.3 209.2,413.0 209.5,413.0 209.7,412.3 209.9,413.8 210.1,412.5 210.3,414.1 210.6,412.5 210.8,412.8 211.0,412.0 211.2,413.4 211.4,413.7 211.7,414.3 211.9,413.8 212.1,413.5 212.3,413.0 212.5,413.3 212.8,414.8 213.0,414.7 213.2,414.1 213.4,412.9 213.6,413.9 213.9,414.1 214.1,413.0 214.3,414.0 214.5,414.0 214.7,413.7 215.0,413.3 215.2,414.5 215.4,413.4 215.6,414.0 215.8,414.3 216.1,413.2 216.3,414.0 216.5,414.4 216.7,413.9 216.9,413.3 217.2,413.6 217.4,413.3 217.6,413.0 217.8,413.3 218.0,413.1 218.3,412.9 218.5,412.9 218.7,412.6 218.9,413.7 219.1,413.1 219.4,414.0 219.6,413.4 219.8,413.5 220.0,413.1 220.2,414.0 220.5,412.5 220.7,413.4 220.9,413.6 221.1,412.7 221.3,413.0 221.6,413.1 221.8,414.7 222.0,414.1 222.2,413.7 222.4,414.5 222.7,414.4 222.9,413.6 223.1,413.2 223.3,412.4 223.5,412.5 223.8,412.8 224.0,412.8 224.2,413.3 224.4,412.4 224.6,413.5 224.9,412.6 225.1,413.0 225.3,412.2 225.5,413.1 225.7,411.9 226.0,412.9 226.2,413.5 226.4,412.1 226.6,413.0 226.8,412.6 227.1,413.0 227.3,412.8 227.5,413.5 227.7,414.2 227.9,413.5 228.2,413.1 228.4,411.0 228.6,412.5 228.8,413.3 229.0,412.6 229.3,413.5 229.5,413.3 229.7,413.1 229.9,413.1 230.1,413.4 230.4,413.4 230.6,412.6 230.8,413.2 231.0,412.0 231.2,413.3 231.5,413.7 231.7,413.4 231.9,413.0 232.1,413.1 232.3,413.1 232.6,412.7 232.8,414.2 233.0,413.0 233.2,412.9 233.4,412.5 233.7,413.3 233.9,412.8 234.1,413.4 234.3,413.2 234.5,412.1 234.8,413.0 235.0,413.4 235.2,413.3 235.4,412.9 235.6,411.9 235.9,412.4 236.1,414.0 236.3,413.3 236.5,413.5 236.7,411.3 237.0,412.9 237.2,413.2 237.4,412.9 237.6,413.4 237.8,413.6 238.1,413.3 238.3,412.3 238.5,412.0 238.7,412.9 238.9,412.0 239.2,413.0 239.4,413.9 239.6,412.4 239.8,413.4 240.0,413.3 240.3,412.8 240.5,413.0 240.7,412.3 240.9,412.9 241.1,413.3 241.4,412.5 241.6,412.9 241.8,412.8 242.0,413.6 242.2,413.9 242.5,412.6 242.7,412.3 242.9,413.1 243.1,412.8 243.3,413.0 243.6,413.4 243.8,413.0 244.0,413.3 244.2,412.1 244.4,412.6 244.7,412.6 244.9,413.0 245.1,412.8 245.3,412.7 245.5,411.9 245.8,413.0 246.0,413.2 246.2,412.7 246.4,413.0 246.6,412.6 246.9,412.3 247.1,412.4 247.3,412.0 247.5,412.5 247.7,411.7 248.0,413.0 248.2,413.8 248.4,413.5 248.6,413.2 248.8,412.9 249.1,412.4 249.3,413.2 249.5,414.0 249.7,413.7 249.9,412.4 250.2,412.5 250.4,413.6 250.6,412.6 250.8,412.4 251.0,414.0 251.3,412.5 251.5,413.6 251.7,413.9 251.9,414.3 252.1,413.0 252.4,413.7 252.6,414.5 252.8,412.7 253.0,413.2 253.2,413.6 253.5,413.6 253.7,413.6 253.9,414.3 254.1,413.7 254.3,413.6 254.6,413.0 254.8,414.2 255.0,414.3 255.2,413.4 255.4,414.8 255.7,413.8 255.9,414.0 256.1,413.9 256.3,414.0 256.5,413.9 256.8,415.6 257.0,413.9 257.2,414.0 257.4,414.9 257.6,415.3 257.9,413.0 258.1,414.0 258.3,413.6 258.5,413.7 258.7,413.4 259.0,413.4 259.2,413.7 259.4,413.4 259.6,414.0 259.8,414.5 260.1,413.2 260.3,413.1 260.5,413.4 260.7,415.4 260.9,413.6 261.2,411.9 261.4,413.0 261.6,412.6 261.8,413.5 262.0,413.6 262.3,413.2 262.5,412.9 262.7,412.9 262.9,414.5 263.1,413.3 263.4,413.2 263.6,413.6 263.8,413.2 264.0,413.9 264.2,413.0 264.5,412.7 264.7,413.8 264.9,413.4 265.1,413.3 265.3,412.7 265.6,412.8 265.8,413.5 266.0,413.3 266.2,414.0 266.4,413.1 266.7,412.4 266.9,413.6 267.1,413.7 267.3,413.8 267.5,413.6 267.8,412.6 268.0,413.9 268.2,412.0 268.4,414.2 268.6,413.6 268.9,414.1 269.1,412.6 269.3,413.7 269.5,412.6 269.7,414.3 270.0,413.8 270.2,413.0 270.4,415.0 270.6,413.7 270.8,413.4 271.1,413.0 271.3,414.9 271.5,413.9 271.7,413.9 271.9,414.2 272.2,413.9 272.4,414.6 272.6,413.4 272.8,414.3 273.0,414.6 273.3,413.4 273.5,414.4 273.7,415.1 273.9,413.5 274.1,414.8 274.4,414.6 274.6,414.4 274.8,414.6 275.0,414.5 275.2,414.9 275.5,414.8 275.7,413.7 275.9,414.2 276.1,413.3 276.3,414.6 276.6,414.5 276.8,413.9 277.0,414.2 277.2,414.7 277.4,414.5 277.7,414.3 277.9,414.7 278.1,413.2 278.3,413.8 278.5,415.0 278.8,413.8 279.0,412.9 279.2,413.8 279.4,413.7 279.6,413.9 279.9,413.2 280.1,414.0 280.3,413.2 280.5,414.0 280.7,413.9 281.0,412.3 281.2,413.0 281.4,413.9 281.6,413.8 281.8,413.4 282.1,413.2 282.3,413.5 282.5,414.2 282.7,413.9 282.9,414.1 283.2,414.5 283.4,412.8 283.6,412.6 283.8,413.2 284.0,413.7 284.3,412.6 284.5,413.1 284.7,413.2 284.9,413.7 285.1,412.8 285.4,415.3 285.6,414.0 285.8,414.2 286.0,413.6 286.2,413.9 286.5,414.8 286.7,413.2 286.9,413.3 287.1,412.6 287.3,413.0 287.6,413.0 287.8,413.5 288.0,413.6 288.2,413.4 288.4,412.9 288.7,412.8 288.9,413.5 289.1,413.2 289.3,412.8 289.5,413.8 289.8,414.0 290.0,413.6 290.2,413.1 290.4,413.2 290.6,412.8 290.9,413.7 291.1,412.6 291.3,414.0 291.5,413.2 291.7,411.5 292.0,414.3 292.2,412.6 292.4,413.3 292.6,412.7 292.8,412.5 293.1,413.6 293.3,413.6 293.5,413.4 293.7,413.2 293.9,413.0 294.2,412.6 294.4,412.5 294.6,412.5 294.8,412.9 295.0,412.8 295.3,413.1 295.5,412.4 295.7,413.4 295.9,413.2 296.1,411.7 296.4,412.9 296.6,414.1 296.8,412.9 297.0,412.7 297.2,412.5 297.5,413.0 297.7,412.9 297.9,413.1 298.1,413.1 298.3,412.3 298.6,412.7 298.8,413.4 299.0,412.5 299.2,413.2 299.4,413.6 299.7,413.0 299.9,413.7 300.1,412.7 300.3,412.6 300.5,412.6 300.8,413.8 301.0,413.2 301.2,413.6 301.4,412.6 301.6,413.8 301.9,413.0 302.1,413.4 302.3,413.3 302.5,413.3 302.7,412.9 303.0,413.3 303.2,412.8 303.4,414.7 303.6,414.4 303.8,415.0 304.1,412.9 304.3,413.4 304.5,413.0 304.7,413.9 304.9,413.8 305.2,414.1 305.4,414.0 305.6,412.5 305.8,413.4 306.0,414.9 306.3,413.3 306.5,413.9 306.7,413.2 306.9,413.8 307.1,413.4 307.4,413.3 307.6,413.7 307.8,413.1 308.0,413.7 308.2,413.4 308.5,413.8 308.7,413.2 308.9,412.0 309.1,413.2 309.3,412.9 309.6,412.7 309.8,413.7 310.0,412.2 310.2,413.4 310.4,413.7 310.7,413.8 310.9,413.9 311.1,413.5 311.3,412.9 311.5,414.1 311.8,413.5 312.0,413.7 312.2,413.5 312.4,413.6 312.6,414.1 312.9,413.7 313.1,413.4 313.3,414.0 313.5,413.7 313.7,413.5 314.0,413.4 314.2,413.8 314.4,412.6 314.6,413.0 314.8,414.1 315.1,413.2 315.3,413.2 315.5,414.3 315.7,414.1 315.9,413.8 316.2,414.1 316.4,413.8 316.6,413.5 316.8,414.0 317.0,414.1 317.3,413.4 317.5,413.5 317.7,412.7 317.9,413.0 318.1,412.8 318.4,414.0 318.6,414.1 318.8,412.8 319.0,413.6 319.2,414.1 319.5,413.7 319.7,412.8 319.9,413.2 320.1,413.7 320.3,414.0 320.6,413.9 320.8,413.8 321.0,413.6 321.2,414.0 321.4,413.3 321.7,413.8 321.9,413.3 322.1,413.7 322.3,412.1 322.5,413.7 322.8,413.0 323.0,413.7 323.2,412.5 323.4,413.6 323.6,413.0 323.9,413.5 324.1,413.1 324.3,412.2 324.5,414.3 324.7,413.5 325.0,413.0 325.2,413.7 325.4,412.3"/><polyline fill="none" stroke="#128b8b" stroke-width="2.0" stroke-linejoin="round" points="51.5,358.1 51.7,357.1 51.9,358.0 52.2,358.4 52.4,358.6 52.6,358.6 52.8,358.3 53.0,359.3 53.3,357.5 53.5,358.1 53.7,357.4 53.9,358.0 54.1,357.8 54.4,358.1 54.6,359.1 54.8,358.6 55.0,359.5 55.2,358.9 55.5,359.1 55.7,359.5 55.9,358.3 56.1,358.5 56.3,359.1 56.6,358.6 56.8,358.1 57.0,360.2 57.2,357.4 57.4,358.3 57.7,358.5 57.9,358.3 58.1,358.8 58.3,358.5 58.5,358.7 58.8,358.6 59.0,358.4 59.2,358.8 59.4,357.7 59.6,358.5 59.9,357.7 60.1,359.0 60.3,359.4 60.5,358.1 60.7,357.5 61.0,357.5 61.2,358.3 61.4,358.4 61.6,358.7 61.8,359.0 62.1,358.3 62.3,358.1 62.5,360.1 62.7,358.4 62.9,358.5 63.2,357.9 63.4,358.6 63.6,358.3 63.8,358.8 64.0,358.3 64.3,357.7 64.5,357.7 64.7,359.1 64.9,359.1 65.1,358.7 65.4,359.1 65.6,359.5 65.8,358.1 66.0,359.4 66.2,359.8 66.5,359.5 66.7,358.5 66.9,359.0 67.1,358.6 67.3,358.0 67.6,358.2 67.8,358.3 68.0,358.4 68.2,358.6 68.4,357.8 68.7,357.4 68.9,358.1 69.1,359.0 69.3,358.5 69.5,358.8 69.8,358.2 70.0,358.0 70.2,358.3 70.4,358.6 70.6,358.7 70.9,359.6 71.1,359.1 71.3,358.8 71.5,357.5 71.7,358.2 72.0,358.3 72.2,357.6 72.4,358.3 72.6,357.8 72.8,358.0 73.1,358.1 73.3,357.4 73.5,358.0 73.7,357.4 73.9,357.9 74.2,358.1 74.4,359.4 74.6,357.4 74.8,359.1 75.0,358.3 75.3,357.6 75.5,357.9 75.7,357.9 75.9,358.9 76.1,358.9 76.4,359.0 76.6,359.3 76.8,358.1 77.0,357.7 77.2,359.1 77.5,358.6 77.7,358.2 77.9,359.4 78.1,360.0 78.3,359.7 78.6,358.7 78.8,360.1 79.0,359.9 79.2,358.2 79.4,359.1 79.7,358.9 79.9,358.2 80.1,359.3 80.3,359.3 80.5,358.2 80.8,357.4 81.0,358.7 81.2,359.0 81.4,358.8 81.6,359.3 81.9,360.2 82.1,359.7 82.3,359.1 82.5,358.7 82.7,359.1 83.0,359.0 83.2,359.4 83.4,359.9 83.6,358.6 83.8,359.6 84.1,360.3 84.3,359.8 84.5,359.5 84.7,358.8 84.9,358.9 85.2,360.3 85.4,359.3 85.6,359.5 85.8,359.1 86.0,358.2 86.3,359.2 86.5,359.3 86.7,358.9 86.9,359.9 87.1,359.4 87.4,358.0 87.6,358.7 87.8,358.3 88.0,358.8 88.2,357.3 88.5,359.0 88.7,359.0 88.9,358.3 89.1,359.7 89.3,359.1 89.6,358.8 89.8,358.7 90.0,358.5 90.2,358.3 90.4,358.4 90.7,359.0 90.9,358.1 91.1,358.0 91.3,359.1 91.5,358.1 91.8,358.7 92.0,357.9 92.2,358.5 92.4,358.1 92.6,358.0 92.9,358.4 93.1,358.5 93.3,358.3 93.5,359.4 93.7,358.8 94.0,358.2 94.2,358.5 94.4,358.5 94.6,358.9 94.8,358.0 95.1,357.6 95.3,357.6 95.5,357.5 95.7,359.4 95.9,357.7 96.2,359.6 96.4,358.8 96.6,359.1 96.8,357.8 97.0,358.6 97.3,359.5 97.5,358.5 97.7,359.8 97.9,359.3 98.1,358.9 98.4,359.6 98.6,358.9 98.8,359.2 99.0,359.3 99.2,358.2 99.5,359.3 99.7,359.8 99.9,359.7 100.1,360.2 100.3,359.5 100.6,358.8 100.8,360.3 101.0,358.2 101.2,359.7 101.4,358.0 101.7,359.2 101.9,360.6 102.1,358.3 102.3,360.2 102.5,358.9 102.8,358.6 103.0,358.9 103.2,359.0 103.4,359.3 103.6,359.4 103.9,359.3 104.1,359.1 104.3,358.7 104.5,359.9 104.7,359.5 105.0,358.9 105.2,359.1 105.4,359.1 105.6,359.7 105.8,358.8 106.1,358.9 106.3,359.1 106.5,359.0 106.7,358.2 106.9,358.0 107.2,359.3 107.4,359.0 107.6,358.8 107.8,358.6 108.0,358.3 108.3,358.5 108.5,358.1 108.7,358.1 108.9,358.4 109.1,358.9 109.4,358.1 109.6,358.9 109.8,359.1 110.0,358.6 110.2,358.2 110.5,358.9 110.7,358.9 110.9,359.8 111.1,358.6 111.3,359.1 111.6,359.4 111.8,359.7 112.0,357.7 112.2,359.0 112.4,358.6 112.7,358.4 112.9,357.3 113.1,358.3 113.3,358.5 113.5,359.2 113.8,358.3 114.0,359.2 114.2,358.2 114.4,359.0 114.6,359.3 114.9,358.5 115.1,358.5 115.3,359.0 115.5,360.0 115.7,359.0 116.0,358.2 116.2,358.9 116.4,359.4 116.6,359.8 116.8,359.0 117.1,359.0 117.3,359.0 117.5,359.2 117.7,359.1 117.9,358.5 118.2,359.2 118.4,358.3 118.6,357.7 118.8,358.4 119.0,358.4 119.3,359.0 119.5,358.3 119.7,357.4 119.9,358.1 120.1,358.6 120.4,358.1 120.6,358.2 120.8,359.2 121.0,358.4 121.2,359.4 121.5,359.2 121.7,359.2 121.9,358.6 122.1,358.3 122.3,359.3 122.6,358.3 122.8,358.9 123.0,358.7 123.2,358.3 123.4,357.4 123.7,358.8 123.9,359.2 124.1,358.5 124.3,359.4 124.5,358.5 124.8,358.3 125.0,359.1 125.2,358.0 125.4,359.1 125.6,360.1 125.9,359.2 126.1,358.7 126.3,359.3 126.5,359.5 126.7,358.9 127.0,359.1 127.2,359.4 127.4,359.5 127.6,358.6 127.8,358.9 128.1,359.5 128.3,358.9 128.5,358.7 128.7,360.1 128.9,358.3 129.2,358.9 129.4,359.5 129.6,359.6 129.8,358.5 130.0,359.0 130.3,359.2 130.5,358.5 130.7,359.2 130.9,359.0 131.1,358.5 131.4,358.2 131.6,359.0 131.8,359.2 132.0,358.3 132.2,358.3 132.5,358.1 132.7,357.7 132.9,358.6 133.1,358.8 133.3,359.2 133.6,357.9 133.8,359.0 134.0,358.9 134.2,358.3 134.4,358.8 134.7,358.3 134.9,359.2 135.1,358.4 135.3,358.8 135.5,359.9 135.8,358.6 136.0,358.5 136.2,358.8 136.4,358.4 136.6,358.4 136.9,358.9 137.1,357.9 137.3,359.1 137.5,358.0 137.7,357.7 138.0,359.3 138.2,357.7 138.4,358.2 138.6,358.8 138.8,358.5 139.1,359.3 139.3,358.7 139.5,358.6 139.7,358.7 139.9,358.7 140.2,359.2 140.4,358.8 140.6,359.5 140.8,359.2 141.0,358.8 141.3,359.4 141.5,358.0 141.7,359.3 141.9,358.8 142.1,358.7 142.4,358.3 142.6,359.4 142.8,360.4 143.0,359.3 143.2,359.4 143.5,358.7 143.7,360.3 143.9,359.7 144.1,359.4 144.3,360.3 144.6,359.7 144.8,359.1 145.0,359.7 145.2,359.4 145.4,360.6 145.7,359.4 145.9,360.1 146.1,359.5 146.3,359.8 146.5,359.3 146.8,359.5 147.0,358.9 147.2,359.6 147.4,359.8 147.6,359.9 147.9,359.6 148.1,360.0 148.3,358.9 148.5,359.1 148.7,358.8 149.0,358.3 149.2,358.8 149.4,358.0 149.6,358.9 149.8,359.4 150.1,359.3 150.3,358.2 150.5,360.1 150.7,359.7 150.9,358.8 151.2,358.3 151.4,359.4 151.6,359.3 151.8,358.9 152.0,358.9 152.3,359.0 152.5,359.3 152.7,359.9 152.9,358.4 153.1,358.6 153.4,359.1 153.6,358.9 153.8,357.2 154.0,359.1 154.2,359.8 154.5,359.4 154.7,359.7 154.9,358.9 155.1,359.2 155.3,357.9 155.6,358.0 155.8,358.3 156.0,357.3 156.2,359.0 156.4,358.4 156.7,358.9 156.9,358.7 157.1,358.9 157.3,359.2 157.5,358.4 157.8,358.2 158.0,358.0 158.2,358.8 158.4,358.4 158.6,357.9 158.9,358.5 159.1,358.8 159.3,359.0 159.5,358.0 159.7,357.8 160.0,358.3 160.2,358.4 160.4,358.0 160.6,358.6 160.8,357.9 161.1,358.7 161.3,359.1 161.5,357.5 161.7,358.6 161.9,358.4 162.2,357.8 162.4,358.3 162.6,358.7 162.8,358.8 163.0,358.1 163.3,358.2 163.5,359.4 163.7,358.6 163.9,358.4 164.1,358.6 164.4,358.7 164.6,358.0 164.8,357.5 165.0,357.4 165.2,358.7 165.5,357.9 165.7,357.6 165.9,357.6 166.1,359.4 166.3,359.7 166.6,358.7 166.8,359.2 167.0,358.9 167.2,357.6 167.4,358.9 167.7,358.6 167.9,358.4 168.1,358.4 168.3,357.7 168.5,359.1 168.8,359.0 169.0,358.4 169.2,358.6 169.4,358.0 169.6,359.4 169.9,358.8 170.1,359.1 170.3,359.0 170.5,359.4 170.7,359.6 171.0,359.8 171.2,359.0 171.4,358.6 171.6,358.4 171.8,359.6 172.1,359.3 172.3,360.3 172.5,359.4 172.7,358.2 172.9,359.5 173.2,358.9 173.4,359.6 173.6,358.6 173.8,359.2 174.0,358.9 174.3,358.7 174.5,358.3 174.7,359.3 174.9,358.3 175.1,357.7 175.4,358.3 175.6,358.7 175.8,359.0 176.0,358.7 176.2,359.2 176.5,359.1 176.7,359.1 176.9,358.9 177.1,359.2 177.3,359.8 177.6,359.1 177.8,359.0 178.0,358.9 178.2,359.2 178.4,358.2 178.7,358.5 178.9,359.0 179.1,358.1 179.3,359.3 179.5,358.7 179.8,358.5 180.0,358.4 180.2,357.9 180.4,358.5 180.6,357.9 180.9,358.1 181.1,358.3 181.3,359.1 181.5,358.8 181.7,359.2 182.0,358.4 182.2,359.0 182.4,358.9 182.6,359.3 182.8,359.0 183.1,359.4 183.3,358.8 183.5,359.6 183.7,360.1 183.9,359.7 184.2,359.2 184.4,359.3 184.6,359.7 184.8,359.1 185.0,358.9 185.3,359.2 185.5,359.3 185.7,359.3 185.9,360.5 186.1,360.9 186.4,359.7 186.6,358.8 186.8,359.7 187.0,359.6 187.2,358.8 187.5,359.6 187.7,359.2 187.9,358.7 188.1,358.8 188.3,359.9 188.6,358.8 188.8,359.2 189.0,358.8 189.2,358.5 189.4,358.8 189.7,359.6 189.9,360.1 190.1,358.7 190.3,358.8 190.5,358.9 190.8,359.0 191.0,359.2 191.2,359.4 191.4,359.0 191.6,357.9 191.9,360.0 192.1,359.4 192.3,358.9 192.5,359.2 192.7,359.3 193.0,359.4 193.2,358.0 193.4,360.0 193.6,358.9 193.8,359.8 194.1,359.5 194.3,358.7 194.5,359.3 194.7,359.7 194.9,359.7 195.2,359.4 195.4,358.8 195.6,359.5 195.8,360.0 196.0,359.5 196.3,358.2 196.5,359.5 196.7,359.1 196.9,360.1 197.1,358.8 197.4,358.5 197.6,359.1 197.8,360.3 198.0,359.9 198.2,359.8 198.5,361.0 198.7,359.0 198.9,358.9 199.1,358.8 199.3,359.6 199.6,359.1 199.8,358.7 200.0,359.9 200.2,359.4 200.4,360.3 200.7,360.2 200.9,358.9 201.1,359.6 201.3,359.1 201.5,358.5 201.8,360.8 202.0,359.4 202.2,358.8 202.4,359.9 202.6,358.9 202.9,359.0 203.1,359.7 203.3,358.8 203.5,359.3 203.7,359.3 204.0,358.4 204.2,359.6 204.4,359.3 204.6,359.3 204.8,359.9 205.1,358.5 205.3,358.7 205.5,358.9 205.7,359.0 205.9,359.5 206.2,359.6 206.4,359.2 206.6,359.1 206.8,359.8 207.0,358.2 207.3,358.5 207.5,360.3 207.7,358.6 207.9,358.9 208.1,359.0 208.4,360.0 208.6,359.8 208.8,358.8 209.0,358.4 209.2,359.6 209.5,359.0 209.7,358.5 209.9,359.9 210.1,358.5 210.3,358.7 210.6,359.6 210.8,358.5 211.0,360.4 211.2,360.2 211.4,358.2 211.7,359.2 211.9,360.0 212.1,359.8 212.3,360.0 212.5,358.6 212.8,360.5 213.0,359.1 213.2,359.2 213.4,359.1 213.6,359.9 213.9,359.0 214.1,359.3 214.3,358.6 214.5,358.7 214.7,359.8 215.0,358.9 215.2,358.9 215.4,360.1 215.6,359.5 215.8,359.5 216.1,359.8 216.3,359.6 216.5,360.0 216.7,359.8 216.9,358.9 217.2,359.3 217.4,359.2 217.6,358.9 217.8,359.4 218.0,358.9 218.3,359.5 218.5,359.3 218.7,358.8 218.9,360.2 219.1,360.2 219.4,360.5 219.6,360.4 219.8,360.4 220.0,359.7 220.2,360.7 220.5,359.5 220.7,359.2 220.9,359.4 221.1,358.9 221.3,359.2 221.6,360.4 221.8,358.3 222.0,358.4 222.2,359.5 222.4,360.3 222.7,359.3 222.9,359.9 223.1,358.9 223.3,359.1 223.5,359.3 223.8,357.9 224.0,358.4 224.2,358.7 224.4,359.1 224.6,359.4 224.9,359.0 225.1,359.7 225.3,358.8 225.5,359.9 225.7,360.2 226.0,359.6 226.2,358.9 226.4,360.1 226.6,360.3 226.8,359.6 227.1,359.0 227.3,359.6 227.5,360.1 227.7,359.0 227.9,358.2 228.2,359.3 228.4,360.0 228.6,359.0 228.8,359.1 229.0,358.5 229.3,358.1 229.5,359.4 229.7,360.0 229.9,359.1 230.1,358.6 230.4,358.4 230.6,360.0 230.8,358.5 231.0,358.8 231.2,359.2 231.5,359.5 231.7,358.9 231.9,358.2 232.1,358.6 232.3,358.4 232.6,359.0 232.8,358.7 233.0,359.4 233.2,358.5 233.4,359.1 233.7,359.6 233.9,359.7 234.1,358.0 234.3,359.3 234.5,358.9 234.8,358.9 235.0,358.5 235.2,358.1 235.4,358.9 235.6,359.6 235.9,357.8 236.1,358.7 236.3,359.3 236.5,359.5 236.7,357.9 237.0,359.1 237.2,357.9 237.4,360.0 237.6,358.9 237.8,359.4 238.1,359.2 238.3,358.3 238.5,360.3 238.7,359.4 238.9,358.9 239.2,357.9 239.4,360.0 239.6,358.5 239.8,359.2 240.0,359.8 240.3,360.0 240.5,359.0 240.7,359.2 240.9,359.6 241.1,359.4 241.4,357.8 241.6,359.2 241.8,358.7 242.0,359.3 242.2,358.3 242.5,359.0 242.7,359.1 242.9,359.1 243.1,358.3 243.3,358.5 243.6,359.2 243.8,360.7 244.0,358.9 244.2,359.7 244.4,359.5 244.7,360.0 244.9,358.0 245.1,357.9 245.3,359.2 245.5,359.0 245.8,358.8 246.0,358.9 246.2,359.5 246.4,360.5 246.6,358.0 246.9,358.7 247.1,359.4 247.3,358.4 247.5,359.1 247.7,358.9 248.0,358.7 248.2,359.1 248.4,358.6 248.6,359.2 248.8,360.0 249.1,358.5 249.3,359.3 249.5,358.9 249.7,358.6 249.9,359.4 250.2,359.4 250.4,359.0 250.6,359.5 250.8,358.2 251.0,359.0 251.3,359.1 251.5,357.8 251.7,360.1 251.9,358.8 252.1,358.9 252.4,359.5 252.6,359.5 252.8,359.1 253.0,359.2 253.2,358.6 253.5,358.1 253.7,358.1 253.9,358.9 254.1,359.8 254.3,358.4 254.6,359.6 254.8,358.5 255.0,359.2 255.2,360.1 255.4,358.9 255.7,357.7 255.9,360.2 256.1,358.7 256.3,360.4 256.5,360.1 256.8,360.4 257.0,359.5 257.2,360.5 257.4,359.1 257.6,360.0 257.9,359.1 258.1,359.6 258.3,359.7 258.5,358.9 258.7,358.4 259.0,359.4 259.2,359.3 259.4,359.3 259.6,359.7 259.8,358.8 260.1,358.0 260.3,358.2 260.5,358.7 260.7,358.1 260.9,359.0 261.2,359.1 261.4,358.2 261.6,359.5 261.8,358.7 262.0,358.0 262.3,359.6 262.5,359.0 262.7,359.5 262.9,359.8 263.1,358.4 263.4,359.3 263.6,360.5 263.8,360.1 264.0,359.0 264.2,359.5 264.5,359.6 264.7,359.5 264.9,358.6 265.1,359.1 265.3,358.2 265.6,359.8 265.8,358.9 266.0,359.3 266.2,360.1 266.4,359.5 266.7,358.8 266.9,359.4 267.1,359.7 267.3,358.8 267.5,360.2 267.8,360.0 268.0,360.0 268.2,359.0 268.4,359.0 268.6,360.4 268.9,359.8 269.1,359.6 269.3,359.9 269.5,359.9 269.7,360.4 270.0,359.6 270.2,359.9 270.4,358.9 270.6,360.6 270.8,359.7 271.1,359.5 271.3,359.2 271.5,359.3 271.7,359.7 271.9,358.4 272.2,360.6 272.4,359.3 272.6,360.3 272.8,358.6 273.0,358.3 273.3,358.6 273.5,359.3 273.7,359.5 273.9,359.6 274.1,360.5 274.4,359.1 274.6,358.5 274.8,359.1 275.0,358.8 275.2,359.5 275.5,359.4 275.7,359.0 275.9,359.2 276.1,359.5 276.3,358.8 276.6,359.9 276.8,358.8 277.0,359.7 277.2,358.1 277.4,359.3 277.7,359.3 277.9,359.6 278.1,358.4 278.3,358.9 278.5,358.7 278.8,359.9 279.0,359.0 279.2,359.2 279.4,359.1 279.6,358.8 279.9,360.0 280.1,359.3 280.3,359.0 280.5,360.0 280.7,359.1 281.0,359.4 281.2,358.5 281.4,359.0 281.6,360.2 281.8,359.7 282.1,359.4 282.3,358.8 282.5,359.5 282.7,359.4 282.9,359.6 283.2,359.3 283.4,359.0 283.6,359.9 283.8,359.0 284.0,359.3 284.3,357.5 284.5,359.5 284.7,359.5 284.9,359.2 285.1,360.1 285.4,359.3 285.6,359.9 285.8,359.7 286.0,359.7 286.2,359.2 286.5,360.0 286.7,360.3 286.9,359.8 287.1,360.5 287.3,359.0 287.6,358.5 287.8,359.6 288.0,359.9 288.2,359.2 288.4,359.6 288.7,359.0 288.9,359.3 289.1,359.6 289.3,359.4 289.5,360.3 289.8,359.9 290.0,359.1 290.2,358.8 290.4,360.1 290.6,358.2 290.9,358.9 291.1,359.5 291.3,358.5 291.5,359.2 291.7,360.2 292.0,360.0 292.2,359.2 292.4,359.7 292.6,359.6 292.8,360.1 293.1,358.9 293.3,358.7 293.5,359.2 293.7,359.3 293.9,357.7 294.2,357.7 294.4,358.4 294.6,358.1 294.8,358.6 295.0,359.2 295.3,357.6 295.5,358.5 295.7,358.7 295.9,358.0 296.1,359.5 296.4,358.9 296.6,357.7 296.8,359.2 297.0,358.7 297.2,359.5 297.5,358.7 297.7,359.3 297.9,359.6 298.1,358.0 298.3,358.6 298.6,358.4 298.8,358.2 299.0,358.6 299.2,359.0 299.4,358.8 299.7,358.8 299.9,358.5 300.1,358.7 300.3,358.6 300.5,358.7 300.8,358.8 301.0,358.9 301.2,359.3 301.4,358.7 301.6,358.3 301.9,358.1 302.1,358.7 302.3,358.9 302.5,360.6 302.7,358.7 303.0,357.7 303.2,358.8 303.4,358.3 303.6,358.7 303.8,358.5 304.1,359.1 304.3,359.8 304.5,359.6 304.7,359.2 304.9,360.1 305.2,359.5 305.4,359.6 305.6,357.2 305.8,358.7 306.0,359.0 306.3,358.9 306.5,358.8 306.7,358.9 306.9,358.9 307.1,359.9 307.4,358.8 307.6,359.0 307.8,359.8 308.0,360.7 308.2,360.2 308.5,359.0 308.7,360.0 308.9,360.0 309.1,360.8 309.3,358.9 309.6,360.2 309.8,359.5 310.0,358.5 310.2,360.9 310.4,360.3 310.7,360.0 310.9,359.2 311.1,360.5 311.3,360.2 311.5,359.9 311.8,359.8 312.0,359.6 312.2,360.3 312.4,360.5 312.6,359.3 312.9,359.6 313.1,359.1 313.3,359.8 313.5,359.2 313.7,360.3 314.0,359.1 314.2,359.8 314.4,359.5 314.6,359.2 314.8,359.1 315.1,360.8 315.3,359.0 315.5,359.8 315.7,358.8 315.9,359.3 316.2,358.5 316.4,360.1 316.6,360.0 316.8,359.6 317.0,360.2 317.3,360.4 317.5,358.8 317.7,360.3 317.9,359.2 318.1,359.2 318.4,359.5 318.6,359.7 318.8,359.2 319.0,359.0 319.2,359.4 319.5,359.3 319.7,359.7 319.9,359.1 320.1,359.9 320.3,360.6 320.6,359.1 320.8,358.7 321.0,359.1 321.2,359.2 321.4,360.3 321.7,360.4 321.9,360.2 322.1,359.3 322.3,359.2 322.5,359.0 322.8,359.5 323.0,359.9 323.2,359.4 323.4,359.1 323.6,360.0 323.9,360.6 324.1,359.4 324.3,359.5 324.5,360.2 324.7,359.6 325.0,359.1 325.2,359.2 325.4,360.2"/></g><g stroke="#7c7c7c" stroke-width="1.1"><rect x="50.8" y="276.8" width="275.2" height="179.4" fill="none"/><line x1="54.90" y1="456.20" x2="54.90" y2="452.20"/><line x1="54.90" y1="276.80" x2="54.90" y2="280.80"/><line x1="97.82" y1="456.20" x2="97.82" y2="454.00"/><line x1="97.82" y1="276.80" x2="97.82" y2="279.00"/><line x1="140.73" y1="456.20" x2="140.73" y2="452.20"/><line x1="140.73" y1="276.80" x2="140.73" y2="280.80"/><line x1="183.65" y1="456.20" x2="183.65" y2="454.00"/><line x1="183.65" y1="276.80" x2="183.65" y2="279.00"/><line x1="226.57" y1="456.20" x2="226.57" y2="452.20"/><line x1="226.57" y1="276.80" x2="226.57" y2="280.80"/><line x1="269.48" y1="456.20" x2="269.48" y2="454.00"/><line x1="269.48" y1="276.80" x2="269.48" y2="279.00"/><line x1="312.40" y1="456.20" x2="312.40" y2="452.20"/><line x1="312.40" y1="276.80" x2="312.40" y2="280.80"/><line x1="50.80" y1="456.80" x2="54.80" y2="456.80"/><line x1="326.00" y1="456.80" x2="322.00" y2="456.80"/><line x1="50.80" y1="434.73" x2="53.00" y2="434.73"/><line x1="326.00" y1="434.73" x2="323.80" y2="434.73"/><line x1="50.80" y1="412.65" x2="54.80" y2="412.65"/><line x1="326.00" y1="412.65" x2="322.00" y2="412.65"/><line x1="50.80" y1="390.58" x2="53.00" y2="390.58"/><line x1="326.00" y1="390.58" x2="323.80" y2="390.58"/><line x1="50.80" y1="368.50" x2="54.80" y2="368.50"/><line x1="326.00" y1="368.50" x2="322.00" y2="368.50"/><line x1="50.80" y1="346.43" x2="53.00" y2="346.43"/><line x1="326.00" y1="346.43" x2="323.80" y2="346.43"/><line x1="50.80" y1="324.35" x2="54.80" y2="324.35"/><line x1="326.00" y1="324.35" x2="322.00" y2="324.35"/><line x1="50.80" y1="302.27" x2="53.00" y2="302.27"/><line x1="326.00" y1="302.27" x2="323.80" y2="302.27"/><line x1="50.80" y1="280.20" x2="54.80" y2="280.20"/><line x1="326.00" y1="280.20" x2="322.00" y2="280.20"/></g><g font-family="Liberation Sans, sans-serif" fill="#000"><text transform="translate(54.90,469.4) scale(1,0.8)" font-size="13.4" text-anchor="middle" stroke="#000" stroke-width="0.15">3.3</text><text transform="translate(140.73,469.4) scale(1,0.8)" font-size="13.4" text-anchor="middle" stroke="#000" stroke-width="0.15">3.4</text><text transform="translate(226.57,469.4) scale(1,0.8)" font-size="13.4" text-anchor="middle" stroke="#000" stroke-width="0.15">3.5</text><text transform="translate(312.40,469.4) scale(1,0.8)" font-size="13.4" text-anchor="middle" stroke="#000" stroke-width="0.15">3.6</text><text transform="translate(46.0,460.40) scale(1.0,0.8)" font-size="13.4" text-anchor="end" stroke="#000" stroke-width="0.15">0.0</text><text transform="translate(46.0,416.25) scale(1.0,0.8)" font-size="13.4" text-anchor="end" stroke="#000" stroke-width="0.15">0.5</text><text transform="translate(46.0,372.10) scale(1.0,0.8)" font-size="13.4" text-anchor="end" stroke="#000" stroke-width="0.15">1.0</text><text transform="translate(46.0,327.95) scale(1.0,0.8)" font-size="13.4" text-anchor="end" stroke="#000" stroke-width="0.15">1.5</text><text transform="translate(46.0,283.80) scale(1.0,0.8)" font-size="13.4" text-anchor="end" stroke="#000" stroke-width="0.15">2.0</text></g><rect x="0" y="405" width="30" height="13" fill="#fff"/><g font-family="Liberation Sans, sans-serif" fill="#000" stroke="#000" stroke-width="0.2"><text x="272.80" y="486.40" font-size="17.3" text-anchor="middle">Time / s</text><text transform="translate(19.0,357.9) rotate(-90)" font-size="18.3" text-anchor="middle">Current / nA</text><text transform="translate(59.0,299) scale(0.9,1)" font-size="20.2" stroke="#000" stroke-width="0.35">B</text></g><g stroke="#7d7d7d" stroke-width="0.9" fill="none"><rect x="179.6" y="600.0" width="161.1" height="130.2" fill="none"/><line x1="179.80" y1="730.20" x2="179.80" y2="727.60"/><line x1="179.80" y1="600.00" x2="179.80" y2="602.60"/><line x1="233.45" y1="730.20" x2="233.45" y2="727.60"/><line x1="233.45" y1="600.00" x2="233.45" y2="602.60"/><line x1="287.10" y1="730.20" x2="287.10" y2="727.60"/><line x1="287.10" y1="600.00" x2="287.10" y2="602.60"/><line x1="340.75" y1="730.20" x2="340.75" y2="727.60"/><line x1="340.75" y1="600.00" x2="340.75" y2="602.60"/><line x1="206.63" y1="730.20" x2="206.63" y2="728.80"/><line x1="206.63" y1="600.00" x2="206.63" y2="601.40"/><line x1="260.28" y1="730.20" x2="260.28" y2="728.80"/><line x1="260.28" y1="600.00" x2="260.28" y2="601.40"/><line x1="313.93" y1="730.20" x2="313.93" y2="728.80"/><line x1="313.93" y1="600.00" x2="313.93" y2="601.40"/><line x1="179.60" y1="721.40" x2="182.20" y2="721.40"/><line x1="340.70" y1="721.40" x2="338.10" y2="721.40"/><line x1="179.60" y1="695.20" x2="182.20" y2="695.20"/><line x1="340.70" y1="695.20" x2="338.10" y2="695.20"/><line x1="179.60" y1="669.00" x2="182.20" y2="669.00"/><line x1="340.70" y1="669.00" x2="338.10" y2="669.00"/><line x1="179.60" y1="642.80" x2="182.20" y2="642.80"/><line x1="340.70" y1="642.80" x2="338.10" y2="642.80"/><line x1="179.60" y1="616.60" x2="182.20" y2="616.60"/><line x1="340.70" y1="616.60" x2="338.10" y2="616.60"/><line x1="179.60" y1="708.30" x2="181.00" y2="708.30"/><line x1="340.70" y1="708.30" x2="339.30" y2="708.30"/><line x1="179.60" y1="682.10" x2="181.00" y2="682.10"/><line x1="340.70" y1="682.10" x2="339.30" y2="682.10"/><line x1="179.60" y1="655.90" x2="181.00" y2="655.90"/><line x1="340.70" y1="655.90" x2="339.30" y2="655.90"/><line x1="179.60" y1="629.70" x2="181.00" y2="629.70"/><line x1="340.70" y1="629.70" x2="339.30" y2="629.70"/><line x1="179.60" y1="603.50" x2="181.00" y2="603.50"/><line x1="340.70" y1="603.50" x2="339.30" y2="603.50"/></g><polyline fill="none" stroke="#c4a030" stroke-width="0.9" stroke-linejoin="round" points="180.4,725.9 180.8,725.0 181.2,725.1 181.6,725.1 182.0,725.7 182.4,726.1 182.8,725.5 183.2,723.7 183.6,725.7 184.0,725.9 184.4,724.9 184.8,724.5 185.2,724.3 185.6,725.9 186.0,725.2 186.4,725.9 186.8,726.0 187.2,724.3 187.6,725.0 188.0,724.5 188.4,724.6 188.8,726.1 189.2,724.7 189.6,725.3 190.0,726.4 190.4,725.9 190.8,725.2 191.2,726.0 191.6,725.8 192.0,727.0 192.4,724.8 192.8,725.6 193.2,725.8 193.6,725.7 194.0,725.4 194.4,726.2 194.8,725.7 195.2,725.9 195.6,727.0 196.0,727.3 196.4,726.3 196.8,726.3 197.2,725.7 197.6,724.8 198.0,723.9 198.4,726.3 198.8,726.3 199.2,726.0 199.6,725.2 200.0,726.2 200.4,727.0 200.8,726.0 201.2,724.7 201.6,724.5 202.0,725.1 202.4,725.1 202.8,725.6 203.2,723.9 203.6,725.7 204.0,725.0 204.4,726.1 204.8,725.1 205.2,725.6 205.6,725.1 206.0,724.5 206.4,726.5 206.8,725.0 207.2,724.5 207.6,725.3 208.0,725.6 208.4,725.1 208.8,725.1 209.2,725.5 209.6,726.0 210.0,726.5 210.4,726.0 210.8,725.9 211.2,726.3 211.6,725.0 212.0,725.9 212.4,726.7 212.8,725.3 213.2,726.6 213.6,725.8 214.0,726.4 214.4,725.0 214.8,725.1 215.2,726.6 215.6,725.5 216.0,725.3 216.4,725.9 216.8,723.4 217.2,725.9 217.6,726.5 218.0,725.4 218.4,723.9 218.8,723.9 219.2,725.5 219.6,726.8 220.0,725.6 220.4,725.7 220.8,726.2 221.2,725.2 221.6,726.3 222.0,724.6 222.4,725.5 222.8,725.3 223.2,725.2 223.6,723.8 224.0,725.1 224.4,726.0 224.8,725.2 225.2,726.7 225.6,725.6 226.0,725.7 226.4,724.5 226.8,726.2 227.2,726.0 227.6,726.6 228.0,725.0 228.4,725.7 228.8,726.4 229.2,725.4 229.6,725.3 230.0,724.4 230.4,726.3 230.8,726.1 231.2,724.7 231.6,726.2 232.0,726.5 232.4,725.9 232.8,725.4 233.2,725.6 233.6,724.1 234.0,725.2 234.4,725.1 234.8,724.4 235.2,725.9 235.6,725.3 236.0,726.0 236.4,725.3 236.8,724.6 237.2,725.7 237.6,725.4 238.0,726.2 238.4,725.8 238.8,726.9 239.2,725.6 239.6,727.3 240.0,726.4 240.4,727.0 240.8,725.3 241.2,726.6 241.6,726.4 242.0,727.3 242.4,726.1 242.8,726.7 243.2,725.3 243.6,726.7 244.0,727.0 244.4,726.8 244.8,726.0 245.2,726.8 245.6,726.3 246.0,725.3 246.4,726.1 246.8,725.8 247.2,726.3 247.6,726.2 248.0,726.0 248.4,726.3 248.8,724.4 249.2,726.5 249.6,726.4 250.0,725.6 250.4,725.8 250.8,725.9 251.2,725.2 251.6,725.3 252.0,725.8 252.4,726.2 252.8,725.1 253.2,725.1 253.6,725.3 254.0,726.3 254.4,725.0 254.8,725.1 255.2,725.4 255.6,725.1 256.0,725.0 256.4,726.0 256.8,725.9 257.2,725.0 257.6,725.7 258.0,726.0 258.4,724.4 258.8,724.4 259.2,725.8 259.6,724.7 260.0,725.9 260.4,725.8 260.8,725.4 261.2,725.0 261.6,726.2 262.0,726.6 262.4,725.0 262.8,725.9 263.2,726.4 263.6,726.0 264.0,725.2 264.4,725.3 264.8,724.6 265.2,725.9 265.6,725.3 266.0,726.1 266.4,726.1 266.8,725.7 267.2,725.8 267.6,726.4 268.0,725.3 268.4,726.6 268.8,725.6 269.2,724.7 269.6,724.7 270.0,726.0 270.4,725.6 270.8,724.1 271.2,725.5 271.6,726.4 272.0,725.4 272.4,724.5 272.8,725.6 273.2,725.7 273.6,724.6 274.0,725.5 274.4,724.3"/><polyline fill="none" stroke="#d8bb5a" stroke-width="0.7" stroke-linejoin="round" points="274.4,724.3 274.8,726.5 274.8,725.4 274.9,708.6 275.2,710.3 275.6,713.2 276.0,717.1 276.4,719.4 276.8,720.5 277.2,722.9 277.6,723.3 278.0,723.6 278.4,724.5"/><polyline fill="none" stroke="#c4a030" stroke-width="0.9" stroke-linejoin="round" points="278.4,724.5 278.8,723.5 279.2,724.0 279.6,725.2 280.0,725.1 280.4,725.0 280.8,724.8 281.2,725.1 281.6,724.4 282.0,724.1 282.4,723.8 282.8,725.4 283.2,726.1 283.6,725.0 284.0,725.9 284.4,725.3 284.8,725.0 285.2,726.3 285.6,725.5 286.0,725.3 286.4,725.7 286.8,725.4 287.2,724.8 287.6,725.2 288.0,725.1 288.4,725.7 288.8,726.1 289.2,726.7 289.6,726.1 290.0,724.9 290.4,724.8 290.8,725.6 291.2,726.6 291.6,725.3 292.0,725.8 292.4,725.4 292.8,725.9 293.2,725.4 293.6,726.0 294.0,725.6 294.4,726.1 294.8,725.1 295.2,726.0 295.6,725.8 296.0,726.1 296.4,725.6 296.8,726.2 297.2,726.0 297.6,725.6 298.0,726.3 298.4,725.4 298.8,726.8 299.2,724.5 299.6,725.7 300.0,726.1 300.4,725.4 300.8,725.9 301.2,725.2 301.6,725.9 302.0,726.0 302.4,724.6 302.8,724.4 303.2,725.5 303.6,724.5 304.0,725.4 304.4,725.6 304.8,724.2 305.2,725.2 305.6,724.9 306.0,725.5 306.4,724.7 306.8,725.5 307.2,725.2 307.6,724.0 308.0,724.7 308.4,725.9 308.8,725.4 309.2,725.6 309.6,725.6 310.0,725.3 310.4,724.4 310.8,725.5 311.2,724.6 311.6,724.4 312.0,725.7 312.4,726.3 312.8,725.6 313.2,724.9 313.6,724.3 314.0,725.9 314.4,726.4 314.8,725.2 315.2,725.8 315.6,724.7 316.0,725.0 316.4,725.9 316.8,725.9 317.2,725.0 317.6,725.1 318.0,725.6 318.4,725.6 318.8,725.5 319.2,725.7 319.6,726.4 320.0,725.2 320.4,726.3 320.8,725.7 321.2,725.9 321.6,724.4 322.0,724.8 322.4,725.3 322.8,724.7 323.2,726.0 323.6,726.1 324.0,726.3 324.4,725.5 324.8,724.7 325.2,724.1 325.6,726.1 326.0,725.1 326.4,724.4 326.8,725.2 327.2,726.6 327.6,725.5 328.0,725.4 328.4,726.0 328.8,725.7 329.2,725.4 329.6,725.9 330.0,724.5 330.4,723.9 330.8,724.7 331.2,726.3 331.6,725.8 332.0,723.8 332.4,725.6 332.8,724.0 333.2,725.2 333.6,725.4 334.0,724.6 334.4,725.4 334.8,724.2 335.2,726.2 335.6,726.5 336.0,725.8 336.4,724.6 336.8,725.0 337.2,724.8 337.6,725.3 338.0,725.7 338.4,725.3 338.8,726.2 339.2,727.6 339.6,727.0 340.0,726.3"/><g font-family="Liberation Sans, sans-serif" fill="#222" stroke="#222" stroke-width="0.12"><text x="176.60" y="697.80" font-size="7.2" text-anchor="end">0.4</text><text x="176.60" y="724.00" font-size="7.2" text-anchor="end">0.2</text><text x="179.80" y="738.60" font-size="6.6" text-anchor="middle">5.06</text><text x="233.45" y="738.60" font-size="6.6" text-anchor="middle">5.07</text><text x="287.10" y="738.60" font-size="6.6" text-anchor="middle">5.08</text><text x="340.75" y="738.60" font-size="6.6" text-anchor="middle">5.09</text></g><g font-family="Liberation Sans, sans-serif"><text x="315.4" y="750.0" font-size="11.6" text-anchor="middle" stroke="#111" stroke-width="0.3" textLength="40.6" lengthAdjust="spacingAndGlyphs" fill="#111">Time / s</text><text x="326.6" y="717.8" font-size="14.2" textLength="7.0" lengthAdjust="spacingAndGlyphs" fill="#000" stroke="#000" stroke-width="0.25">E</text><text x="186.8" y="710.4" font-size="12.6" textLength="77.5" lengthAdjust="spacingAndGlyphs" fill="#f5a900" stroke="#f5a900" stroke-width="0.2">PVP-AgRNPls</text></g><rect x="118" y="531" width="198" height="161" fill="#fff"/><g stroke="#808080" stroke-width="0.9" fill="none"><rect x="148.3" y="535.6" width="160.2" height="127.8" fill="none"/><line x1="148.50" y1="663.40" x2="148.50" y2="660.80"/><line x1="148.50" y1="535.60" x2="148.50" y2="538.20"/><line x1="201.87" y1="663.40" x2="201.87" y2="660.80"/><line x1="201.87" y1="535.60" x2="201.87" y2="538.20"/><line x1="255.24" y1="663.40" x2="255.24" y2="660.80"/><line x1="255.24" y1="535.60" x2="255.24" y2="538.20"/><line x1="308.61" y1="663.40" x2="308.61" y2="660.80"/><line x1="308.61" y1="535.60" x2="308.61" y2="538.20"/><line x1="175.18" y1="663.40" x2="175.18" y2="662.00"/><line x1="175.18" y1="535.60" x2="175.18" y2="537.00"/><line x1="228.55" y1="663.40" x2="228.55" y2="662.00"/><line x1="228.55" y1="535.60" x2="228.55" y2="537.00"/><line x1="281.92" y1="663.40" x2="281.92" y2="662.00"/><line x1="281.92" y1="535.60" x2="281.92" y2="537.00"/><line x1="148.30" y1="664.14" x2="150.90" y2="664.14"/><line x1="308.50" y1="664.14" x2="305.90" y2="664.14"/><line x1="148.30" y1="638.40" x2="150.90" y2="638.40"/><line x1="308.50" y1="638.40" x2="305.90" y2="638.40"/><line x1="148.30" y1="612.66" x2="150.90" y2="612.66"/><line x1="308.50" y1="612.66" x2="305.90" y2="612.66"/><line x1="148.30" y1="586.92" x2="150.90" y2="586.92"/><line x1="308.50" y1="586.92" x2="305.90" y2="586.92"/><line x1="148.30" y1="561.18" x2="150.90" y2="561.18"/><line x1="308.50" y1="561.18" x2="305.90" y2="561.18"/><line x1="148.30" y1="651.27" x2="149.70" y2="651.27"/><line x1="308.50" y1="651.27" x2="307.10" y2="651.27"/><line x1="148.30" y1="625.53" x2="149.70" y2="625.53"/><line x1="308.50" y1="625.53" x2="307.10" y2="625.53"/><line x1="148.30" y1="599.79" x2="149.70" y2="599.79"/><line x1="308.50" y1="599.79" x2="307.10" y2="599.79"/><line x1="148.30" y1="574.05" x2="149.70" y2="574.05"/><line x1="308.50" y1="574.05" x2="307.10" y2="574.05"/><line x1="148.30" y1="548.31" x2="149.70" y2="548.31"/><line x1="308.50" y1="548.31" x2="307.10" y2="548.31"/></g><polyline fill="none" stroke="#5e5e5e" stroke-width="0.6" stroke-linejoin="round" points="149.1,655.2 149.5,655.8 149.9,656.3 150.3,658.1 150.7,658.5 151.1,656.0 151.5,659.3 151.9,658.5 152.3,657.2 152.7,657.4 153.1,659.3 153.5,658.2 153.9,657.7 154.3,657.0 154.7,657.9 155.1,659.8 155.5,655.9 155.9,656.6 156.3,658.1 156.7,658.2 157.1,658.8 157.5,657.1 157.9,657.8 158.3,657.2 158.7,655.7 159.1,659.7 159.5,659.1 159.9,657.3 160.3,658.0 160.7,656.4 161.1,658.4 161.5,657.4 161.9,657.4 162.3,655.7 162.7,655.3 163.1,656.2 163.5,657.4 163.9,656.0 164.3,657.7 164.7,656.3 165.1,656.3 165.5,659.1 165.9,656.8 166.3,656.9 166.7,656.2 167.1,656.2 167.5,656.3 167.9,655.6 168.3,656.6 168.7,656.6 169.1,658.9 169.5,656.7 169.9,657.4 170.3,657.4 170.7,658.0 171.1,657.9 171.5,660.2 171.9,656.2 172.3,659.3 172.7,657.4 173.1,655.2 173.5,659.3 173.9,657.3 174.3,659.5 174.7,656.5 175.1,657.6 175.5,658.9 175.9,659.1 176.3,654.6 176.7,656.0 177.1,659.6 177.5,659.7 177.9,658.0 178.3,658.5 178.7,655.8 179.1,658.4 179.5,657.8 179.9,657.8 180.3,658.6 180.7,657.2 181.1,658.8 181.5,656.5 181.9,657.4 182.3,655.8 182.7,658.2 183.1,655.1 183.5,656.3 183.9,658.2 184.3,656.2 184.7,654.7 185.1,658.3 185.5,659.4 185.9,658.2 186.3,656.3 186.7,656.7 187.1,657.7 187.5,658.2 187.9,657.1 188.3,656.7 188.7,658.0 189.1,657.1 189.5,658.9 189.9,656.8 190.3,659.0 190.7,657.5 191.1,658.6 191.5,656.5 191.9,656.2 192.3,655.6 192.7,657.2 193.1,655.1 193.5,657.5 193.9,657.5 194.3,655.8 194.7,654.9 195.1,658.6 195.5,656.1 195.9,656.0 196.3,656.1 196.7,658.2 197.1,658.1 197.5,658.3 197.9,655.9 198.3,658.0 198.7,656.0 199.1,656.5 199.5,656.7 199.9,655.2 200.3,657.1 200.7,657.0 201.1,655.6 201.5,657.2 201.9,657.4 202.3,656.6 202.7,658.8 203.1,656.6 203.5,656.0 203.9,655.4 204.3,657.7 204.7,656.7 205.1,656.8 205.5,658.7 205.9,656.3 206.3,657.2 206.7,656.6 207.1,655.8 207.5,656.2 207.9,657.3 208.3,657.6 208.7,657.7 209.1,657.2 209.5,656.0 209.9,656.3 210.3,659.0 210.7,655.8 211.1,655.5 211.5,657.8 211.9,657.7 212.3,656.5 212.7,657.2 213.1,654.8 213.5,656.9 213.9,656.4 214.3,655.3 214.7,655.8 215.1,657.0 215.5,657.6 215.9,656.4 216.3,659.2 216.7,654.8 217.1,656.1 217.5,656.4 217.9,656.4 218.3,657.0 218.7,655.6 219.1,657.8 219.5,656.2 219.9,656.8 220.3,656.5 220.7,656.6 221.1,658.2 221.5,655.1 221.9,656.7"/><polyline fill="none" stroke="#8a8a8a" stroke-width="0.6" stroke-linejoin="round" points="221.9,656.7 222.2,657.2 222.3,559.8 222.3,552.6 222.7,594.4 223.1,616.8 223.5,632.6 223.9,641.4 224.3,648.0 224.7,650.6 225.1,652.7"/><polyline fill="none" stroke="#5e5e5e" stroke-width="0.6" stroke-linejoin="round" points="225.1,652.7 225.5,654.3 225.9,653.0 226.3,655.6 226.7,655.3 227.1,657.2 227.5,654.0 227.9,656.1 228.3,655.2 228.7,655.1 229.1,654.7 229.5,658.4 229.9,655.3 230.3,656.1 230.7,654.3 231.1,652.5 231.5,656.7 231.9,658.1 232.3,655.6 232.7,654.1 233.1,654.8 233.5,657.5 233.9,656.0 234.3,658.5 234.7,655.3 235.1,658.1 235.5,654.0 235.9,656.4 236.3,654.3 236.7,658.5 237.1,658.3 237.5,657.9 237.9,657.0 238.3,656.5 238.7,655.6 239.1,656.8 239.5,656.3 239.9,657.9 240.3,655.9 240.7,654.2 241.1,657.9 241.5,657.0 241.9,658.8 242.3,657.6 242.7,657.9 243.1,655.0 243.5,657.9 243.9,657.2 244.3,659.1 244.7,657.0 245.1,656.7 245.5,654.6 245.9,657.6 246.3,659.0 246.7,656.8 247.1,656.0 247.5,658.1 247.9,656.6 248.3,658.4 248.7,657.4 249.1,658.7 249.5,658.2 249.9,657.0 250.3,657.8 250.7,655.6 251.1,657.7 251.5,656.7 251.9,657.1 252.3,658.9 252.7,656.1 253.1,657.1 253.5,657.4 253.9,657.5 254.3,656.5 254.7,658.1 255.1,658.5 255.5,655.8 255.9,656.0 256.3,657.8 256.7,659.0 257.1,657.2 257.5,658.3 257.9,656.0 258.3,656.2 258.7,656.6 259.1,660.2 259.5,661.2 259.9,656.8 260.3,658.0 260.7,658.6 261.1,659.0 261.5,657.9 261.9,658.4 262.3,655.7 262.7,657.8 263.1,656.5 263.5,656.9 263.9,657.9 264.3,655.8 264.7,656.4 265.1,658.1 265.5,658.4 265.9,658.2 266.3,658.8 266.7,656.7 267.1,658.3 267.5,657.4 267.9,657.7 268.3,656.9 268.7,657.0 269.1,657.0 269.5,657.9 269.9,658.4 270.3,657.1 270.7,658.9 271.1,656.7 271.5,658.2 271.9,658.7 272.3,658.7 272.7,657.9 273.1,657.2 273.5,657.8 273.9,655.4 274.3,658.0 274.7,656.8 275.1,654.8 275.5,656.7 275.9,657.2 276.3,658.3 276.7,656.8 277.1,657.7 277.5,655.4 277.9,655.3 278.3,656.8 278.7,657.8 279.1,655.9 279.5,657.1 279.9,655.8 280.3,659.4 280.7,656.6 281.1,657.0 281.5,659.6 281.9,659.0 282.3,657.7 282.7,659.0 283.1,658.0 283.5,659.6 283.9,656.2 284.3,656.3 284.7,657.3 285.1,657.0 285.5,656.2 285.9,657.9 286.3,658.4 286.7,659.5 287.1,661.0 287.5,657.9 287.9,655.7 288.3,658.6 288.7,656.4 289.1,657.3 289.5,657.4 289.9,657.1 290.3,658.4 290.7,659.0 291.1,658.6 291.5,657.8 291.9,659.6 292.3,659.9 292.7,659.3 293.1,656.6 293.5,658.3 293.9,656.1 294.3,658.7 294.7,655.7 295.1,657.9 295.5,658.2 295.9,658.5 296.3,659.2 296.7,656.5 297.1,655.0 297.5,657.2 297.9,658.4 298.3,656.6 298.7,658.3 299.1,658.4 299.5,658.9 299.9,655.0 300.3,657.3 300.7,658.1 301.1,656.4 301.5,660.0 301.9,658.4 302.3,657.3 302.7,659.1 303.1,657.5 303.5,658.1 303.9,656.7 304.3,657.2 304.7,655.5 305.1,655.2 305.5,657.2 305.9,656.1 306.3,656.3 306.7,658.1 307.1,660.1 307.5,657.9 307.9,658.1"/><g font-family="Liberation Sans, sans-serif" fill="#222" stroke="#222" stroke-width="0.12"><text x="146.00" y="641.00" font-size="7.2" text-anchor="end">0.6</text><text x="146.00" y="666.74" font-size="7.2" text-anchor="end">0.4</text><text x="148.50" y="672.20" font-size="6.6" text-anchor="middle">5.15</text><text x="201.87" y="672.20" font-size="6.6" text-anchor="middle">5.16</text><text x="255.24" y="672.20" font-size="6.6" text-anchor="middle">5.17</text><text x="308.61" y="672.20" font-size="6.6" text-anchor="middle">5.18</text></g><g font-family="Liberation Sans, sans-serif"><text x="284.6" y="684.3" font-size="11.6" text-anchor="middle" stroke="#111" stroke-width="0.3" textLength="40.6" lengthAdjust="spacingAndGlyphs" fill="#111">Time / s</text><text x="291.3" y="648.6" font-size="13.8" textLength="9.4" lengthAdjust="spacingAndGlyphs" fill="#000" stroke="#000" stroke-width="0.25">D</text><text x="234.2" y="555.9" font-size="14.0" textLength="66.6" lengthAdjust="spacingAndGlyphs" fill="#a0a0a0" stroke="#a0a0a0" stroke-width="0.15">PVP-AgNSs</text></g><rect x="0" y="471" width="220" height="163.5" fill="#fff"/><g stroke="#8a8a8a" stroke-width="0.9" fill="none"><rect x="48.5" y="476.2" width="161.3" height="129.8" fill="none"/><line x1="48.50" y1="606.00" x2="48.50" y2="603.40"/><line x1="48.50" y1="476.20" x2="48.50" y2="478.80"/><line x1="102.25" y1="606.00" x2="102.25" y2="603.40"/><line x1="102.25" y1="476.20" x2="102.25" y2="478.80"/><line x1="156.00" y1="606.00" x2="156.00" y2="603.40"/><line x1="156.00" y1="476.20" x2="156.00" y2="478.80"/><line x1="209.75" y1="606.00" x2="209.75" y2="603.40"/><line x1="209.75" y1="476.20" x2="209.75" y2="478.80"/><line x1="75.37" y1="606.00" x2="75.37" y2="604.60"/><line x1="75.37" y1="476.20" x2="75.37" y2="477.60"/><line x1="129.13" y1="606.00" x2="129.13" y2="604.60"/><line x1="129.13" y1="476.20" x2="129.13" y2="477.60"/><line x1="182.87" y1="606.00" x2="182.87" y2="604.60"/><line x1="182.87" y1="476.20" x2="182.87" y2="477.60"/><line x1="48.50" y1="589.80" x2="51.10" y2="589.80"/><line x1="209.80" y1="589.80" x2="207.20" y2="589.80"/><line x1="48.50" y1="563.72" x2="51.10" y2="563.72"/><line x1="209.80" y1="563.72" x2="207.20" y2="563.72"/><line x1="48.50" y1="537.64" x2="51.10" y2="537.64"/><line x1="209.80" y1="537.64" x2="207.20" y2="537.64"/><line x1="48.50" y1="511.56" x2="51.10" y2="511.56"/><line x1="209.80" y1="511.56" x2="207.20" y2="511.56"/><line x1="48.50" y1="485.48" x2="51.10" y2="485.48"/><line x1="209.80" y1="485.48" x2="207.20" y2="485.48"/><line x1="48.50" y1="602.84" x2="49.90" y2="602.84"/><line x1="209.80" y1="602.84" x2="208.40" y2="602.84"/><line x1="48.50" y1="576.76" x2="49.90" y2="576.76"/><line x1="209.80" y1="576.76" x2="208.40" y2="576.76"/><line x1="48.50" y1="550.68" x2="49.90" y2="550.68"/><line x1="209.80" y1="550.68" x2="208.40" y2="550.68"/><line x1="48.50" y1="524.60" x2="49.90" y2="524.60"/><line x1="209.80" y1="524.60" x2="208.40" y2="524.60"/><line x1="48.50" y1="498.52" x2="49.90" y2="498.52"/><line x1="209.80" y1="498.52" x2="208.40" y2="498.52"/></g><polyline fill="none" stroke="#3aa3a3" stroke-width="0.7" stroke-linejoin="round" points="49.3,597.3 49.7,599.4 50.1,600.7 50.5,600.7 50.9,600.6 51.3,598.3 51.7,600.4 52.1,601.2 52.5,603.8 52.9,601.8 53.3,602.0 53.7,602.6 54.1,601.6 54.5,601.5 54.9,601.5 55.3,601.6 55.7,600.0 56.1,602.7 56.5,601.6 56.9,601.7 57.3,599.0 57.7,602.4 58.1,599.9 58.5,599.1 58.9,603.7 59.3,600.8 59.7,601.5 60.1,600.8 60.5,601.3 60.9,601.8 61.3,601.3 61.7,599.9 62.1,601.7 62.5,601.7 62.9,600.7 63.3,603.6 63.7,599.8 64.1,600.2 64.5,600.7 64.9,601.6 65.3,600.3 65.7,600.5 66.1,600.4 66.5,601.0 66.9,601.2 67.3,600.1 67.7,603.5 68.1,601.2 68.5,601.2 68.9,598.7 69.3,602.2 69.7,602.2 70.1,602.4 70.5,601.2 70.9,601.8 71.3,601.4 71.7,600.0 72.1,602.9 72.5,599.8 72.9,598.6 73.3,599.9 73.7,598.8 74.1,601.1 74.5,602.0 74.9,598.6 75.3,598.0 75.7,602.5 76.1,599.7 76.5,599.9 76.9,601.9 77.3,601.3 77.7,599.6 78.1,600.5 78.5,601.2 78.9,599.6 79.3,600.6 79.7,601.7 80.1,600.4 80.5,601.4 80.9,601.1 81.3,599.7 81.7,601.2 82.1,598.9 82.5,601.2 82.9,600.4 83.3,599.5 83.7,600.2 84.1,598.2 84.5,599.7 84.9,600.5 85.3,601.3 85.7,600.8 86.1,599.4 86.5,601.1 86.9,600.5 87.3,601.5 87.7,597.2 88.1,601.8 88.5,599.2 88.9,599.8 89.3,599.8 89.7,598.6 90.1,601.1 90.5,601.2 90.9,599.4 91.3,599.4 91.7,598.6 92.1,599.4 92.5,600.6 92.9,602.1 93.3,601.5 93.7,599.6 94.1,601.1 94.5,598.9 94.9,600.8 95.3,599.9 95.7,599.9 96.1,599.7 96.5,598.7 96.9,599.1 97.3,600.4 97.7,599.3 98.1,600.8 98.5,598.4 98.9,600.2 99.3,601.4 99.7,600.3 100.1,599.1 100.5,600.4 100.9,602.0 101.3,601.2 101.7,601.6 102.1,603.1 102.5,600.8 102.9,600.7 103.3,601.9 103.7,600.7 104.1,601.9 104.5,601.1 104.9,603.7 105.3,599.9 105.7,602.4 106.1,601.5 106.5,602.9 106.9,603.8 107.3,601.0 107.7,601.6 108.1,602.5 108.5,603.4 108.9,600.1 109.3,601.8 109.7,602.1 110.1,600.7 110.5,599.0 110.9,602.5 111.3,603.1 111.7,601.1 112.1,600.8 112.5,600.5 112.9,598.6 113.3,598.6 113.7,600.5 114.1,601.7 114.5,601.1 114.9,598.9 115.3,602.1 115.7,600.2 116.1,603.1 116.5,599.6 116.9,599.6 117.3,601.6 117.7,598.5 118.1,600.4 118.5,601.0 118.9,601.6 119.3,603.3 119.7,600.6 120.1,601.9 120.5,602.7 120.9,600.3 121.3,601.0 121.7,602.7 122.1,601.3 122.5,601.9 122.9,603.1 123.3,599.9 123.7,599.2 124.1,603.7 124.5,601.4 124.9,602.0 125.3,602.3 125.7,602.3 126.1,601.9 126.5,599.4 126.9,601.2 127.3,598.4 127.7,599.3 128.1,603.7 128.5,599.3 128.9,601.8 129.3,600.7 129.7,600.1 130.1,600.9 130.5,601.8 130.9,598.9 131.3,601.4"/><polyline fill="none" stroke="#8fcccc" stroke-width="0.7" stroke-linejoin="round" points="131.3,601.4 131.2,600.3 131.4,484.8 131.7,508.9 132.1,535.6 132.5,555.3 132.9,569.8 133.3,578.3 133.7,585.7 134.1,588.8 134.5,593.2 134.9,595.5 135.3,595.0"/><polyline fill="none" stroke="#3aa3a3" stroke-width="0.7" stroke-linejoin="round" points="135.3,595.0 135.7,596.5 136.1,597.4 136.5,598.4 136.9,601.3 137.3,599.5 137.7,600.0 138.1,601.3 138.5,598.7 138.9,600.4 139.3,598.6 139.7,600.5 140.1,599.4 140.5,597.1 140.9,599.3 141.3,600.0 141.7,600.8 142.1,597.5 142.5,597.5 142.9,600.5 143.3,600.4 143.7,598.2 144.1,601.1 144.5,602.7 144.9,601.0 145.3,600.1 145.7,601.7 146.1,598.0 146.5,600.6 146.9,601.8 147.3,601.5 147.7,600.3 148.1,599.0 148.5,601.1 148.9,599.8 149.3,600.7 149.7,598.2 150.1,600.3 150.5,600.4 150.9,600.1 151.3,599.3 151.7,601.7 152.1,602.0 152.5,600.9 152.9,599.2 153.3,597.7 153.7,600.5 154.1,599.8 154.5,598.7 154.9,600.3 155.3,598.1 155.7,603.0 156.1,595.7 156.5,601.2 156.9,602.8 157.3,601.3 157.7,600.3 158.1,602.5 158.5,599.1 158.9,599.0 159.3,600.1 159.7,599.5 160.1,600.4 160.5,601.1 160.9,599.0 161.3,600.3 161.7,602.0 162.1,603.7 162.5,602.6 162.9,600.4 163.3,602.7 163.7,600.5 164.1,598.6 164.5,601.9 164.9,600.3 165.3,601.1 165.7,600.9 166.1,599.0 166.5,601.2 166.9,602.3 167.3,601.1 167.7,600.1 168.1,598.7 168.5,600.0 168.9,599.9 169.3,600.7 169.7,600.4 170.1,600.2 170.5,601.0 170.9,599.1 171.3,598.5 171.7,599.9 172.1,599.3 172.5,601.1 172.9,602.3 173.3,601.2 173.7,600.0 174.1,600.0 174.5,601.4 174.9,601.0 175.3,601.3 175.7,599.1 176.1,601.1 176.5,603.5 176.9,602.2 177.3,601.5 177.7,600.2 178.1,599.9 178.5,600.5 178.9,599.2 179.3,598.8 179.7,600.7 180.1,597.9 180.5,600.6 180.9,601.6 181.3,599.1 181.7,600.1 182.1,599.7 182.5,603.0 182.9,600.6 183.3,601.7 183.7,599.4 184.1,600.2 184.5,598.9 184.9,599.5 185.3,599.1 185.7,599.0 186.1,601.5 186.5,601.4 186.9,600.8 187.3,601.2 187.7,601.1 188.1,601.3 188.5,598.5 188.9,601.9 189.3,599.7 189.7,600.7 190.1,602.4 190.5,599.1 190.9,603.5 191.3,600.6 191.7,600.3 192.1,603.3 192.5,600.0 192.9,602.1 193.3,599.4 193.7,602.2 194.1,599.7 194.5,600.0 194.9,604.4 195.3,599.5 195.7,602.0 196.1,603.6 196.5,602.2 196.9,602.0 197.3,598.3 197.7,601.4 198.1,603.9 198.5,599.4 198.9,600.7 199.3,603.3 199.7,602.8 200.1,600.6 200.5,601.4 200.9,600.6 201.3,601.7 201.7,601.3 202.1,602.2 202.5,601.3 202.9,601.7 203.3,602.7 203.7,601.7 204.1,598.7 204.5,599.0 204.9,599.8 205.3,602.8 205.7,599.3 206.1,600.6 206.5,596.7 206.9,599.6 207.3,601.1 207.7,602.2 208.1,601.9 208.5,599.6 208.9,603.2"/><g font-family="Liberation Sans, sans-serif" fill="#222" stroke="#222" stroke-width="0.12"><text x="46.20" y="592.70" font-size="8.0" text-anchor="end">1.0</text><text x="46.20" y="566.62" font-size="8.0" text-anchor="end">1.2</text><text x="46.20" y="540.54" font-size="8.0" text-anchor="end">1.4</text><text x="46.20" y="514.46" font-size="8.0" text-anchor="end">1.6</text><text x="46.20" y="488.38" font-size="8.0" text-anchor="end">1.8</text><text x="48.50" y="615.70" font-size="7.8" text-anchor="middle">3.21</text><text x="102.25" y="615.70" font-size="7.8" text-anchor="middle">3.22</text><text x="156.00" y="615.70" font-size="7.8" text-anchor="middle">3.23</text><text x="209.75" y="615.70" font-size="7.8" text-anchor="middle">3.24</text></g><g font-family="Liberation Sans, sans-serif"><text x="182.5" y="627.6" font-size="11.8" text-anchor="middle" stroke="#111" stroke-width="0.3" textLength="41.5" lengthAdjust="spacingAndGlyphs" fill="#111">Time / s</text><text transform="translate(25.9,535.9) rotate(-90)" font-size="12.2" stroke="#111" stroke-width="0.25" text-anchor="middle" textLength="64.2" lengthAdjust="spacingAndGlyphs" fill="#111">Current / nA</text><text x="192.2" y="591.7" font-size="14.4" textLength="8.7" lengthAdjust="spacingAndGlyphs" fill="#000" stroke="#000" stroke-width="0.25">C</text><text x="136.5" y="493.9" font-size="14.0" textLength="66.4" lengthAdjust="spacingAndGlyphs" fill="#17918f" stroke="#17918f" stroke-width="0.25">PVP-AgNCs</text></g></svg></body></html>
